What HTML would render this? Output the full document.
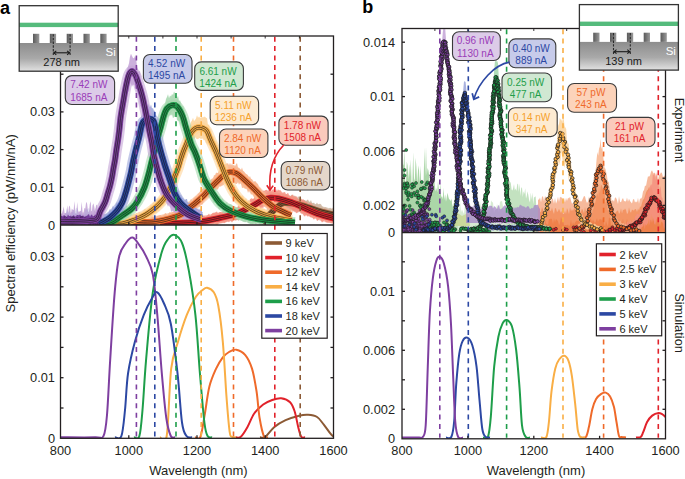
<!DOCTYPE html>
<html><head><meta charset="utf-8"><style>
html,body{margin:0;padding:0;background:#fff;width:685px;height:479px;overflow:hidden;}
body{position:relative;font-family:"Liberation Sans", sans-serif;}
</style></head><body>
<svg width="685" height="479" viewBox="0 0 685 479" style="position:absolute;left:0;top:0">
<rect width="685" height="479" fill="#fff"/>
<defs>
<clipPath id="cat"><rect x="60.5" y="36.0" width="273.0" height="189.0"/></clipPath>
<clipPath id="cab"><rect x="60.5" y="225.0" width="273.0" height="213.3"/></clipPath>
<clipPath id="cbt"><rect x="402.0" y="28.5" width="263.5" height="204.1"/></clipPath>
<clipPath id="cbb"><rect x="402.0" y="232.6" width="263.5" height="206.20000000000002"/></clipPath>
<linearGradient id="si" x1="0" y1="0" x2="0" y2="1"><stop offset="0" stop-color="#8d8d8d"/><stop offset="0.55" stop-color="#a9a9a9"/><stop offset="1" stop-color="#e2e2e2"/></linearGradient>
<linearGradient id="pil" x1="0" y1="0" x2="1" y2="0"><stop offset="0" stop-color="#5a5a5a"/><stop offset="0.5" stop-color="#7a7a7a"/><stop offset="1" stop-color="#9a9a9a"/></linearGradient>
</defs>
<g clip-path="url(#cat)" stroke-linecap="butt" stroke-linejoin="round">
<path d="M262,217.2 L263,215.2 L264,214.4 L265,214.6 L266,213.6 L267,212.4 L268,210.3 L269,210.1 L270,207.5 L271,206.6 L272,204.3 L273,203.5 L274,204.8 L275,203.2 L276,202.6 L277,200.1 L278,199.5 L279,200.2 L280,197.1 L281,197.6 L282,196.5 L283,194.9 L284,196.7 L285,195.6 L286,194.8 L287,193.9 L288,196 L289,197 L290,197.5 L291,195 L292,194.7 L293,195.5 L294,196.1 L295,195.4 L296,196.9 L297,198.6 L298,196.8 L299,196.4 L300,198.2 L301,199.8 L302,199.6 L303,200.3 L304,200.4 L305,199.9 L306,201.3 L307,200 L308,199.4 L309,201.6 L310,201.7 L311,200.1 L312,203 L313,203.2 L314,202.5 L315,204.8 L316,204 L317,202.5 L318,204.3 L319,204.1 L320,203.8 L321,204.2 L322,206 L323,207.2 L324,207.6 L325,207.4 L326,207.2 L327,208.5 L328,208.5 L329,209 L330,207.4 L331,208.8 L332,208.7 L333,207.4 L334,208.8 L335,210.2 L335,219.8 L334,220.7 L333,222.1 L332,219.2 L331,219.7 L330,218.9 L329,220.9 L328,219.2 L327,218.3 L326,217.8 L325,217.9 L324,217.4 L323,218.9 L322,217.9 L321,219 L320,218.6 L319,216.1 L318,217.6 L317,217.5 L316,216.8 L315,216 L314,215.1 L313,215.5 L312,214.4 L311,213.8 L310,215.9 L309,214.1 L308,215.3 L307,215.1 L306,213.3 L305,214.5 L304,212.1 L303,213.6 L302,211.1 L301,212 L300,212.5 L299,210.9 L298,213.1 L297,211.9 L296,211.6 L295,212.4 L294,210.5 L293,210.9 L292,209.8 L291,210.6 L290,210.8 L289,210.1 L288,211 L287,208.7 L286,209.3 L285,211.4 L284,210.4 L283,211.1 L282,209.9 L281,211.4 L280,211.5 L279,211.6 L278,211.9 L277,213.7 L276,215.2 L275,216.8 L274,215.4 L273,216.8 L272,216.9 L271,218.9 L270,221.5 L269,220.1 L268,222.8 L267,221.6 L266,223.5 L265,224.6 L264,225 L263,225 L262,225Z" fill="#cdb49e" opacity="0.85"/>
<path d="M262,222C263.3,220.7 267.3,216.6 270,214C272.7,211.4 275.7,208.3 278,206.5C280.3,204.7 280.9,203.4 283.8,203C286.7,202.6 291.3,203 295.5,203.8C299.7,204.6 304.8,206.3 309,207.6C313.2,208.9 316.4,210.4 320.7,211.6C325,212.8 332.6,214.4 335,215" fill="none" stroke="#cdb49e" stroke-width="11" opacity="0.6"/>
<path d="M160,219.6 L161,219.8 L162,219.9 L163,217.5 L164,218.3 L165,218.8 L166,219.4 L167,219.6 L168,219.7 L169,218.7 L170,218.7 L171,219 L172,219.4 L173,218.6 L174,218.6 L175,218.2 L176,217.1 L177,219 L178,216.9 L179,218.8 L180,217.7 L181,216.9 L182,218.2 L183,218.7 L184,218.7 L185,217.1 L186,216.7 L187,218.3 L188,217.4 L189,218.5 L190,217.3 L191,218 L192,218.4 L193,217.7 L194,217.3 L195,215.9 L196,217.1 L197,216.3 L198,217.4 L199,217 L200,215.7 L201,217.1 L202,216.8 L203,216.1 L204,215.6 L205,216.7 L206,216.5 L207,215.7 L208,215.1 L209,213.6 L210,216 L211,214.7 L212,213.5 L213,212.7 L214,212.8 L215,212.4 L216,211.9 L217,211.5 L218,213.6 L219,212.6 L220,211.9 L221,212 L222,212.8 L223,211.6 L224,211.5 L225,210.4 L226,211.1 L227,211.4 L228,210.5 L229,209.4 L230,209.5 L231,210 L232,210.5 L233,208.2 L234,208 L235,209.1 L236,207.1 L237,209 L238,205.8 L239,205.3 L240,207 L241,205.4 L242,205.5 L243,203.4 L244,203.6 L245,202.5 L246,201.7 L247,202.7 L248,200.5 L249,201.8 L250,199.3 L251,198.4 L252,198.2 L253,199.2 L254,198.1 L255,196.3 L256,198.4 L257,197 L258,196.8 L259,195.5 L260,192.9 L261,194.2 L262,193.2 L263,190.6 L264,191 L265,190.3 L266,189.9 L267,189.7 L268,191 L269,189.2 L270,188.5 L271,191.4 L272,189.3 L273,190.1 L274,188.5 L275,191.8 L276,189 L277,191.3 L278,189.2 L279,190.4 L280,190 L281,190.7 L282,192.5 L283,192.6 L284,192.3 L285,191.9 L286,194.3 L287,193.8 L288,192.7 L289,195.1 L290,195.7 L291,196.3 L292,195.1 L293,194.6 L294,196.9 L295,195.9 L296,197 L297,195.9 L298,199.5 L299,199 L300,198.3 L301,198.3 L302,199.8 L303,199.2 L304,199.8 L305,201 L306,202.2 L307,201.5 L308,203.8 L309,203.7 L310,203.1 L311,203.2 L312,203.8 L313,206.6 L314,205.3 L315,206.1 L316,207.3 L317,207.8 L318,208.3 L319,207.8 L320,207.9 L321,209.8 L322,210.3 L323,209.7 L324,208.5 L325,208.7 L326,210.2 L327,209.3 L328,209.8 L329,211.4 L330,212.4 L331,212.4 L332,211.4 L333,212.2 L334,213.9 L335,212.1 L335,223.9 L334,224.8 L333,222.6 L332,223.3 L331,223.1 L330,222.8 L329,222 L328,223.1 L327,222 L326,222.7 L325,220.6 L324,220.5 L323,221.8 L322,222.5 L321,221.1 L320,219.3 L319,219.2 L318,220.6 L317,221.1 L316,217.9 L315,217.8 L314,219.7 L313,218.4 L312,217.2 L311,217.6 L310,217.1 L309,215.4 L308,216.8 L307,215.9 L306,214.9 L305,216.6 L304,216 L303,214.4 L302,213.5 L301,213.7 L300,211.4 L299,211.4 L298,211.5 L297,213.3 L296,212.9 L295,210.9 L294,211.9 L293,210.4 L292,210.7 L291,207.8 L290,210.1 L289,208.1 L288,207 L287,208 L286,207 L285,207.1 L284,206 L283,206.5 L282,206.1 L281,207.1 L280,207.7 L279,205.8 L278,207.5 L277,204.1 L276,206.3 L275,206 L274,207.2 L273,206.9 L272,203.8 L271,205.9 L270,206.7 L269,207.6 L268,206.5 L267,207.2 L266,205.9 L265,207 L264,206.1 L263,208.5 L262,207.3 L261,209.6 L260,208.7 L259,208.5 L258,211.1 L257,210.2 L256,211.9 L255,210.8 L254,212.2 L253,212.3 L252,213.4 L251,214.3 L250,214.7 L249,214.9 L248,214.4 L247,217 L246,215 L245,215.8 L244,218.4 L243,217.4 L242,219.2 L241,219.7 L240,218 L239,220.5 L238,220.2 L237,220.1 L236,220.5 L235,220.5 L234,219.8 L233,221 L232,222.6 L231,221.3 L230,220.3 L229,222.5 L228,221 L227,221.4 L226,222.1 L225,222.6 L224,223.5 L223,222 L222,223.5 L221,222.4 L220,223.6 L219,222.6 L218,225 L217,224.4 L216,225 L215,223.3 L214,224 L213,223.7 L212,224.8 L211,225 L210,224.6 L209,224.6 L208,225 L207,225 L206,225 L205,225 L204,225 L203,225 L202,225 L201,225 L200,225 L199,225 L198,225 L197,225 L196,225 L195,225 L194,225 L193,225 L192,225 L191,225 L190,225 L189,225 L188,225 L187,225 L186,225 L185,225 L184,225 L183,225 L182,225 L181,225 L180,225 L179,225 L178,225 L177,225 L176,225 L175,225 L174,225 L173,225 L172,225 L171,225 L170,225 L169,225 L168,225 L167,225 L166,225 L165,225 L164,225 L163,225 L162,225 L161,225 L160,225Z" fill="#f4907f" opacity="0.85"/>
<path d="M160,224C166.4,223.7 188.4,222.9 198.4,221.9C208.4,220.9 213.6,219.3 220,217.9C226.4,216.5 231.2,215.8 236.8,213.7C242.4,211.6 249.4,207.5 253.6,205.3C257.8,203.1 259.2,201.6 262,200.3C264.8,199.1 267.6,198.1 270.4,197.8C273.2,197.5 275.4,197.9 278.8,198.6C282.2,199.3 286.3,200.5 290.5,202C294.7,203.5 299.4,205.9 303.9,207.8C308.4,209.8 312.2,211.9 317.4,213.7C322.6,215.5 332.1,218 335,218.8" fill="none" stroke="#f4907f" stroke-width="11" opacity="0.6"/>
<path d="M130,218 L131,218.7 L132,219 L133,216.6 L134,217.4 L135,218.6 L136,216.9 L137,216.7 L138,217.9 L139,217.2 L140,216.9 L141,217.4 L142,218 L143,216.5 L144,217.2 L145,217.5 L146,217.5 L147,217.6 L148,215.8 L149,217.1 L150,218 L151,215.6 L152,216.4 L153,216.4 L154,217.2 L155,217.4 L156,217.5 L157,216.1 L158,216.1 L159,215.4 L160,215.3 L161,215 L162,216.3 L163,214.6 L164,215.2 L165,213 L166,213.5 L167,214.5 L168,214.8 L169,212.8 L170,212.2 L171,213.1 L172,212.1 L173,212.3 L174,211.5 L175,210.5 L176,211.2 L177,210.8 L178,211.4 L179,210.9 L180,210.7 L181,207.9 L182,207.5 L183,206.7 L184,207.3 L185,205.9 L186,203.5 L187,203.1 L188,201.6 L189,203.2 L190,202 L191,198.7 L192,201 L193,199.5 L194,197.4 L195,197.4 L196,195.8 L197,196.5 L198,193.5 L199,193.4 L200,191.4 L201,190 L202,189.6 L203,188 L204,189.6 L205,187 L206,185.4 L207,183.6 L208,185.2 L209,182.4 L210,181.4 L211,179.9 L212,178.5 L213,179.4 L214,175 L215,175.3 L216,172.7 L217,172.8 L218,173.1 L219,170.4 L220,169.4 L221,169.2 L222,170 L223,167.7 L224,167.3 L225,164.4 L226,163.2 L227,163.8 L228,163 L229,165.3 L230,162.8 L231,165.2 L232,163.5 L233,165.6 L234,164.5 L235,166.3 L236,164.2 L237,163 L238,167.5 L239,167.8 L240,168.8 L241,170.1 L242,167.5 L243,170.8 L244,171.4 L245,172.8 L246,174.3 L247,174.2 L248,175.5 L249,178.1 L250,176.1 L251,179.2 L252,178.9 L253,182 L254,182.1 L255,180.7 L256,182 L257,183.2 L258,184 L259,187.5 L260,187.6 L261,189.6 L262,190.5 L263,191.9 L264,191.8 L265,193.3 L266,194.4 L267,196.1 L268,197 L269,196.4 L270,197.4 L271,198.8 L272,198.6 L273,199.5 L274,200.8 L275,203.1 L276,202.3 L277,203.3 L278,203.2 L279,203.1 L280,204.2 L281,206.2 L282,206.6 L283,206.7 L284,205.2 L285,206.3 L286,206.1 L287,208.8 L288,208.6 L289,209.2 L290,210.1 L291,208.7 L291,221.3 L290,221 L289,219.9 L288,219.1 L287,219.9 L286,218.9 L285,218.1 L284,219.5 L283,216.4 L282,216.1 L281,218 L280,215 L279,215.3 L278,214.2 L277,216 L276,215.7 L275,214.2 L274,212.9 L273,211.9 L272,213.4 L271,211.8 L270,210.2 L269,208.8 L268,209.8 L267,208.5 L266,206.9 L265,205.6 L264,206 L263,204.8 L262,203 L261,204.3 L260,202.1 L259,200.3 L258,198.7 L257,200.8 L256,199.9 L255,198.4 L254,197.5 L253,194.7 L252,193.6 L251,195.1 L250,191.1 L249,190.4 L248,192.9 L247,189 L246,188.4 L245,189 L244,187.7 L243,187.8 L242,188 L241,183.6 L240,183.2 L239,184.8 L238,182.2 L237,183.7 L236,183.9 L235,183.4 L234,182.4 L233,182.1 L232,180.9 L231,180.1 L230,179.3 L229,179.5 L228,180.7 L227,182 L226,180 L225,183.1 L224,184.6 L223,185.6 L222,185.4 L221,186.4 L220,186.6 L219,186 L218,189.4 L217,189.6 L216,188.6 L215,191.4 L214,192.4 L213,195 L212,195.8 L211,196.8 L210,194.9 L209,197.4 L208,197 L207,198.3 L206,198.8 L205,200.2 L204,200.8 L203,203.3 L202,205.1 L201,203.9 L200,205.5 L199,207.4 L198,206.1 L197,208.5 L196,207.9 L195,208.7 L194,212.2 L193,211.1 L192,210.7 L191,213.1 L190,214.9 L189,215.7 L188,214.2 L187,214.7 L186,216.2 L185,217.1 L184,219.7 L183,218.8 L182,219 L181,220.2 L180,221.5 L179,221.9 L178,221.9 L177,221.4 L176,221.4 L175,222 L174,221.4 L173,224.4 L172,223.2 L171,224.6 L170,222.7 L169,224.4 L168,224 L167,224.9 L166,225 L165,224.1 L164,225 L163,224.6 L162,225 L161,225 L160,225 L159,225 L158,225 L157,225 L156,225 L155,225 L154,225 L153,225 L152,225 L151,225 L150,225 L149,225 L148,225 L147,225 L146,225 L145,225 L144,225 L143,225 L142,225 L141,225 L140,225 L139,225 L138,225 L137,225 L136,225 L135,225 L134,225 L133,225 L132,225 L131,225 L130,225Z" fill="#f8b48c" opacity="0.85"/>
<path d="M130,223C131.7,222.9 135.7,222.6 140,222.3C144.3,222.1 150.8,222.2 155.8,221.5C160.8,220.8 165.8,219.6 170,218.4C174.2,217.2 178,216.1 181,214.5C184,212.9 185.7,210.7 188,208.8C190.3,207 192.4,205.6 195,203.4C197.6,201.2 200.6,198.7 203.4,195.9C206.2,193.1 208.9,189.6 211.7,186.7C214.5,183.8 217.9,180.5 220.1,178.4C222.3,176.3 223.3,175.1 225,174C226.7,172.9 228.2,172.1 230,172C231.8,171.9 234,172.3 236,173.2C238,174.1 238.9,174.9 241.8,177.5C244.7,180.1 250,185 253.6,188.5C257.2,192 260.2,195.5 263.6,198.6C267,201.7 270.3,204.8 273.7,207C277.1,209.2 280.9,210.6 283.8,212C286.7,213.4 289.8,214.8 291,215.4" fill="none" stroke="#f8b48c" stroke-width="11" opacity="0.6"/>
<path d="M110,218.8 L111,218.7 L112,218.1 L113,218.5 L114,218.9 L115,219.5 L116,217.6 L117,218 L118,219.1 L119,218.4 L120,218.3 L121,219.6 L122,217.4 L123,218.2 L124,219.5 L125,216.9 L126,218.1 L127,217.9 L128,217.2 L129,216.4 L130,217.1 L131,216.1 L132,215.5 L133,214.7 L134,213.8 L135,214.1 L136,213.6 L137,212.7 L138,214 L139,211.4 L140,212.4 L141,212.3 L142,212.1 L143,210.8 L144,209.7 L145,208.8 L146,209.4 L147,209.7 L148,208.1 L149,208.1 L150,205.9 L151,204.3 L152,205.3 L153,202.5 L154,202.5 L155,201.9 L156,201.3 L157,199.7 L158,199 L159,198.1 L160,197.2 L161,197.4 L162,196 L163,194.6 L164,190.3 L165,190.5 L166,188.7 L167,186.1 L168,184.3 L169,182.6 L170,182.5 L171,178.8 L172,176.3 L173,172.6 L174,169.4 L175,168 L176,164.3 L177,164.6 L178,158.9 L179,154.6 L180,152.1 L181,149 L182,147.6 L183,145 L184,141.6 L185,135.3 L186,135.5 L187,131.7 L188,130.1 L189,126.6 L190,125.3 L191,121.9 L192,120.4 L193,117.7 L194,121 L195,120.1 L196,118.5 L197,115.3 L198,117.7 L199,116.4 L200,117.8 L201,117.5 L202,117 L203,117.5 L204,116.8 L205,116.8 L206,117.8 L207,118.2 L208,125.2 L209,123.9 L210,129.3 L211,129.6 L212,134.2 L213,137 L214,136.3 L215,141.4 L216,140.3 L217,144.6 L218,145.4 L219,152.4 L220,151.5 L221,155.6 L222,157.3 L223,161.9 L224,163.1 L225,166.3 L226,169.4 L227,172.7 L228,173.3 L229,174 L230,176.5 L231,180.6 L232,181.7 L233,185.1 L234,184.8 L235,186.4 L236,189.7 L237,188.9 L238,191.1 L239,193.5 L240,194.7 L241,195.7 L242,195.5 L243,195.7 L244,197.9 L245,199.8 L246,197.8 L247,200.9 L248,201.1 L249,200 L250,201.7 L251,203.1 L252,204.2 L253,203 L254,203.5 L255,205.9 L256,205.2 L257,205.9 L258,206.8 L259,205.6 L260,208.5 L261,208.4 L262,207.8 L263,209 L264,208.6 L265,209.2 L266,210.6 L267,209.4 L268,209.9 L269,210.4 L270,211.7 L271,209.9 L272,210.4 L273,212.8 L274,213.2 L275,212.6 L276,211.7 L277,212.2 L278,213.6 L279,213.5 L280,213.8 L281,213 L282,213.7 L283,215 L284,215.2 L285,213.4 L286,215.3 L287,215.7 L288,214.2 L289,213.7 L290,216.1 L291,215.2 L292,216.5 L292,225 L291,225 L290,225 L289,225 L288,225 L287,224.9 L286,224.6 L285,225 L284,223.4 L283,223.1 L282,224.4 L281,224.3 L280,223.2 L279,224.6 L278,222.8 L277,224.7 L276,222.8 L275,224.1 L274,223.7 L273,223.5 L272,222.5 L271,221.3 L270,221.5 L269,221.4 L268,221.3 L267,220 L266,221.3 L265,219.2 L264,220.5 L263,221.1 L262,220.7 L261,218.6 L260,219.5 L259,217.3 L258,216.8 L257,218.7 L256,216.9 L255,217.7 L254,217.2 L253,215.5 L252,214.8 L251,213.7 L250,213.8 L249,212 L248,211.9 L247,212.6 L246,210.1 L245,210.2 L244,208.7 L243,208.9 L242,210 L241,208 L240,208 L239,205.3 L238,204.4 L237,202.8 L236,203.3 L235,202.5 L234,199.8 L233,199.2 L232,195.8 L231,194.2 L230,192.8 L229,189.1 L228,190.3 L227,185.6 L226,185.2 L225,184 L224,178.4 L223,175.9 L222,177.3 L221,174.3 L220,170.9 L219,166.8 L218,167.4 L217,163.1 L216,159.7 L215,160.2 L214,159.1 L213,153 L212,151.4 L211,151.5 L210,147.9 L209,143.9 L208,145.8 L207,143.2 L206,143.2 L205,139.4 L204,140.6 L203,138.9 L202,138.3 L201,139.6 L200,137.9 L199,138.2 L198,139.3 L197,139.1 L196,138.6 L195,137 L194,139.7 L193,141.8 L192,144.1 L191,142.1 L190,146 L189,146.2 L188,150.8 L187,152.7 L186,156.1 L185,158.9 L184,157.3 L183,160.3 L182,163.8 L181,169.3 L180,168.9 L179,172.9 L178,178.7 L177,180.9 L176,183 L175,185.1 L174,188 L173,189 L172,192 L171,194.5 L170,194.7 L169,198.8 L168,198.7 L167,202 L166,202 L165,203.5 L164,205.1 L163,206.2 L162,206.2 L161,208.6 L160,208 L159,211.9 L158,210.3 L157,212.4 L156,212.9 L155,213.8 L154,213.4 L153,215.6 L152,216.3 L151,217.5 L150,217.4 L149,218.2 L148,218.5 L147,220.2 L146,220 L145,220.7 L144,222.2 L143,220.8 L142,221.2 L141,222.9 L140,222.4 L139,223.3 L138,224.7 L137,223.1 L136,223.6 L135,224.6 L134,224.4 L133,225 L132,225 L131,225 L130,225 L129,225 L128,225 L127,225 L126,225 L125,225 L124,225 L123,225 L122,225 L121,225 L120,225 L119,225 L118,225 L117,225 L116,225 L115,225 L114,225 L113,225 L112,225 L111,225 L110,225Z" fill="#fdd49a" opacity="0.85"/>
<path d="M110,224C112.1,223.9 119.1,224.1 122.6,223.6C126.1,223.1 128.1,222.1 131,221.1C133.9,220.1 137.4,218.7 140,217.6C142.6,216.5 144.2,215.7 146.3,214.4C148.4,213.1 150.4,211.7 152.5,210C154.6,208.3 156.9,206.3 158.8,204.4C160.7,202.5 162.3,200.9 163.8,198.8C165.3,196.7 166.7,194.3 168,192C169.3,189.7 170.6,187.6 171.7,185C172.8,182.4 173.5,179.5 174.6,176.7C175.7,173.9 177,171.2 178,168.4C179,165.6 179.6,162.9 180.5,160C181.4,157.1 182.5,153.8 183.5,151C184.5,148.2 185.7,145.9 186.7,143.4C187.7,140.9 188.5,138.1 189.5,136C190.5,133.9 191.4,132.2 192.5,130.9C193.6,129.6 194.9,128.6 196,128C197.1,127.4 197.9,127.3 199,127.3C200.1,127.3 201.2,127.4 202.5,128C203.8,128.6 205.3,128.9 206.7,130.9C208,132.9 209,136.4 210.6,140C212.2,143.6 214.5,148.3 216.3,152.5C218.1,156.7 219.6,160.9 221.3,165.1C223,169.3 224.4,173.4 226.3,177.6C228.2,181.8 230.5,186.6 232.6,190.2C234.7,193.8 236.5,196.3 238.9,198.9C241.3,201.5 243.6,203.7 246.9,206C250.2,208.3 254.7,210.8 258.6,212.5C262.5,214.2 266.2,215.4 270.4,216.5C274.6,217.6 280.2,218.5 283.8,219.2C287.4,219.9 290.6,220.3 292,220.5" fill="none" stroke="#fdd49a" stroke-width="11" opacity="0.6"/>
<path d="M100,219.1 L101,217.9 L102,218.9 L103,219.7 L104,218.6 L105,219.9 L106,219.8 L107,218.1 L108,217.2 L109,217.8 L110,218.7 L111,217.4 L112,217.9 L113,217.8 L114,216.2 L115,215.4 L116,214.7 L117,214.1 L118,211.9 L119,211.6 L120,212.2 L121,211.5 L122,209.4 L123,208.5 L124,207.5 L125,209.5 L126,206.3 L127,205.4 L128,207.3 L129,204.5 L130,205.7 L131,202.3 L132,203.7 L133,202.7 L134,199.4 L135,198.8 L136,198.5 L137,197.1 L138,195.4 L139,193.3 L140,189 L141,189.1 L142,187.3 L143,182.9 L144,183 L145,180 L146,175 L147,173.1 L148,170.1 L149,165.7 L150,160.9 L151,154.1 L152,151.4 L153,149.5 L154,143.2 L155,142.3 L156,135.7 L157,133.2 L158,125.5 L159,123.8 L160,122.2 L161,117.7 L162,113.4 L163,107.4 L164,106.2 L165,103.9 L166,99 L167,97.1 L168,94.3 L169,98.3 L170,95.4 L171,96.4 L172,93.9 L173,94.9 L174,91.4 L175,93.2 L176,96.7 L177,98.2 L178,95.7 L179,101 L180,100.2 L181,103.1 L182,106.5 L183,105.5 L184,108.9 L185,112.6 L186,118.5 L187,119.3 L188,125.1 L189,126.4 L190,130.9 L191,134.2 L192,139.1 L193,137.1 L194,140.3 L195,142.7 L196,146.6 L197,150.9 L198,154 L199,155.3 L200,157.7 L201,161.6 L202,166.4 L203,169.8 L204,172.8 L205,172.3 L206,175.8 L207,177.9 L208,180.1 L209,179.6 L210,181 L211,183.6 L212,186.7 L213,186 L214,188.1 L215,191.1 L216,192.1 L217,194.3 L218,194.4 L219,196.6 L220,195.7 L221,199.5 L222,198.1 L223,199.5 L224,201.4 L225,203 L226,202.4 L227,202 L228,204.5 L229,203.7 L230,204.2 L231,204.3 L232,205.1 L233,206.2 L234,208 L235,206.4 L236,208.1 L237,207.3 L238,207.9 L239,208.9 L240,207.9 L241,208.2 L242,210.7 L243,209.7 L244,210.7 L245,209.7 L246,209.8 L247,210.9 L248,211 L249,211.4 L250,212.9 L251,211 L252,212.5 L253,213.2 L254,212 L255,214.3 L256,213.2 L257,213.6 L258,212.9 L259,213.1 L260,214.5 L261,215.1 L262,214.3 L263,213.6 L264,213.4 L265,213.6 L266,215.6 L267,215.5 L268,214.7 L269,214.3 L270,215.8 L271,214.5 L272,216.3 L273,214.4 L274,215.5 L275,215.7 L276,215.7 L277,214.8 L278,216.4 L279,216 L280,215.8 L281,216.3 L282,215.3 L283,217.2 L284,217.6 L285,215.9 L286,216.9 L287,217.7 L288,215.9 L289,216.4 L290,218 L291,216.8 L292,217.7 L293,218.4 L294,218.3 L295,218 L295,225 L294,225 L293,225 L292,225 L291,225 L290,225 L289,225 L288,225 L287,225 L286,225 L285,225 L284,225 L283,225 L282,225 L281,225 L280,225 L279,225 L278,225 L277,225 L276,225 L275,225 L274,225 L273,225 L272,225 L271,225 L270,225 L269,225 L268,225 L267,225 L266,225 L265,224.2 L264,225 L263,225 L262,225 L261,223.8 L260,225 L259,223.6 L258,223.1 L257,222.9 L256,224.7 L255,223.7 L254,223.2 L253,224.6 L252,224 L251,224.3 L250,223.9 L249,223.2 L248,223.2 L247,221.3 L246,221.8 L245,222.4 L244,221.5 L243,222.1 L242,220.6 L241,221 L240,218.9 L239,220.5 L238,220.1 L237,219.1 L236,218.2 L235,217.4 L234,217.8 L233,216.5 L232,216.2 L231,217.9 L230,216.5 L229,215.4 L228,213.8 L227,213.8 L226,212.6 L225,212.3 L224,213.6 L223,212.2 L222,209.8 L221,208.9 L220,209.2 L219,209.4 L218,207.2 L217,205.7 L216,203.9 L215,202.1 L214,203.2 L213,201.4 L212,198.8 L211,196.7 L210,195.5 L209,195.9 L208,192.7 L207,192 L206,191.2 L205,188.7 L204,185.1 L203,184.6 L202,178.8 L201,179.2 L200,174.3 L199,170.3 L198,169 L197,166.9 L196,164.8 L195,161.3 L194,158.3 L193,158.6 L192,155.7 L191,153.2 L190,149.4 L189,147.2 L188,145.2 L187,142.5 L186,138.4 L185,136.3 L184,131.6 L183,129.6 L182,125.5 L181,126 L180,122.8 L179,120.7 L178,121.1 L177,119.7 L176,114.1 L175,116.7 L174,116.9 L173,118.3 L172,114.3 L171,115.8 L170,114.6 L169,116.3 L168,116.7 L167,118.1 L166,122.7 L165,121.4 L164,126.7 L163,127.5 L162,134.1 L161,137.3 L160,141.8 L159,140.8 L158,146.6 L157,152.3 L156,156.6 L155,157.4 L154,163.4 L153,163.6 L152,169.8 L151,172 L150,175.9 L149,180.3 L148,183.8 L147,185.4 L146,189.5 L145,192.1 L144,197 L143,197.9 L142,199.2 L141,202.7 L140,204.3 L139,204.3 L138,206.4 L137,208.7 L136,210.4 L135,210.9 L134,211.2 L133,212 L132,213.5 L131,215.9 L130,215.5 L129,216.1 L128,217.8 L127,217.7 L126,218.5 L125,218.4 L124,220.8 L123,220.1 L122,220.8 L121,220.6 L120,221.8 L119,223.7 L118,225 L117,224 L116,225 L115,225 L114,225 L113,225 L112,225 L111,225 L110,225 L109,225 L108,225 L107,225 L106,225 L105,225 L104,225 L103,225 L102,225 L101,225 L100,225Z" fill="#a3d6ab" opacity="0.85"/>
<path d="M100,224C101.2,223.9 105.1,224.1 107.5,223.6C109.9,223.1 111.7,222.5 114.2,221.1C116.7,219.7 119.8,217.1 122.6,215.2C125.4,213.2 128.5,211.7 131,209.4C133.5,207.1 135.3,205 137.5,201.3C139.7,197.7 142.6,192.1 144.4,187.5C146.2,182.9 147.3,178.4 148.6,173.8C149.9,169.2 150.9,164 152,160C153.1,156 154,153.9 155,150C156,146.1 157,140.6 158,136.7C159,132.8 160.1,129.8 161,126.3C161.9,122.8 162.7,118.9 163.7,115.9C164.7,112.9 165.6,110.3 167,108.5C168.4,106.7 170.3,105.6 172,105.3C173.7,105 175.2,104.7 177,106.5C178.8,108.3 181.1,112.6 182.5,115.9C183.9,119.2 184.5,122.7 185.6,126.3C186.7,129.9 188,134.4 189,137.5C190,140.6 190.6,142.8 191.5,145C192.4,147.2 193.3,148.6 194.2,150.5C195.1,152.4 195.8,154.3 196.7,156.7C197.6,159.1 198.7,162.3 199.6,165.1C200.5,167.9 201.3,170.9 202.1,173.4C202.9,175.9 202.9,176.9 204.5,180C206.1,183.1 209.1,187.8 211.7,191.7C214.3,195.6 217,200.3 220.1,203.4C223.2,206.5 225.9,208.3 230.1,210.4C234.3,212.5 239.9,214.7 245.2,216.2C250.5,217.7 255,218.6 262,219.6C269,220.6 281.6,221.6 287.1,222.1C292.6,222.6 293.7,222.4 295,222.5" fill="none" stroke="#a3d6ab" stroke-width="11" opacity="0.6"/>
<path d="M99,216.5 L100,215.4 L101,217.3 L102,215.8 L103,213.8 L104,213.7 L105,214.6 L106,214 L107,213.8 L108,213.1 L109,211.4 L110,208.7 L111,210.8 L112,208.2 L113,205.5 L114,207.8 L115,206.7 L116,203.7 L117,202.2 L118,202.9 L119,200.5 L120,198.2 L121,197.3 L122,194.1 L123,190.8 L124,190.5 L125,185.7 L126,184.8 L127,180 L128,174.1 L129,173.7 L130,167.7 L131,164.1 L132,157.9 L133,153.8 L134,148.6 L135,144.9 L136,139.1 L137,136.5 L138,131.8 L139,126.3 L140,121.5 L141,118.2 L142,113.1 L143,108.5 L144,111.7 L145,106.3 L146,108.8 L147,109.5 L148,103.3 L149,106.1 L150,107.3 L151,104.4 L152,108.6 L153,107.9 L154,110.9 L155,110.5 L156,119.4 L157,126.1 L158,129.2 L159,132.4 L160,138.8 L161,140.6 L162,147.5 L163,149.5 L164,152.8 L165,155.5 L166,156.9 L167,160.8 L168,164.7 L169,166.7 L170,171.7 L171,173 L172,179.5 L173,178.8 L174,181.7 L175,185.5 L176,188.2 L177,190.2 L178,189.4 L179,192.6 L180,195.6 L181,194.5 L182,197.4 L183,198.1 L184,199.7 L185,199.9 L186,198.9 L187,199.1 L188,203.4 L189,202.6 L190,202.5 L191,204.9 L192,202.9 L193,205.8 L194,207.1 L195,207.8 L196,207.4 L197,209.3 L198,208.3 L199,210.3 L200,208.6 L201,211.2 L202,209.2 L202,224.5 L201,225 L200,225 L199,224 L198,224.9 L197,222.9 L196,223.1 L195,223.4 L194,220.9 L193,219.7 L192,218 L191,218.5 L190,217.9 L189,216.6 L188,217.1 L187,215.9 L186,216.3 L185,215.7 L184,212.5 L183,214.1 L182,212.1 L181,211 L180,210.5 L179,209.6 L178,208.6 L177,205.5 L176,202.9 L175,204 L174,202.5 L173,199.5 L172,196.2 L171,192.6 L170,188.9 L169,187.2 L168,186 L167,181 L166,180.9 L165,176.4 L164,175.2 L163,168.3 L162,168.5 L161,163.9 L160,157.9 L159,154 L158,152.9 L157,150.2 L156,143.9 L155,134.8 L154,136.5 L153,133 L152,131.7 L151,132 L150,132.7 L149,127.9 L148,134 L147,132 L146,128.7 L145,131.4 L144,131.7 L143,136.8 L142,134.5 L141,142.5 L140,147.2 L139,151.5 L138,151.3 L137,155.8 L136,160.5 L135,162.5 L134,168.7 L133,172.3 L132,178.5 L131,181.7 L130,186.3 L129,191.4 L128,193.5 L127,197.1 L126,199.3 L125,204.3 L124,206 L123,209.8 L122,213.1 L121,211 L120,214.3 L119,215.5 L118,218.4 L117,216.6 L116,218.2 L115,219.8 L114,221.2 L113,224 L112,221.7 L111,225 L110,223 L109,225 L108,225 L107,225 L106,225 L105,225 L104,225 L103,225 L102,225 L101,225 L100,225 L99,225Z" fill="#9aa3d8" opacity="0.85"/>
<path d="M99,223.5C99.6,223.2 100.7,222.9 102.5,221.9C104.3,220.9 107.2,219.5 109.6,217.7C112,215.9 114.6,213.5 116.7,211C118.8,208.5 120.8,205.5 122.2,202.7C123.6,199.9 124.3,197.2 125.2,194.4C126.1,191.6 126.7,189.4 127.6,186C128.5,182.6 129.7,178.1 130.7,173.8C131.7,169.5 132.4,164.5 133.4,160C134.4,155.5 135.5,150.9 136.5,147C137.5,143.1 138.3,140.5 139.2,136.7C140.1,132.9 141,126.8 142.1,124C143.2,121.2 144.3,120.7 145.5,119.8C146.7,118.9 148.2,118.4 149.5,118.5C150.8,118.6 152.4,119.1 153.4,120.5C154.4,121.9 154.9,124.3 155.5,127C156.1,129.7 156.1,132.3 157.1,136.7C158.1,141.1 160.2,149.3 161.3,153.4C162.4,157.5 162.7,158.2 163.5,161C164.3,163.8 165.2,166.6 166.4,170C167.6,173.4 169.1,177.8 170.5,181.7C171.9,185.6 172.9,189.9 174.6,193.4C176.2,196.9 178.1,200 180.4,202.7C182.7,205.4 185.5,207.5 188.6,209.8C191.7,212.2 196.9,215.5 199.1,216.8C201.3,218.1 201.5,217.4 202,217.5" fill="none" stroke="#9aa3d8" stroke-width="11" opacity="0.6"/>
<path d="M61,214.9 L62,213 L63,215.2 L64,215.4 L65,212.7 L66,213.6 L67,214.7 L68,212.2 L69,216 L70,215.3 L71,212.3 L72,212.2 L73,211.6 L74,214.8 L75,213.7 L76,213.3 L77,214.2 L78,214.4 L79,212.1 L80,211.3 L81,213.2 L82,215.1 L83,213.6 L84,214.7 L85,214.4 L86,212.7 L87,214.8 L88,214.2 L89,214.3 L90,214.8 L91,210.6 L92,211.6 L93,214.7 L94,211 L95,211.6 L96,212.3 L97,209.4 L98,211.1 L99,207.6 L100,205.5 L101,201.1 L102,201.2 L103,197.5 L104,196.8 L105,194.7 L106,192.6 L107,189.3 L108,186 L109,180 L110,179.2 L111,173.1 L112,170.1 L113,163.2 L114,156.3 L115,152 L116,142.6 L117,138.2 L118,128.3 L119,120.3 L120,109.1 L121,105.5 L122,92.2 L123,91.4 L124,80.4 L125,76.4 L126,73.9 L127,69.3 L128,66.6 L129,63.2 L130,56.5 L131,53.7 L132,56 L133,57.9 L134,58.2 L135,56.1 L136,58.6 L137,65.9 L138,71.3 L139,71.8 L140,70.6 L141,81.2 L142,84.2 L143,86.8 L144,89.7 L145,99.2 L146,97.4 L147,105.8 L148,112.1 L149,118.6 L150,120.7 L151,126.6 L152,132.6 L153,138.4 L154,142.3 L155,151.6 L156,151.5 L157,158.7 L158,162.5 L159,167.7 L160,167.3 L161,170.5 L162,171.8 L163,177.9 L164,178.2 L165,183.5 L166,186.4 L167,183.2 L168,188.7 L169,189.1 L170,192.6 L171,192.3 L172,193.9 L173,191.9 L174,192.3 L175,196 L176,197.1 L177,197.7 L178,199.5 L179,201.3 L180,203 L181,203.2 L182,202 L183,201.3 L184,203.9 L185,206.1 L186,204.7 L187,203.9 L188,205 L189,205.7 L190,209.9 L191,206.2 L192,208.8 L193,210.3 L194,211.8 L195,208.6 L196,211.5 L197,209.6 L198,209 L199,213.1 L200,209.6 L201,210.3 L201,225 L200,225 L199,225 L198,225 L197,225 L196,223.8 L195,224.8 L194,225 L193,225 L192,225 L191,223 L190,223.7 L189,221.6 L188,221 L187,219.9 L186,221.2 L185,222.1 L184,221.9 L183,219.6 L182,217.9 L181,216.1 L180,218.9 L179,216.8 L178,215.5 L177,213.2 L176,215.9 L175,211.7 L174,213.3 L173,210.6 L172,211.8 L171,211.2 L170,206.5 L169,203.9 L168,206.8 L167,203.8 L166,201.4 L165,202.1 L164,199.8 L163,197 L162,195.5 L161,193.2 L160,185.9 L159,182.2 L158,179.1 L157,181.1 L156,174.8 L155,171 L154,164.3 L153,164 L152,155.9 L151,153.4 L150,149.2 L149,142.7 L148,138.4 L147,130.3 L146,123.7 L145,119.9 L144,114.2 L143,116.1 L142,111.6 L141,106 L140,106.8 L139,99 L138,93.3 L137,92.7 L136,88.8 L135,86 L134,84.6 L133,84.8 L132,86.7 L131,83.7 L130,83.2 L129,91.9 L128,91.3 L127,94.7 L126,98.7 L125,104.3 L124,109 L123,118.1 L122,124 L121,127.8 L120,134 L119,144.5 L118,155.1 L117,156.5 L116,166.2 L115,170.6 L114,176.4 L113,180 L112,189.9 L111,189.1 L110,195.1 L109,199.1 L108,202.7 L107,203.6 L106,209.4 L105,210 L104,214.2 L103,215.2 L102,217 L101,219.2 L100,222.4 L99,224 L98,225 L97,225 L96,225 L95,225 L94,225 L93,225 L92,225 L91,225 L90,225 L89,225 L88,225 L87,225 L86,225 L85,225 L84,225 L83,225 L82,225 L81,225 L80,225 L79,225 L78,225 L77,225 L76,225 L75,225 L74,225 L73,225 L72,225 L71,225 L70,225 L69,225 L68,225 L67,225 L66,225 L65,225 L64,225 L63,225 L62,225 L61,225Z" fill="#c3a3d6" opacity="0.85"/>
<path d="M61,221.5C64.2,221.4 75.2,221.4 80,221.2C84.8,221 87.2,220.9 90,220.5C92.8,220.1 95.3,220.6 97,219C98.7,217.4 99.1,213.7 100.4,211C101.7,208.3 103.7,205.5 104.9,202.7C106.1,199.9 106.7,197.2 107.5,194.4C108.3,191.6 109.2,188.9 110,186C110.8,183.1 111.4,180 112,177C112.6,174 113,170.8 113.5,168C114,165.2 114.5,163 115,160C115.5,157 115.9,153.3 116.4,150C116.9,146.7 117.5,143.3 118,140C118.5,136.7 118.9,133.3 119.3,130C119.7,126.7 120,122.6 120.3,120C120.6,117.4 120.6,117.4 121.1,114.2C121.6,111 122.6,105.2 123.4,100.7C124.2,96.2 124.9,91.3 125.8,87.1C126.7,82.9 127.6,78.2 128.6,75.5C129.6,72.8 130.8,70.9 132,71C133.2,71.1 134.6,73.5 135.8,76C137,78.5 138.2,82.5 139.3,86C140.4,89.5 141.5,93 142.5,97C143.5,101 144.4,105.8 145.3,110C146.2,114.2 146.9,118 147.7,122C148.5,126 149.3,130.7 150,134C150.7,137.3 151.1,138.8 151.7,142C152.3,145.2 152.9,150.1 153.5,153.4C154.1,156.7 154.8,159.2 155.5,162C156.2,164.8 156.7,166.7 157.6,170C158.5,173.3 159.6,177.7 161.1,181.7C162.6,185.7 164,190.1 166.4,194C168.8,197.9 172.2,201.7 175.7,205.1C179.2,208.5 183.5,212.1 187.4,214.4C191.3,216.7 196.8,218.2 199.1,219.1C201.4,219.9 201.1,219.4 201.5,219.5" fill="none" stroke="#c3a3d6" stroke-width="11" opacity="0.6"/>
<path d="M61,225 L61,214 L61.9,213.4 L62.8,210.5 L63.7,206.4 L64.6,213.2 L65.5,213.4 L66.4,212.3 L67.3,205.2 L68.2,213.1 L69.1,205.5 L70,206.7 L70.9,213.2 L71.8,208.6 L72.7,209.8 L73.6,210.2 L74.5,201.1 L75.4,213.5 L76.3,213.9 L77.2,202.1 L78.1,210.4 L79,212.6 L79.9,211.2 L80.8,210.8 L81.7,201.8 L82.6,212.5 L83.5,212.5 L84.4,207.9 L85.3,208.4 L86.2,201.8 L87.1,203.8 L88,210.9 L88.9,212.6 L89.8,203.9 L90.7,201.2 L91.6,213.9 L92.5,205.6 L93.4,203.3 L94.3,206.9 L95.2,212.5 L96.1,204.5 L97,205.6 L97.9,212.7 L98.8,207 L99.7,212.4 L100.6,213.8 L101,225 Z" fill="#c3a3d6" opacity="0.85"/>
<path d="M63,225 L63,215.8 L64.3,215.2 L65.6,214.7 L66.9,208.4 L68.2,213.1 L69.5,210.7 L70.8,215.8 L72.1,212.9 L73.4,209.2 L74.7,212.8 L76,207.8 L77.3,208.6 L78.6,214.2 L79.9,216 L81.2,210.3 L82.5,215.7 L83.8,216 L85.1,210.6 L86.4,209.2 L87.7,209.2 L89,207.7 L90.3,215.3 L91.6,215.8 L92,225 Z" fill="#9aa3d8" opacity="0.3"/>
<path d="M61,225 L61,215.7 L62,215.9 L63,216.5 L64,214.8 L65,216 L66,216.7 L67,216.7 L68,214.6 L69,216 L70,215.9 L71,215.5 L72,216.9 L73,215.6 L74,215.3 L75,216.8 L76,215.9 L77,214.9 L78,214.9 L79,215.5 L80,214.2 L81,215.8 L82,216.2 L83,215.3 L84,216.5 L85,216.8 L86,215.7 L87,216 L88,214.4 L89,214.2 L90,216.9 L91,214.9 L92,214.6 L93,216.7 L94,216.2 L95,214.4 L96,215 L97,214.7 L98,214.8 L99,212.5 L100,209.4 L101,207.3 L101.5,225 Z" fill="#6e3896" opacity="0.95"/>
<g fill="none" stroke="#2a1238" stroke-width="0.5" opacity="0.7"><circle cx="81.6" cy="221.1" r="1.1"/><circle cx="93.2" cy="223.3" r="1.1"/><circle cx="94.6" cy="219.6" r="1.1"/><circle cx="97.1" cy="220" r="1.1"/><circle cx="73.3" cy="217.7" r="1.1"/><circle cx="80.9" cy="218.1" r="1.1"/><circle cx="72.1" cy="221.3" r="1.1"/><circle cx="90.7" cy="222.3" r="1.1"/><circle cx="65.2" cy="217.4" r="1.1"/><circle cx="71.4" cy="220.9" r="1.1"/><circle cx="93" cy="222.6" r="1.1"/><circle cx="96.5" cy="221.1" r="1.1"/><circle cx="85.6" cy="219" r="1.1"/><circle cx="73.6" cy="218.4" r="1.1"/><circle cx="81.8" cy="221.3" r="1.1"/><circle cx="83.2" cy="219.7" r="1.1"/><circle cx="77.7" cy="218.7" r="1.1"/><circle cx="92.2" cy="221.1" r="1.1"/><circle cx="89.7" cy="222.7" r="1.1"/><circle cx="72.4" cy="217.8" r="1.1"/><circle cx="72.5" cy="223.4" r="1.1"/><circle cx="91.3" cy="219.8" r="1.1"/><circle cx="90.7" cy="219.4" r="1.1"/><circle cx="94" cy="217.6" r="1.1"/><circle cx="89.4" cy="223.9" r="1.1"/><circle cx="77.5" cy="220.2" r="1.1"/><circle cx="66.8" cy="218.9" r="1.1"/><circle cx="70.7" cy="219.1" r="1.1"/><circle cx="64.5" cy="219.1" r="1.1"/><circle cx="65.9" cy="220.7" r="1.1"/><circle cx="77" cy="218.6" r="1.1"/><circle cx="96.9" cy="219.2" r="1.1"/><circle cx="81.7" cy="223.3" r="1.1"/><circle cx="90.1" cy="223.8" r="1.1"/><circle cx="84.5" cy="223.1" r="1.1"/><circle cx="64.4" cy="222.1" r="1.1"/><circle cx="74.4" cy="219.2" r="1.1"/><circle cx="90.5" cy="222.2" r="1.1"/><circle cx="74.7" cy="219.5" r="1.1"/><circle cx="72.3" cy="223.5" r="1.1"/><circle cx="84.7" cy="218.8" r="1.1"/><circle cx="81.7" cy="217.4" r="1.1"/><circle cx="72" cy="220.5" r="1.1"/><circle cx="98" cy="223" r="1.1"/><circle cx="82.3" cy="222.3" r="1.1"/><circle cx="71.3" cy="221.9" r="1.1"/><circle cx="98.9" cy="218.1" r="1.1"/><circle cx="96.5" cy="223.9" r="1.1"/><circle cx="75.6" cy="222.7" r="1.1"/><circle cx="98.6" cy="218" r="1.1"/><circle cx="79.2" cy="221.2" r="1.1"/><circle cx="91.4" cy="218.9" r="1.1"/><circle cx="89.8" cy="221.9" r="1.1"/><circle cx="93.7" cy="222.1" r="1.1"/><circle cx="93.9" cy="221.2" r="1.1"/><circle cx="82.1" cy="220.2" r="1.1"/><circle cx="77.1" cy="220.2" r="1.1"/><circle cx="80.3" cy="219.7" r="1.1"/><circle cx="67.4" cy="219.8" r="1.1"/><circle cx="97" cy="219.1" r="1.1"/></g>
<path d="M262,222C263.3,220.7 267.3,216.6 270,214C272.7,211.4 275.7,208.3 278,206.5C280.3,204.7 280.9,203.4 283.8,203C286.7,202.6 291.3,203 295.5,203.8C299.7,204.6 304.8,206.3 309,207.6C313.2,208.9 316.4,210.4 320.7,211.6C325,212.8 332.6,214.4 335,215" fill="none" stroke="#8c5a35" stroke-width="6.199999999999999"/>
<path d="M262,222C263.3,220.7 267.3,216.6 270,214C272.7,211.4 275.7,208.3 278,206.5C280.3,204.7 280.9,203.4 283.8,203C286.7,202.6 291.3,203 295.5,203.8C299.7,204.6 304.8,206.3 309,207.6C313.2,208.9 316.4,210.4 320.7,211.6C325,212.8 332.6,214.4 335,215" fill="none" stroke="#161616" stroke-width="4.199999999999999" opacity="0.72"/>
<path d="M262,222C263.3,220.7 267.3,216.6 270,214C272.7,211.4 275.7,208.3 278,206.5C280.3,204.7 280.9,203.4 283.8,203C286.7,202.6 291.3,203 295.5,203.8C299.7,204.6 304.8,206.3 309,207.6C313.2,208.9 316.4,210.4 320.7,211.6C325,212.8 332.6,214.4 335,215" fill="none" stroke="#8c5a35" stroke-width="2.8999999999999995" opacity="0.9"/>
<path d="M262,222C263.3,220.7 267.3,216.6 270,214C272.7,211.4 275.7,208.3 278,206.5C280.3,204.7 280.9,203.4 283.8,203C286.7,202.6 291.3,203 295.5,203.8C299.7,204.6 304.8,206.3 309,207.6C313.2,208.9 316.4,210.4 320.7,211.6C325,212.8 332.6,214.4 335,215" fill="none" stroke="#161616" stroke-width="0.8" opacity="0.8"/>
<path d="M160,224C166.4,223.7 188.4,222.9 198.4,221.9C208.4,220.9 213.6,219.3 220,217.9C226.4,216.5 231.2,215.8 236.8,213.7C242.4,211.6 249.4,207.5 253.6,205.3C257.8,203.1 259.2,201.6 262,200.3C264.8,199.1 267.6,198.1 270.4,197.8C273.2,197.5 275.4,197.9 278.8,198.6C282.2,199.3 286.3,200.5 290.5,202C294.7,203.5 299.4,205.9 303.9,207.8C308.4,209.8 312.2,211.9 317.4,213.7C322.6,215.5 332.1,218 335,218.8" fill="none" stroke="#e1222b" stroke-width="6.199999999999999"/>
<path d="M160,224C166.4,223.7 188.4,222.9 198.4,221.9C208.4,220.9 213.6,219.3 220,217.9C226.4,216.5 231.2,215.8 236.8,213.7C242.4,211.6 249.4,207.5 253.6,205.3C257.8,203.1 259.2,201.6 262,200.3C264.8,199.1 267.6,198.1 270.4,197.8C273.2,197.5 275.4,197.9 278.8,198.6C282.2,199.3 286.3,200.5 290.5,202C294.7,203.5 299.4,205.9 303.9,207.8C308.4,209.8 312.2,211.9 317.4,213.7C322.6,215.5 332.1,218 335,218.8" fill="none" stroke="#161616" stroke-width="4.199999999999999" opacity="0.72"/>
<path d="M160,224C166.4,223.7 188.4,222.9 198.4,221.9C208.4,220.9 213.6,219.3 220,217.9C226.4,216.5 231.2,215.8 236.8,213.7C242.4,211.6 249.4,207.5 253.6,205.3C257.8,203.1 259.2,201.6 262,200.3C264.8,199.1 267.6,198.1 270.4,197.8C273.2,197.5 275.4,197.9 278.8,198.6C282.2,199.3 286.3,200.5 290.5,202C294.7,203.5 299.4,205.9 303.9,207.8C308.4,209.8 312.2,211.9 317.4,213.7C322.6,215.5 332.1,218 335,218.8" fill="none" stroke="#e1222b" stroke-width="2.8999999999999995" opacity="0.9"/>
<path d="M160,224C166.4,223.7 188.4,222.9 198.4,221.9C208.4,220.9 213.6,219.3 220,217.9C226.4,216.5 231.2,215.8 236.8,213.7C242.4,211.6 249.4,207.5 253.6,205.3C257.8,203.1 259.2,201.6 262,200.3C264.8,199.1 267.6,198.1 270.4,197.8C273.2,197.5 275.4,197.9 278.8,198.6C282.2,199.3 286.3,200.5 290.5,202C294.7,203.5 299.4,205.9 303.9,207.8C308.4,209.8 312.2,211.9 317.4,213.7C322.6,215.5 332.1,218 335,218.8" fill="none" stroke="#161616" stroke-width="0.8" opacity="0.8"/>
<path d="M130,223C131.7,222.9 135.7,222.6 140,222.3C144.3,222.1 150.8,222.2 155.8,221.5C160.8,220.8 165.8,219.6 170,218.4C174.2,217.2 178,216.1 181,214.5C184,212.9 185.7,210.7 188,208.8C190.3,207 192.4,205.6 195,203.4C197.6,201.2 200.6,198.7 203.4,195.9C206.2,193.1 208.9,189.6 211.7,186.7C214.5,183.8 217.9,180.5 220.1,178.4C222.3,176.3 223.3,175.1 225,174C226.7,172.9 228.2,172.1 230,172C231.8,171.9 234,172.3 236,173.2C238,174.1 238.9,174.9 241.8,177.5C244.7,180.1 250,185 253.6,188.5C257.2,192 260.2,195.5 263.6,198.6C267,201.7 270.3,204.8 273.7,207C277.1,209.2 280.9,210.6 283.8,212C286.7,213.4 289.8,214.8 291,215.4" fill="none" stroke="#ef6a2a" stroke-width="6.199999999999999"/>
<path d="M130,223C131.7,222.9 135.7,222.6 140,222.3C144.3,222.1 150.8,222.2 155.8,221.5C160.8,220.8 165.8,219.6 170,218.4C174.2,217.2 178,216.1 181,214.5C184,212.9 185.7,210.7 188,208.8C190.3,207 192.4,205.6 195,203.4C197.6,201.2 200.6,198.7 203.4,195.9C206.2,193.1 208.9,189.6 211.7,186.7C214.5,183.8 217.9,180.5 220.1,178.4C222.3,176.3 223.3,175.1 225,174C226.7,172.9 228.2,172.1 230,172C231.8,171.9 234,172.3 236,173.2C238,174.1 238.9,174.9 241.8,177.5C244.7,180.1 250,185 253.6,188.5C257.2,192 260.2,195.5 263.6,198.6C267,201.7 270.3,204.8 273.7,207C277.1,209.2 280.9,210.6 283.8,212C286.7,213.4 289.8,214.8 291,215.4" fill="none" stroke="#161616" stroke-width="4.199999999999999" opacity="0.72"/>
<path d="M130,223C131.7,222.9 135.7,222.6 140,222.3C144.3,222.1 150.8,222.2 155.8,221.5C160.8,220.8 165.8,219.6 170,218.4C174.2,217.2 178,216.1 181,214.5C184,212.9 185.7,210.7 188,208.8C190.3,207 192.4,205.6 195,203.4C197.6,201.2 200.6,198.7 203.4,195.9C206.2,193.1 208.9,189.6 211.7,186.7C214.5,183.8 217.9,180.5 220.1,178.4C222.3,176.3 223.3,175.1 225,174C226.7,172.9 228.2,172.1 230,172C231.8,171.9 234,172.3 236,173.2C238,174.1 238.9,174.9 241.8,177.5C244.7,180.1 250,185 253.6,188.5C257.2,192 260.2,195.5 263.6,198.6C267,201.7 270.3,204.8 273.7,207C277.1,209.2 280.9,210.6 283.8,212C286.7,213.4 289.8,214.8 291,215.4" fill="none" stroke="#ef6a2a" stroke-width="2.8999999999999995" opacity="0.9"/>
<path d="M130,223C131.7,222.9 135.7,222.6 140,222.3C144.3,222.1 150.8,222.2 155.8,221.5C160.8,220.8 165.8,219.6 170,218.4C174.2,217.2 178,216.1 181,214.5C184,212.9 185.7,210.7 188,208.8C190.3,207 192.4,205.6 195,203.4C197.6,201.2 200.6,198.7 203.4,195.9C206.2,193.1 208.9,189.6 211.7,186.7C214.5,183.8 217.9,180.5 220.1,178.4C222.3,176.3 223.3,175.1 225,174C226.7,172.9 228.2,172.1 230,172C231.8,171.9 234,172.3 236,173.2C238,174.1 238.9,174.9 241.8,177.5C244.7,180.1 250,185 253.6,188.5C257.2,192 260.2,195.5 263.6,198.6C267,201.7 270.3,204.8 273.7,207C277.1,209.2 280.9,210.6 283.8,212C286.7,213.4 289.8,214.8 291,215.4" fill="none" stroke="#161616" stroke-width="0.8" opacity="0.8"/>
<path d="M110,224C112.1,223.9 119.1,224.1 122.6,223.6C126.1,223.1 128.1,222.1 131,221.1C133.9,220.1 137.4,218.7 140,217.6C142.6,216.5 144.2,215.7 146.3,214.4C148.4,213.1 150.4,211.7 152.5,210C154.6,208.3 156.9,206.3 158.8,204.4C160.7,202.5 162.3,200.9 163.8,198.8C165.3,196.7 166.7,194.3 168,192C169.3,189.7 170.6,187.6 171.7,185C172.8,182.4 173.5,179.5 174.6,176.7C175.7,173.9 177,171.2 178,168.4C179,165.6 179.6,162.9 180.5,160C181.4,157.1 182.5,153.8 183.5,151C184.5,148.2 185.7,145.9 186.7,143.4C187.7,140.9 188.5,138.1 189.5,136C190.5,133.9 191.4,132.2 192.5,130.9C193.6,129.6 194.9,128.6 196,128C197.1,127.4 197.9,127.3 199,127.3C200.1,127.3 201.2,127.4 202.5,128C203.8,128.6 205.3,128.9 206.7,130.9C208,132.9 209,136.4 210.6,140C212.2,143.6 214.5,148.3 216.3,152.5C218.1,156.7 219.6,160.9 221.3,165.1C223,169.3 224.4,173.4 226.3,177.6C228.2,181.8 230.5,186.6 232.6,190.2C234.7,193.8 236.5,196.3 238.9,198.9C241.3,201.5 243.6,203.7 246.9,206C250.2,208.3 254.7,210.8 258.6,212.5C262.5,214.2 266.2,215.4 270.4,216.5C274.6,217.6 280.2,218.5 283.8,219.2C287.4,219.9 290.6,220.3 292,220.5" fill="none" stroke="#f9ae45" stroke-width="6.199999999999999"/>
<path d="M110,224C112.1,223.9 119.1,224.1 122.6,223.6C126.1,223.1 128.1,222.1 131,221.1C133.9,220.1 137.4,218.7 140,217.6C142.6,216.5 144.2,215.7 146.3,214.4C148.4,213.1 150.4,211.7 152.5,210C154.6,208.3 156.9,206.3 158.8,204.4C160.7,202.5 162.3,200.9 163.8,198.8C165.3,196.7 166.7,194.3 168,192C169.3,189.7 170.6,187.6 171.7,185C172.8,182.4 173.5,179.5 174.6,176.7C175.7,173.9 177,171.2 178,168.4C179,165.6 179.6,162.9 180.5,160C181.4,157.1 182.5,153.8 183.5,151C184.5,148.2 185.7,145.9 186.7,143.4C187.7,140.9 188.5,138.1 189.5,136C190.5,133.9 191.4,132.2 192.5,130.9C193.6,129.6 194.9,128.6 196,128C197.1,127.4 197.9,127.3 199,127.3C200.1,127.3 201.2,127.4 202.5,128C203.8,128.6 205.3,128.9 206.7,130.9C208,132.9 209,136.4 210.6,140C212.2,143.6 214.5,148.3 216.3,152.5C218.1,156.7 219.6,160.9 221.3,165.1C223,169.3 224.4,173.4 226.3,177.6C228.2,181.8 230.5,186.6 232.6,190.2C234.7,193.8 236.5,196.3 238.9,198.9C241.3,201.5 243.6,203.7 246.9,206C250.2,208.3 254.7,210.8 258.6,212.5C262.5,214.2 266.2,215.4 270.4,216.5C274.6,217.6 280.2,218.5 283.8,219.2C287.4,219.9 290.6,220.3 292,220.5" fill="none" stroke="#161616" stroke-width="4.199999999999999" opacity="0.72"/>
<path d="M110,224C112.1,223.9 119.1,224.1 122.6,223.6C126.1,223.1 128.1,222.1 131,221.1C133.9,220.1 137.4,218.7 140,217.6C142.6,216.5 144.2,215.7 146.3,214.4C148.4,213.1 150.4,211.7 152.5,210C154.6,208.3 156.9,206.3 158.8,204.4C160.7,202.5 162.3,200.9 163.8,198.8C165.3,196.7 166.7,194.3 168,192C169.3,189.7 170.6,187.6 171.7,185C172.8,182.4 173.5,179.5 174.6,176.7C175.7,173.9 177,171.2 178,168.4C179,165.6 179.6,162.9 180.5,160C181.4,157.1 182.5,153.8 183.5,151C184.5,148.2 185.7,145.9 186.7,143.4C187.7,140.9 188.5,138.1 189.5,136C190.5,133.9 191.4,132.2 192.5,130.9C193.6,129.6 194.9,128.6 196,128C197.1,127.4 197.9,127.3 199,127.3C200.1,127.3 201.2,127.4 202.5,128C203.8,128.6 205.3,128.9 206.7,130.9C208,132.9 209,136.4 210.6,140C212.2,143.6 214.5,148.3 216.3,152.5C218.1,156.7 219.6,160.9 221.3,165.1C223,169.3 224.4,173.4 226.3,177.6C228.2,181.8 230.5,186.6 232.6,190.2C234.7,193.8 236.5,196.3 238.9,198.9C241.3,201.5 243.6,203.7 246.9,206C250.2,208.3 254.7,210.8 258.6,212.5C262.5,214.2 266.2,215.4 270.4,216.5C274.6,217.6 280.2,218.5 283.8,219.2C287.4,219.9 290.6,220.3 292,220.5" fill="none" stroke="#f9ae45" stroke-width="2.8999999999999995" opacity="0.9"/>
<path d="M110,224C112.1,223.9 119.1,224.1 122.6,223.6C126.1,223.1 128.1,222.1 131,221.1C133.9,220.1 137.4,218.7 140,217.6C142.6,216.5 144.2,215.7 146.3,214.4C148.4,213.1 150.4,211.7 152.5,210C154.6,208.3 156.9,206.3 158.8,204.4C160.7,202.5 162.3,200.9 163.8,198.8C165.3,196.7 166.7,194.3 168,192C169.3,189.7 170.6,187.6 171.7,185C172.8,182.4 173.5,179.5 174.6,176.7C175.7,173.9 177,171.2 178,168.4C179,165.6 179.6,162.9 180.5,160C181.4,157.1 182.5,153.8 183.5,151C184.5,148.2 185.7,145.9 186.7,143.4C187.7,140.9 188.5,138.1 189.5,136C190.5,133.9 191.4,132.2 192.5,130.9C193.6,129.6 194.9,128.6 196,128C197.1,127.4 197.9,127.3 199,127.3C200.1,127.3 201.2,127.4 202.5,128C203.8,128.6 205.3,128.9 206.7,130.9C208,132.9 209,136.4 210.6,140C212.2,143.6 214.5,148.3 216.3,152.5C218.1,156.7 219.6,160.9 221.3,165.1C223,169.3 224.4,173.4 226.3,177.6C228.2,181.8 230.5,186.6 232.6,190.2C234.7,193.8 236.5,196.3 238.9,198.9C241.3,201.5 243.6,203.7 246.9,206C250.2,208.3 254.7,210.8 258.6,212.5C262.5,214.2 266.2,215.4 270.4,216.5C274.6,217.6 280.2,218.5 283.8,219.2C287.4,219.9 290.6,220.3 292,220.5" fill="none" stroke="#161616" stroke-width="0.8" opacity="0.8"/>
<path d="M100,224C101.2,223.9 105.1,224.1 107.5,223.6C109.9,223.1 111.7,222.5 114.2,221.1C116.7,219.7 119.8,217.1 122.6,215.2C125.4,213.2 128.5,211.7 131,209.4C133.5,207.1 135.3,205 137.5,201.3C139.7,197.7 142.6,192.1 144.4,187.5C146.2,182.9 147.3,178.4 148.6,173.8C149.9,169.2 150.9,164 152,160C153.1,156 154,153.9 155,150C156,146.1 157,140.6 158,136.7C159,132.8 160.1,129.8 161,126.3C161.9,122.8 162.7,118.9 163.7,115.9C164.7,112.9 165.6,110.3 167,108.5C168.4,106.7 170.3,105.6 172,105.3C173.7,105 175.2,104.7 177,106.5C178.8,108.3 181.1,112.6 182.5,115.9C183.9,119.2 184.5,122.7 185.6,126.3C186.7,129.9 188,134.4 189,137.5C190,140.6 190.6,142.8 191.5,145C192.4,147.2 193.3,148.6 194.2,150.5C195.1,152.4 195.8,154.3 196.7,156.7C197.6,159.1 198.7,162.3 199.6,165.1C200.5,167.9 201.3,170.9 202.1,173.4C202.9,175.9 202.9,176.9 204.5,180C206.1,183.1 209.1,187.8 211.7,191.7C214.3,195.6 217,200.3 220.1,203.4C223.2,206.5 225.9,208.3 230.1,210.4C234.3,212.5 239.9,214.7 245.2,216.2C250.5,217.7 255,218.6 262,219.6C269,220.6 281.6,221.6 287.1,222.1C292.6,222.6 293.7,222.4 295,222.5" fill="none" stroke="#1e9e4a" stroke-width="6.199999999999999"/>
<path d="M100,224C101.2,223.9 105.1,224.1 107.5,223.6C109.9,223.1 111.7,222.5 114.2,221.1C116.7,219.7 119.8,217.1 122.6,215.2C125.4,213.2 128.5,211.7 131,209.4C133.5,207.1 135.3,205 137.5,201.3C139.7,197.7 142.6,192.1 144.4,187.5C146.2,182.9 147.3,178.4 148.6,173.8C149.9,169.2 150.9,164 152,160C153.1,156 154,153.9 155,150C156,146.1 157,140.6 158,136.7C159,132.8 160.1,129.8 161,126.3C161.9,122.8 162.7,118.9 163.7,115.9C164.7,112.9 165.6,110.3 167,108.5C168.4,106.7 170.3,105.6 172,105.3C173.7,105 175.2,104.7 177,106.5C178.8,108.3 181.1,112.6 182.5,115.9C183.9,119.2 184.5,122.7 185.6,126.3C186.7,129.9 188,134.4 189,137.5C190,140.6 190.6,142.8 191.5,145C192.4,147.2 193.3,148.6 194.2,150.5C195.1,152.4 195.8,154.3 196.7,156.7C197.6,159.1 198.7,162.3 199.6,165.1C200.5,167.9 201.3,170.9 202.1,173.4C202.9,175.9 202.9,176.9 204.5,180C206.1,183.1 209.1,187.8 211.7,191.7C214.3,195.6 217,200.3 220.1,203.4C223.2,206.5 225.9,208.3 230.1,210.4C234.3,212.5 239.9,214.7 245.2,216.2C250.5,217.7 255,218.6 262,219.6C269,220.6 281.6,221.6 287.1,222.1C292.6,222.6 293.7,222.4 295,222.5" fill="none" stroke="#161616" stroke-width="4.199999999999999" opacity="0.72"/>
<path d="M100,224C101.2,223.9 105.1,224.1 107.5,223.6C109.9,223.1 111.7,222.5 114.2,221.1C116.7,219.7 119.8,217.1 122.6,215.2C125.4,213.2 128.5,211.7 131,209.4C133.5,207.1 135.3,205 137.5,201.3C139.7,197.7 142.6,192.1 144.4,187.5C146.2,182.9 147.3,178.4 148.6,173.8C149.9,169.2 150.9,164 152,160C153.1,156 154,153.9 155,150C156,146.1 157,140.6 158,136.7C159,132.8 160.1,129.8 161,126.3C161.9,122.8 162.7,118.9 163.7,115.9C164.7,112.9 165.6,110.3 167,108.5C168.4,106.7 170.3,105.6 172,105.3C173.7,105 175.2,104.7 177,106.5C178.8,108.3 181.1,112.6 182.5,115.9C183.9,119.2 184.5,122.7 185.6,126.3C186.7,129.9 188,134.4 189,137.5C190,140.6 190.6,142.8 191.5,145C192.4,147.2 193.3,148.6 194.2,150.5C195.1,152.4 195.8,154.3 196.7,156.7C197.6,159.1 198.7,162.3 199.6,165.1C200.5,167.9 201.3,170.9 202.1,173.4C202.9,175.9 202.9,176.9 204.5,180C206.1,183.1 209.1,187.8 211.7,191.7C214.3,195.6 217,200.3 220.1,203.4C223.2,206.5 225.9,208.3 230.1,210.4C234.3,212.5 239.9,214.7 245.2,216.2C250.5,217.7 255,218.6 262,219.6C269,220.6 281.6,221.6 287.1,222.1C292.6,222.6 293.7,222.4 295,222.5" fill="none" stroke="#1e9e4a" stroke-width="2.8999999999999995" opacity="0.9"/>
<path d="M100,224C101.2,223.9 105.1,224.1 107.5,223.6C109.9,223.1 111.7,222.5 114.2,221.1C116.7,219.7 119.8,217.1 122.6,215.2C125.4,213.2 128.5,211.7 131,209.4C133.5,207.1 135.3,205 137.5,201.3C139.7,197.7 142.6,192.1 144.4,187.5C146.2,182.9 147.3,178.4 148.6,173.8C149.9,169.2 150.9,164 152,160C153.1,156 154,153.9 155,150C156,146.1 157,140.6 158,136.7C159,132.8 160.1,129.8 161,126.3C161.9,122.8 162.7,118.9 163.7,115.9C164.7,112.9 165.6,110.3 167,108.5C168.4,106.7 170.3,105.6 172,105.3C173.7,105 175.2,104.7 177,106.5C178.8,108.3 181.1,112.6 182.5,115.9C183.9,119.2 184.5,122.7 185.6,126.3C186.7,129.9 188,134.4 189,137.5C190,140.6 190.6,142.8 191.5,145C192.4,147.2 193.3,148.6 194.2,150.5C195.1,152.4 195.8,154.3 196.7,156.7C197.6,159.1 198.7,162.3 199.6,165.1C200.5,167.9 201.3,170.9 202.1,173.4C202.9,175.9 202.9,176.9 204.5,180C206.1,183.1 209.1,187.8 211.7,191.7C214.3,195.6 217,200.3 220.1,203.4C223.2,206.5 225.9,208.3 230.1,210.4C234.3,212.5 239.9,214.7 245.2,216.2C250.5,217.7 255,218.6 262,219.6C269,220.6 281.6,221.6 287.1,222.1C292.6,222.6 293.7,222.4 295,222.5" fill="none" stroke="#161616" stroke-width="0.8" opacity="0.8"/>
<path d="M99,223.5C99.6,223.2 100.7,222.9 102.5,221.9C104.3,220.9 107.2,219.5 109.6,217.7C112,215.9 114.6,213.5 116.7,211C118.8,208.5 120.8,205.5 122.2,202.7C123.6,199.9 124.3,197.2 125.2,194.4C126.1,191.6 126.7,189.4 127.6,186C128.5,182.6 129.7,178.1 130.7,173.8C131.7,169.5 132.4,164.5 133.4,160C134.4,155.5 135.5,150.9 136.5,147C137.5,143.1 138.3,140.5 139.2,136.7C140.1,132.9 141,126.8 142.1,124C143.2,121.2 144.3,120.7 145.5,119.8C146.7,118.9 148.2,118.4 149.5,118.5C150.8,118.6 152.4,119.1 153.4,120.5C154.4,121.9 154.9,124.3 155.5,127C156.1,129.7 156.1,132.3 157.1,136.7C158.1,141.1 160.2,149.3 161.3,153.4C162.4,157.5 162.7,158.2 163.5,161C164.3,163.8 165.2,166.6 166.4,170C167.6,173.4 169.1,177.8 170.5,181.7C171.9,185.6 172.9,189.9 174.6,193.4C176.2,196.9 178.1,200 180.4,202.7C182.7,205.4 185.5,207.5 188.6,209.8C191.7,212.2 196.9,215.5 199.1,216.8C201.3,218.1 201.5,217.4 202,217.5" fill="none" stroke="#2c48a3" stroke-width="6.199999999999999"/>
<path d="M99,223.5C99.6,223.2 100.7,222.9 102.5,221.9C104.3,220.9 107.2,219.5 109.6,217.7C112,215.9 114.6,213.5 116.7,211C118.8,208.5 120.8,205.5 122.2,202.7C123.6,199.9 124.3,197.2 125.2,194.4C126.1,191.6 126.7,189.4 127.6,186C128.5,182.6 129.7,178.1 130.7,173.8C131.7,169.5 132.4,164.5 133.4,160C134.4,155.5 135.5,150.9 136.5,147C137.5,143.1 138.3,140.5 139.2,136.7C140.1,132.9 141,126.8 142.1,124C143.2,121.2 144.3,120.7 145.5,119.8C146.7,118.9 148.2,118.4 149.5,118.5C150.8,118.6 152.4,119.1 153.4,120.5C154.4,121.9 154.9,124.3 155.5,127C156.1,129.7 156.1,132.3 157.1,136.7C158.1,141.1 160.2,149.3 161.3,153.4C162.4,157.5 162.7,158.2 163.5,161C164.3,163.8 165.2,166.6 166.4,170C167.6,173.4 169.1,177.8 170.5,181.7C171.9,185.6 172.9,189.9 174.6,193.4C176.2,196.9 178.1,200 180.4,202.7C182.7,205.4 185.5,207.5 188.6,209.8C191.7,212.2 196.9,215.5 199.1,216.8C201.3,218.1 201.5,217.4 202,217.5" fill="none" stroke="#161616" stroke-width="4.199999999999999" opacity="0.72"/>
<path d="M99,223.5C99.6,223.2 100.7,222.9 102.5,221.9C104.3,220.9 107.2,219.5 109.6,217.7C112,215.9 114.6,213.5 116.7,211C118.8,208.5 120.8,205.5 122.2,202.7C123.6,199.9 124.3,197.2 125.2,194.4C126.1,191.6 126.7,189.4 127.6,186C128.5,182.6 129.7,178.1 130.7,173.8C131.7,169.5 132.4,164.5 133.4,160C134.4,155.5 135.5,150.9 136.5,147C137.5,143.1 138.3,140.5 139.2,136.7C140.1,132.9 141,126.8 142.1,124C143.2,121.2 144.3,120.7 145.5,119.8C146.7,118.9 148.2,118.4 149.5,118.5C150.8,118.6 152.4,119.1 153.4,120.5C154.4,121.9 154.9,124.3 155.5,127C156.1,129.7 156.1,132.3 157.1,136.7C158.1,141.1 160.2,149.3 161.3,153.4C162.4,157.5 162.7,158.2 163.5,161C164.3,163.8 165.2,166.6 166.4,170C167.6,173.4 169.1,177.8 170.5,181.7C171.9,185.6 172.9,189.9 174.6,193.4C176.2,196.9 178.1,200 180.4,202.7C182.7,205.4 185.5,207.5 188.6,209.8C191.7,212.2 196.9,215.5 199.1,216.8C201.3,218.1 201.5,217.4 202,217.5" fill="none" stroke="#2c48a3" stroke-width="2.8999999999999995" opacity="0.9"/>
<path d="M99,223.5C99.6,223.2 100.7,222.9 102.5,221.9C104.3,220.9 107.2,219.5 109.6,217.7C112,215.9 114.6,213.5 116.7,211C118.8,208.5 120.8,205.5 122.2,202.7C123.6,199.9 124.3,197.2 125.2,194.4C126.1,191.6 126.7,189.4 127.6,186C128.5,182.6 129.7,178.1 130.7,173.8C131.7,169.5 132.4,164.5 133.4,160C134.4,155.5 135.5,150.9 136.5,147C137.5,143.1 138.3,140.5 139.2,136.7C140.1,132.9 141,126.8 142.1,124C143.2,121.2 144.3,120.7 145.5,119.8C146.7,118.9 148.2,118.4 149.5,118.5C150.8,118.6 152.4,119.1 153.4,120.5C154.4,121.9 154.9,124.3 155.5,127C156.1,129.7 156.1,132.3 157.1,136.7C158.1,141.1 160.2,149.3 161.3,153.4C162.4,157.5 162.7,158.2 163.5,161C164.3,163.8 165.2,166.6 166.4,170C167.6,173.4 169.1,177.8 170.5,181.7C171.9,185.6 172.9,189.9 174.6,193.4C176.2,196.9 178.1,200 180.4,202.7C182.7,205.4 185.5,207.5 188.6,209.8C191.7,212.2 196.9,215.5 199.1,216.8C201.3,218.1 201.5,217.4 202,217.5" fill="none" stroke="#161616" stroke-width="0.8" opacity="0.8"/>
<path d="M61,221.5C64.2,221.4 75.2,221.4 80,221.2C84.8,221 87.2,220.9 90,220.5C92.8,220.1 95.3,220.6 97,219C98.7,217.4 99.1,213.7 100.4,211C101.7,208.3 103.7,205.5 104.9,202.7C106.1,199.9 106.7,197.2 107.5,194.4C108.3,191.6 109.2,188.9 110,186C110.8,183.1 111.4,180 112,177C112.6,174 113,170.8 113.5,168C114,165.2 114.5,163 115,160C115.5,157 115.9,153.3 116.4,150C116.9,146.7 117.5,143.3 118,140C118.5,136.7 118.9,133.3 119.3,130C119.7,126.7 120,122.6 120.3,120C120.6,117.4 120.6,117.4 121.1,114.2C121.6,111 122.6,105.2 123.4,100.7C124.2,96.2 124.9,91.3 125.8,87.1C126.7,82.9 127.6,78.2 128.6,75.5C129.6,72.8 130.8,70.9 132,71C133.2,71.1 134.6,73.5 135.8,76C137,78.5 138.2,82.5 139.3,86C140.4,89.5 141.5,93 142.5,97C143.5,101 144.4,105.8 145.3,110C146.2,114.2 146.9,118 147.7,122C148.5,126 149.3,130.7 150,134C150.7,137.3 151.1,138.8 151.7,142C152.3,145.2 152.9,150.1 153.5,153.4C154.1,156.7 154.8,159.2 155.5,162C156.2,164.8 156.7,166.7 157.6,170C158.5,173.3 159.6,177.7 161.1,181.7C162.6,185.7 164,190.1 166.4,194C168.8,197.9 172.2,201.7 175.7,205.1C179.2,208.5 183.5,212.1 187.4,214.4C191.3,216.7 196.8,218.2 199.1,219.1C201.4,219.9 201.1,219.4 201.5,219.5" fill="none" stroke="#7e3fa0" stroke-width="6.199999999999999"/>
<path d="M61,221.5C64.2,221.4 75.2,221.4 80,221.2C84.8,221 87.2,220.9 90,220.5C92.8,220.1 95.3,220.6 97,219C98.7,217.4 99.1,213.7 100.4,211C101.7,208.3 103.7,205.5 104.9,202.7C106.1,199.9 106.7,197.2 107.5,194.4C108.3,191.6 109.2,188.9 110,186C110.8,183.1 111.4,180 112,177C112.6,174 113,170.8 113.5,168C114,165.2 114.5,163 115,160C115.5,157 115.9,153.3 116.4,150C116.9,146.7 117.5,143.3 118,140C118.5,136.7 118.9,133.3 119.3,130C119.7,126.7 120,122.6 120.3,120C120.6,117.4 120.6,117.4 121.1,114.2C121.6,111 122.6,105.2 123.4,100.7C124.2,96.2 124.9,91.3 125.8,87.1C126.7,82.9 127.6,78.2 128.6,75.5C129.6,72.8 130.8,70.9 132,71C133.2,71.1 134.6,73.5 135.8,76C137,78.5 138.2,82.5 139.3,86C140.4,89.5 141.5,93 142.5,97C143.5,101 144.4,105.8 145.3,110C146.2,114.2 146.9,118 147.7,122C148.5,126 149.3,130.7 150,134C150.7,137.3 151.1,138.8 151.7,142C152.3,145.2 152.9,150.1 153.5,153.4C154.1,156.7 154.8,159.2 155.5,162C156.2,164.8 156.7,166.7 157.6,170C158.5,173.3 159.6,177.7 161.1,181.7C162.6,185.7 164,190.1 166.4,194C168.8,197.9 172.2,201.7 175.7,205.1C179.2,208.5 183.5,212.1 187.4,214.4C191.3,216.7 196.8,218.2 199.1,219.1C201.4,219.9 201.1,219.4 201.5,219.5" fill="none" stroke="#161616" stroke-width="4.199999999999999" opacity="0.72"/>
<path d="M61,221.5C64.2,221.4 75.2,221.4 80,221.2C84.8,221 87.2,220.9 90,220.5C92.8,220.1 95.3,220.6 97,219C98.7,217.4 99.1,213.7 100.4,211C101.7,208.3 103.7,205.5 104.9,202.7C106.1,199.9 106.7,197.2 107.5,194.4C108.3,191.6 109.2,188.9 110,186C110.8,183.1 111.4,180 112,177C112.6,174 113,170.8 113.5,168C114,165.2 114.5,163 115,160C115.5,157 115.9,153.3 116.4,150C116.9,146.7 117.5,143.3 118,140C118.5,136.7 118.9,133.3 119.3,130C119.7,126.7 120,122.6 120.3,120C120.6,117.4 120.6,117.4 121.1,114.2C121.6,111 122.6,105.2 123.4,100.7C124.2,96.2 124.9,91.3 125.8,87.1C126.7,82.9 127.6,78.2 128.6,75.5C129.6,72.8 130.8,70.9 132,71C133.2,71.1 134.6,73.5 135.8,76C137,78.5 138.2,82.5 139.3,86C140.4,89.5 141.5,93 142.5,97C143.5,101 144.4,105.8 145.3,110C146.2,114.2 146.9,118 147.7,122C148.5,126 149.3,130.7 150,134C150.7,137.3 151.1,138.8 151.7,142C152.3,145.2 152.9,150.1 153.5,153.4C154.1,156.7 154.8,159.2 155.5,162C156.2,164.8 156.7,166.7 157.6,170C158.5,173.3 159.6,177.7 161.1,181.7C162.6,185.7 164,190.1 166.4,194C168.8,197.9 172.2,201.7 175.7,205.1C179.2,208.5 183.5,212.1 187.4,214.4C191.3,216.7 196.8,218.2 199.1,219.1C201.4,219.9 201.1,219.4 201.5,219.5" fill="none" stroke="#7e3fa0" stroke-width="2.8999999999999995" opacity="0.9"/>
<path d="M61,221.5C64.2,221.4 75.2,221.4 80,221.2C84.8,221 87.2,220.9 90,220.5C92.8,220.1 95.3,220.6 97,219C98.7,217.4 99.1,213.7 100.4,211C101.7,208.3 103.7,205.5 104.9,202.7C106.1,199.9 106.7,197.2 107.5,194.4C108.3,191.6 109.2,188.9 110,186C110.8,183.1 111.4,180 112,177C112.6,174 113,170.8 113.5,168C114,165.2 114.5,163 115,160C115.5,157 115.9,153.3 116.4,150C116.9,146.7 117.5,143.3 118,140C118.5,136.7 118.9,133.3 119.3,130C119.7,126.7 120,122.6 120.3,120C120.6,117.4 120.6,117.4 121.1,114.2C121.6,111 122.6,105.2 123.4,100.7C124.2,96.2 124.9,91.3 125.8,87.1C126.7,82.9 127.6,78.2 128.6,75.5C129.6,72.8 130.8,70.9 132,71C133.2,71.1 134.6,73.5 135.8,76C137,78.5 138.2,82.5 139.3,86C140.4,89.5 141.5,93 142.5,97C143.5,101 144.4,105.8 145.3,110C146.2,114.2 146.9,118 147.7,122C148.5,126 149.3,130.7 150,134C150.7,137.3 151.1,138.8 151.7,142C152.3,145.2 152.9,150.1 153.5,153.4C154.1,156.7 154.8,159.2 155.5,162C156.2,164.8 156.7,166.7 157.6,170C158.5,173.3 159.6,177.7 161.1,181.7C162.6,185.7 164,190.1 166.4,194C168.8,197.9 172.2,201.7 175.7,205.1C179.2,208.5 183.5,212.1 187.4,214.4C191.3,216.7 196.8,218.2 199.1,219.1C201.4,219.9 201.1,219.4 201.5,219.5" fill="none" stroke="#161616" stroke-width="0.8" opacity="0.8"/>
</g>
<g clip-path="url(#cbt)">
<path d="M538,232.6 L538,199.6 L539,199.7 L540,197.5 L541,202.3 L542,196.7 L543,196.3 L544,201.2 L545,196.1 L546,197.5 L547,199.7 L548,200.2 L549,201.3 L550,204 L551,201.7 L552,198.3 L553,199.2 L554,203.7 L555,197.7 L556,203.8 L557,201 L558,196.7 L559,202.1 L560,196.8 L561,197.4 L562,197.5 L563,201.1 L564,197.7 L565,202.4 L566,197.7 L567,201.1 L568,197.7 L569,198.6 L570,196.7 L571,200.8 L572,203.7 L573,202.9 L574,203.3 L575,197.5 L576,197.6 L577,200.8 L578,196.3 L579,201.6 L580,200.8 L581,201.8 L582,200.5 L583,198.2 L584,196.1 L585,196.5 L586,200.6 L587,203.1 L588,201.5 L589,196.3 L590,201.6 L591,201.1 L592,198.6 L593,200.4 L594,196.1 L595,187.7 L596,184 L597,177.3 L598,168.4 L599,162.2 L600,164.6 L601,163.7 L602,166.7 L603,166.3 L604,173.5 L605,182.5 L606,185.7 L607,193.1 L608,201.2 L609,203.1 L610,197.6 L611,203.3 L612,200.7 L613,200 L614,201.7 L615,197.4 L616,197.7 L617,200 L618,203.9 L619,196.3 L620,201.7 L621,202.3 L622,199.6 L623,197.9 L624,201 L625,201.2 L626,201.5 L627,197.4 L628,201.7 L629,198.8 L630,200.9 L631,202.3 L632,203.5 L633,199.6 L634,199 L635,202.4 L636,201.2 L637,202.5 L638,197.7 L639,203.8 L640,198.6 L641,198.8 L642,197.2 L643,191.6 L644,189.9 L645,185.4 L646,186.1 L647,180.8 L648,176.2 L649,176.8 L650,175.6 L651,171.7 L652,170.2 L653,172.5 L654,173.8 L655,172.6 L656,177.3 L657,171.7 L658,180.2 L659,175.3 L660,174.2 L661,172.3 L662,173.3 L663,177.2 L664,176.1 L665,175.4 L666,172.6 L666,232.6 Z" fill="#f7b596" opacity="0.95"/>
<path d="M540,232.6 L540,211.7 L541,211.9 L542,207.1 L543,209.7 L544,213.9 L545,212.6 L546,208.5 L547,208.6 L548,207.6 L549,207.7 L550,210.4 L551,211.1 L552,207.6 L553,211.5 L554,214 L555,208.1 L556,208.4 L557,212 L558,211.3 L559,208.7 L560,211 L561,213 L562,210.8 L563,214 L564,214 L565,210.6 L566,213.9 L567,208.1 L568,210.6 L569,214 L570,207.3 L571,211.3 L572,209.2 L573,210.9 L574,208 L575,208.8 L576,207.4 L577,210.4 L578,207.5 L579,209.1 L580,211.8 L581,211.8 L582,208.7 L583,210.6 L584,213.5 L585,207.1 L586,212.6 L587,209.4 L588,207.4 L589,209.5 L590,207.7 L591,205.5 L592,203 L593,200 L594,196.9 L595,193.7 L596,190.6 L597,187.9 L598,185.8 L599,184.5 L600,184 L601,184.5 L602,185.8 L603,187.9 L604,190.6 L605,193.7 L606,196.9 L607,200 L608,203 L609,205.5 L610,207.7 L611,209.5 L612,210.8 L613,207.2 L614,212.6 L615,213.1 L616,212.3 L617,210.8 L618,210.5 L619,213.9 L620,212.4 L621,208.2 L622,213.4 L623,209.5 L624,210.2 L625,208.4 L626,210.1 L627,214 L628,213.1 L629,207.3 L630,211.4 L631,212.8 L632,209.4 L633,210.3 L634,210.6 L635,209 L636,209.2 L637,212 L638,208.6 L639,210.4 L640,206.5 L641,206.8 L642,202.9 L643,199.7 L644,199 L645,196 L646,192.6 L647,190.6 L648,189.4 L649,187.1 L650,189.3 L651,186.6 L652,188.9 L653,192.2 L654,195.7 L655,194.6 L656,198.8 L657,201 L658,202.1 L659,203.4 L660,206 L661,207.8 L662,207.8 L663,209.1 L664,211.9 L665,207.5 L666,214 L666,232.6 Z" fill="#f2905e" opacity="0.9"/>
<path d="M545,232.6 L545,219.6 L546,223.9 L547,223.8 L548,225.5 L549,218.9 L550,219.3 L551,218.5 L552,219.3 L553,224.3 L554,218.3 L555,222.3 L556,219.1 L557,219.9 L558,221.3 L559,225.4 L560,223.1 L561,217.1 L562,219.8 L563,218.5 L564,225.7 L565,225.1 L566,225.1 L567,225.3 L568,224.4 L569,226.5 L570,224.9 L571,219.6 L572,225.5 L573,221.9 L574,224.6 L575,222.6 L576,221.3 L577,220.6 L578,221.3 L579,220.1 L580,218.2 L581,225.2 L582,225 L583,226.9 L584,223.9 L585,222.5 L586,224.5 L587,218.3 L588,223.8 L589,221.4 L590,218.8 L591,219 L592,222.2 L593,219.5 L594,221.6 L595,223.1 L596,221 L597,218.3 L598,221.9 L599,219.4 L600,219.4 L601,218.9 L602,220.7 L603,217.7 L604,223.5 L605,226.5 L606,220.9 L607,224.2 L608,226.3 L609,217.4 L610,218.4 L611,225.1 L612,225.4 L613,223.4 L614,218.6 L615,221.1 L616,225.7 L617,225.9 L618,225 L619,219 L620,225.5 L621,220.7 L622,224.2 L623,218.4 L624,226.7 L625,223 L626,224.2 L627,219.1 L628,223.2 L629,222.8 L630,222.9 L631,220.6 L632,224.3 L633,220.4 L634,220 L635,218.6 L636,223.8 L637,218.1 L638,219.3 L639,217.7 L640,223.4 L641,222.6 L642,222.4 L643,217.4 L644,221.4 L645,220.4 L646,217.9 L647,217 L648,227 L649,218.2 L650,220 L651,219.7 L652,223 L653,217.8 L654,221.7 L655,220.7 L656,225.3 L657,217.1 L658,220.3 L659,222 L660,226.7 L661,222.2 L662,221.7 L663,223.7 L664,220 L665,217.3 L666,222 L666,232.6 Z" fill="#ee7c45" opacity="0.8"/>
<path d="M402,232.6 L402,184.9 L402.8,163.3 L403.6,165.8 L404.4,149.7 L405.2,181 L406,181.5 L406.8,161.6 L407.6,165.5 L408.4,180.1 L409.2,164.2 L410,176.9 L410.8,159.3 L411.6,184.7 L412.4,182.4 L413.2,152.1 L414,178.3 L414.8,181.4 L415.6,157.8 L416.4,166.8 L417.2,184.1 L418,170.6 L418.8,165.2 L419.6,183.8 L420.4,165.8 L421.2,184.6 L422,179 L422.8,185.3 L423.6,182.8 L424.4,147.4 L425.2,176.6 L426,146.6 L426.8,175.3 L427.6,168 L428.4,170.3 L429.2,176.1 L430,187.2 L430.8,179.9 L431.6,179.6 L432.4,188.7 L433.2,190.2 L434,175.3 L434.8,185.2 L435.6,191.4 L436.4,187.9 L437.2,192.5 L438,181.1 L438.8,189.1 L439.6,195.9 L440.4,182.7 L441.2,197.5 L442,196 L442.8,199.3 L443.6,187.7 L444.4,200.1 L445.2,194.3 L446,201.8 L446.8,196.7 L447.6,192.7 L448.4,197 L449.2,199.4 L450,199.5 L450.8,201.2 L451.6,198.5 L452.4,207.5 L453.2,202.6 L454,207.4 L454.8,194.2 L455.6,192.8 L456.4,211.3 L457.2,211.4 L458,232.6 Z" fill="#a2d19e" opacity="0.9"/>
<path d="M455,232.6 L455,213.5 L456,200.2 L457,210.3 L458,202.2 L459,213.8 L460,200.2 L461,212.3 L462,209.5 L463,212 L464,214 L465,203.4 L466,204.7 L467,209.9 L468,203.9 L469,203.7 L470,203.2 L471,212 L472,212.2 L473,211.2 L474,203.1 L475,212.9 L476,207.2 L477,203.2 L478,206.4 L479,205.9 L480,201.1 L481,207.9 L482,205 L483,208 L484,213 L485,209 L486,205.7 L487,212.1 L488,213.9 L489,206.9 L490,213.2 L491,200.3 L492,202 L493,202.4 L494,213.1 L495,209.7 L496,210.1 L497,204 L498,206.9 L499,212.4 L500,201.4 L501,201.6 L502,200.7 L503,206.6 L504,211.8 L505,207.8 L506,205.6 L506,232.6 Z" fill="#c6e2c0" opacity="0.7"/>
<path d="M506,232.6 L506,181.5 L506.8,177.9 L507.6,175.8 L508.4,185.8 L509.2,180.2 L510,181.7 L510.8,182.9 L511.6,189.5 L512.4,190.4 L513.2,188.2 L514,183.9 L514.8,190.6 L515.6,188.5 L516.4,191.1 L517.2,184.5 L518,183.4 L518.8,191.9 L519.6,183.5 L520.4,195.9 L521.2,187.8 L522,187.4 L522.8,197.1 L523.6,191.2 L524.4,193.9 L525.2,188.2 L526,198.8 L526.8,195.8 L527.6,191.2 L528.4,195.6 L529.2,200.2 L530,202.5 L530.8,192.4 L531.6,200 L532.4,192.5 L533.2,204.4 L534,196.8 L534.8,197.4 L535.6,196.1 L536.4,207.3 L537.2,205.1 L538,208.3 L538,232.6 Z" fill="#b4dbb0" opacity="0.8"/>
<path d="M452,226 L456,212 L462,216 L468,213 L470,226 Z" fill="#c5d58e" opacity="0.8"/>
<path d="M466,223 L466,206.3 L467,206.9 L468,206.6 L469,206.7 L470,206.5 L471,207.8 L472,205.8 L473,207.7 L474,204.6 L475,206 L476,206.2 L477,205.2 L478,208.2 L479,206.1 L480,208.4 L481,209.3 L482,205.8 L483,209 L484,208.5 L485,207.8 L486,204.6 L487,206.8 L488,207.6 L489,206 L490,205.6 L491,206 L492,205.8 L493,208.4 L494,206.2 L495,206.6 L496,207.7 L497,209.2 L498,206 L499,204.7 L500,209.4 L501,208.7 L502,208.5 L503,207.1 L504,205.7 L505,205.3 L506,206 L507,206.8 L508,204.8 L509,208 L510,208.1 L511,204.6 L512,208.7 L513,207 L514,209.1 L515,206.9 L516,208.5 L517,206.8 L518,207.6 L519,207 L520,204.6 L521,205.2 L522,205.7 L523,206.5 L524,206.3 L525,207.2 L526,207.8 L527,206.5 L528,206.1 L529,207.1 L530,209.3 L531,208.4 L532,207.8 L533,208.6 L534,205.6 L535,205 L536,205 L537,205.1 L538,204.5 L539,207.6 L540,209.1 L540,223 Z" fill="#a484c6" opacity="0.75"/>
<path d="M620,227.8 L620.8,226.2 L621.6,226.8 L622.4,224.8 L623.2,225.2 L624,226.3 L624.8,224.1 L625.6,223 L626.4,224.4 L627.2,221.4 L628,221.3 L628.8,223.8 L629.6,221.7 L630.4,219.5 L631.2,222.1 L632,221.7 L632.8,219.8 L633.6,219.7 L634.4,219.8 L635.2,216 L636,215.7 L636.8,213.9 L637.6,214.1 L638.4,214.1 L639.2,215.7 L640,210.4 L640.8,208.4 L641.6,210.1 L642.4,208 L643.2,201.7 L644,206.7 L644.8,198.3 L645.6,197.5 L646.4,194.4 L647.2,195.6 L648,189.7 L648.8,191.7 L649.6,187.5 L650.4,185.4 L651.2,184 L652,185.6 L652.8,174.6 L653.6,175.3 L654.4,172.4 L655.2,179.9 L656,173.6 L656.8,176.3 L657.6,184.5 L658.4,179.9 L659.2,191.8 L660,186.1 L660.8,188.2 L661.6,196.9 L662.4,198 L663.2,203.9 L664,199.8 L664.8,204.1 L665.6,210.5 L665.6,231.1 L664.8,226.9 L664,230 L663.2,223.7 L662.4,221 L661.6,221.1 L660.8,217.5 L660,221.3 L659.2,224.3 L658.4,215.7 L657.6,216.1 L656.8,218.7 L656,219.6 L655.2,224.7 L654.4,224.1 L653.6,220.1 L652.8,216.2 L652,222.5 L651.2,213.7 L650.4,220.8 L649.6,225.5 L648.8,217.3 L648,223.2 L647.2,223.8 L646.4,225.8 L645.6,224.1 L644.8,229.4 L644,222.7 L643.2,226 L642.4,226.8 L641.6,227.3 L640.8,231.1 L640,227.4 L639.2,229.4 L638.4,231.2 L637.6,231.6 L636.8,232.4 L636,229.3 L635.2,229.7 L634.4,229.1 L633.6,231.3 L632.8,231.8 L632,232.6 L631.2,232.6 L630.4,231.6 L629.6,230.9 L628.8,231.8 L628,232.6 L627.2,232.6 L626.4,231.4 L625.6,232.2 L624.8,231.9 L624,232.6 L623.2,232.6 L622.4,232.6 L621.6,232.6 L620.8,232.6 L620,232.6Z" fill="#f4907f" opacity="0.85"/>
<path d="M575,226.4 L575.8,227.9 L576.6,227 L577.4,225.4 L578.2,224.2 L579,223.5 L579.8,223.8 L580.6,223 L581.4,222.3 L582.2,221.1 L583,222.1 L583.8,219.7 L584.6,218.4 L585.4,217.2 L586.2,216.6 L587,216.4 L587.8,213.4 L588.6,206.4 L589.4,206.8 L590.2,199.2 L591,198.1 L591.8,193.3 L592.6,185 L593.4,181.7 L594.2,172.6 L595,173.3 L595.8,168.5 L596.6,159.3 L597.4,152.1 L598.2,155.8 L599,148.7 L599.8,146.4 L600.6,138.8 L601.4,149.2 L602.2,145.6 L603,154.2 L603.8,161.4 L604.6,167.9 L605.4,168.8 L606.2,172.2 L607,175.8 L607.8,182.3 L608.6,181.6 L609.4,186.4 L610.2,193.4 L611,195.4 L611.8,203.1 L612.6,205.4 L613.4,207.6 L614.2,211.2 L615,216 L615.8,215.3 L616.6,218.5 L617.4,218.8 L618.2,221.1 L619,220.9 L619.8,222 L620.6,220.6 L621.4,222.9 L622.2,222.9 L623,223.7 L623.8,222.5 L624.6,225.3 L625.4,223.5 L626.2,225.5 L627,225.4 L627.8,224.9 L628.6,226.3 L629.4,226.5 L630.2,225.7 L631,225.4 L631.8,227.5 L632.6,226.3 L633.4,226.7 L634.2,226.2 L635,226.6 L635.8,226.2 L636.6,227 L637.4,227.5 L638.2,226.5 L639,227.6 L639.8,228.1 L639.8,232.6 L639,232.6 L638.2,232.4 L637.4,232.6 L636.6,232.6 L635.8,232.6 L635,232.6 L634.2,232.1 L633.4,232.1 L632.6,232.1 L631.8,232.6 L631,232.6 L630.2,232.1 L629.4,231.7 L628.6,232 L627.8,232.4 L627,232.6 L626.2,232.1 L625.4,230.7 L624.6,231.4 L623.8,232.4 L623,231.9 L622.2,230.2 L621.4,229.5 L620.6,229.4 L619.8,229.3 L619,228.4 L618.2,230.7 L617.4,227.8 L616.6,228.6 L615.8,226.4 L615,226 L614.2,226.7 L613.4,224.8 L612.6,220.8 L611.8,221.1 L611,219 L610.2,215.2 L609.4,212.1 L608.6,209.5 L607.8,210.8 L607,201.2 L606.2,200.3 L605.4,204.1 L604.6,192.6 L603.8,193.5 L603,190.7 L602.2,186.1 L601.4,183 L600.6,187.7 L599.8,193.5 L599,187.2 L598.2,197 L597.4,192.9 L596.6,194.8 L595.8,200.2 L595,203.3 L594.2,203.2 L593.4,208.9 L592.6,209.9 L591.8,215.7 L591,215.5 L590.2,216.3 L589.4,222.7 L588.6,223.8 L587.8,226.5 L587,228.7 L586.2,228.4 L585.4,229 L584.6,230.3 L583.8,230.1 L583,229.3 L582.2,230.9 L581.4,229.8 L580.6,232.6 L579.8,232.6 L579,231.6 L578.2,231.7 L577.4,232.3 L576.6,232.1 L575.8,232.6 L575,232.6Z" fill="#f8b48c" opacity="0.85"/>
<path d="M535,226.2 L535.8,225.4 L536.6,225.3 L537.4,224.7 L538.2,224.7 L539,223.8 L539.8,223.4 L540.6,220.5 L541.4,219.7 L542.2,218.4 L543,214.9 L543.8,212.6 L544.6,208.4 L545.4,206 L546.2,203.2 L547,200.4 L547.8,195.5 L548.6,191 L549.4,187.2 L550.2,186.7 L551,179 L551.8,179.7 L552.6,175 L553.4,164.4 L554.2,160.5 L555,155.9 L555.8,145.9 L556.6,145.1 L557.4,132.7 L558.2,125.7 L559,123.7 L559.8,117.7 L560.6,119.4 L561.4,119.6 L562.2,121.9 L563,116.7 L563.8,119.4 L564.6,126.2 L565.4,127.5 L566.2,129.1 L567,142.2 L567.8,143.6 L568.6,143.5 L569.4,155.4 L570.2,157.3 L571,162.3 L571.8,170.4 L572.6,171.3 L573.4,180.4 L574.2,181.7 L575,186.8 L575.8,191 L576.6,196.1 L577.4,203 L578.2,204.7 L579,208.2 L579.8,212.2 L580.6,213.4 L581.4,213.4 L582.2,214.6 L583,217.1 L583.8,219.1 L584.6,219.3 L585.4,219.4 L586.2,220.9 L587,222.1 L587.8,222.4 L588.6,222.9 L589.4,222.6 L590.2,222.3 L591,222.6 L591.8,223.3 L592.6,224.2 L593.4,225 L594.2,223.4 L595,223.9 L595.8,224.5 L596.6,225.5 L597.4,225.7 L598.2,225.9 L599,226 L599.8,226.2 L600.6,226.9 L601.4,227.5 L602.2,227.3 L603,226.9 L603.8,227 L604.6,226.9 L604.6,232.6 L603.8,232.1 L603,232 L602.2,232.6 L601.4,232 L600.6,232 L599.8,232.4 L599,232.6 L598.2,231.6 L597.4,232.6 L596.6,231.2 L595.8,230.9 L595,231.5 L594.2,231 L593.4,231.7 L592.6,231.5 L591.8,230.4 L591,230.2 L590.2,229.8 L589.4,228.6 L588.6,229.2 L587.8,229.5 L587,229.7 L586.2,229.1 L585.4,226.6 L584.6,227.3 L583.8,227 L583,226.2 L582.2,223.8 L581.4,223.2 L580.6,223 L579.8,221.8 L579,221 L578.2,218.2 L577.4,214.8 L576.6,210.1 L575.8,210 L575,204.6 L574.2,204.8 L573.4,201.8 L572.6,195.1 L571.8,190.7 L571,190 L570.2,180.6 L569.4,176.3 L568.6,181.3 L567.8,170.3 L567,165.6 L566.2,165.9 L565.4,162.6 L564.6,167.7 L563.8,164.9 L563,162.6 L562.2,157.9 L561.4,151.3 L560.6,159.8 L559.8,162 L559,165.2 L558.2,160.7 L557.4,170.6 L556.6,168.8 L555.8,177.8 L555,179.2 L554.2,183.5 L553.4,191.6 L552.6,191.8 L551.8,194.5 L551,198.3 L550.2,201.8 L549.4,203.3 L548.6,207.4 L547.8,211.6 L547,211.4 L546.2,217 L545.4,218.2 L544.6,220.5 L543.8,223.5 L543,225.3 L542.2,225.2 L541.4,228.4 L540.6,228.5 L539.8,228.4 L539,230 L538.2,230.6 L537.4,230.5 L536.6,231.7 L535.8,231.5 L535,232.6Z" fill="#fdd49a" opacity="0.85"/>
<path d="M470,226.8 L470.8,227.6 L471.6,227.4 L472.4,227.4 L473.2,227.1 L474,225.7 L474.8,226 L475.6,224.7 L476.4,225.4 L477.2,225 L478,225.9 L478.8,226.3 L479.6,224 L480.4,223.6 L481.2,220.6 L482,216.4 L482.8,214.1 L483.6,210.8 L484.4,204 L485.2,197.8 L486,190.9 L486.8,183.4 L487.6,177.5 L488.4,166.4 L489.2,151.1 L490,133.8 L490.8,122.9 L491.6,105.8 L492.4,99.7 L493.2,87.6 L494,72.8 L494.8,62.4 L495.6,60.2 L496.4,61.6 L497.2,60.9 L498,63.3 L498.8,77.3 L499.6,86.9 L500.4,98.7 L501.2,113.4 L502,116.6 L502.8,127 L503.6,139.5 L504.4,152.9 L505.2,165.4 L506,173.1 L506.8,184.5 L507.6,193.7 L508.4,197.1 L509.2,201.2 L510,205.3 L510.8,206 L511.6,208.1 L512.4,212.1 L513.2,213.6 L514,212.7 L514.8,214 L515.6,216.4 L516.4,218.5 L517.2,219.4 L518,218.9 L518.8,220.9 L519.6,219.7 L520.4,221.7 L521.2,221.5 L522,221.3 L522.8,221.9 L523.6,222.4 L524.4,222.7 L525.2,222.2 L526,222.8 L526.8,224.3 L527.6,224.5 L528.4,224.3 L529.2,224.4 L530,224.4 L530.8,223.3 L531.6,222.9 L532.4,224.4 L533.2,224.6 L534,223.9 L534.8,224.5 L535.6,223.8 L536.4,225.3 L537.2,223.8 L538,225.1 L538.8,225.1 L539.6,224.2 L540.4,225.2 L541.2,224 L542,224.1 L542.8,224.9 L543.6,224.4 L544.4,225.9 L545.2,224.5 L546,225.9 L546.8,225.8 L547.6,226.1 L548.4,225.8 L549.2,226.8 L550,225.2 L550,232.6 L549.2,231.9 L548.4,231.2 L547.6,231.5 L546.8,232.4 L546,230.6 L545.2,231.4 L544.4,232 L543.6,230.9 L542.8,231.3 L542,230.5 L541.2,231.1 L540.4,230.3 L539.6,230.2 L538.8,231.1 L538,230.1 L537.2,231.1 L536.4,229.8 L535.6,229.7 L534.8,230.9 L534,230.2 L533.2,231.2 L532.4,229.2 L531.6,229.6 L530.8,230.3 L530,229.7 L529.2,230.3 L528.4,230.9 L527.6,231 L526.8,229.2 L526,229.5 L525.2,230.4 L524.4,229.2 L523.6,229.1 L522.8,228.3 L522,228.6 L521.2,227.2 L520.4,226.9 L519.6,226.4 L518.8,227.8 L518,226.7 L517.2,226.7 L516.4,225.7 L515.6,223.1 L514.8,222.2 L514,222.1 L513.2,221.7 L512.4,219.4 L511.6,217.7 L510.8,215.8 L510,214.2 L509.2,213.8 L508.4,208.9 L507.6,205.2 L506.8,196.8 L506,192.8 L505.2,181.2 L504.4,170.1 L503.6,161 L502.8,153.4 L502,148.7 L501.2,142.7 L500.4,132.2 L499.6,117.6 L498.8,105.8 L498,102 L497.2,99.3 L496.4,92.9 L495.6,103 L494.8,102.5 L494,109.1 L493.2,120.3 L492.4,129.7 L491.6,138 L490.8,153.8 L490,158 L489.2,172.9 L488.4,180 L487.6,191.1 L486.8,200.7 L486,203.9 L485.2,212.1 L484.4,215.7 L483.6,217.2 L482.8,223 L482,226 L481.2,227.2 L480.4,229.1 L479.6,230.1 L478.8,231.9 L478,232.4 L477.2,231.3 L476.4,232.3 L475.6,230.8 L474.8,232.5 L474,232.5 L473.2,232.5 L472.4,232.6 L471.6,232.6 L470.8,232.6 L470,232.6Z" fill="#a3d6ab" opacity="0.85"/>
<path d="M424,227.5 L424.8,226.6 L425.6,226.5 L426.4,228 L427.2,227.6 L428,227.2 L428.8,227.7 L429.6,226.3 L430.4,226.3 L431.2,226.2 L432,227 L432.8,227.5 L433.6,226.4 L434.4,226.5 L435.2,227.2 L436,226.6 L436.8,226.3 L437.6,227.1 L438.4,227.2 L439.2,225.7 L440,226.4 L440.8,226.3 L441.6,226.1 L442.4,227 L443.2,226.6 L444,226.3 L444.8,225.9 L445.6,226 L446.4,225.5 L447.2,226.3 L448,225.9 L448.8,223.9 L449.6,224.8 L450.4,222.7 L451.2,223.5 L452,221.4 L452.8,220.1 L453.6,217.6 L454.4,213.7 L455.2,210.1 L456,205.6 L456.8,198.4 L457.6,189.2 L458.4,178.8 L459.2,167.2 L460,147.7 L460.8,117.6 L461.6,110.3 L462.4,98.9 L463.2,90.3 L464,81.2 L464.8,81.6 L465.6,82.1 L466.4,90.1 L467.2,98.2 L468,100.4 L468.8,108.9 L469.6,114.4 L470.4,132.1 L471.2,143.7 L472,152.5 L472.8,163.1 L473.6,174.4 L474.4,182.6 L475.2,189.9 L476,194.4 L476.8,201.4 L477.6,207.3 L478.4,209.1 L479.2,213.5 L480,216.7 L480.8,217.7 L481.6,219.2 L482.4,218.9 L483.2,220.9 L484,222.2 L484.8,222.5 L485.6,222.1 L486.4,221.7 L487.2,222.3 L488,223.4 L488.8,222.3 L489.6,224.5 L490.4,222.8 L491.2,223.2 L492,225.1 L492.8,223.7 L493.6,225.2 L494.4,225.2 L495.2,223.5 L496,225.1 L496.8,224.2 L497.6,223.7 L498.4,224.8 L499.2,225.4 L500,225 L500.8,224.6 L501.6,225.3 L502.4,225.5 L503.2,224.5 L504,225.3 L504.8,224.2 L505.6,225.4 L506.4,225 L507.2,225.8 L508,225 L508.8,225.5 L509.6,225.6 L510.4,225.9 L511.2,224.6 L512,225.3 L512.8,224.4 L513.6,225.2 L514.4,224.2 L515.2,225.2 L516,226.1 L516.8,225.1 L517.6,224.6 L518.4,224.9 L519.2,225.5 L520,225.7 L520.8,226.2 L521.6,225.3 L522.4,225.2 L523.2,224.5 L524,226.2 L524.8,226.2 L525.6,226.1 L526.4,225.2 L527.2,225.1 L528,224.6 L528.8,224.5 L529.6,225.5 L530.4,226.2 L531.2,224.5 L532,224.8 L532.8,225.8 L533.6,224.6 L534.4,225 L535.2,225.1 L536,224.6 L536.8,226.1 L537.6,225.8 L538.4,224.9 L539.2,224.9 L540,226.6 L540,230.5 L539.2,231.4 L538.4,231.1 L537.6,230.8 L536.8,232 L536,230.3 L535.2,231.2 L534.4,230.5 L533.6,230.9 L532.8,231 L532,230.7 L531.2,231.1 L530.4,231.3 L529.6,231 L528.8,231.1 L528,231.9 L527.2,231.3 L526.4,230.2 L525.6,231 L524.8,231.5 L524,230.4 L523.2,230.8 L522.4,230.5 L521.6,230.4 L520.8,231.7 L520,230.5 L519.2,231.8 L518.4,229.9 L517.6,230.2 L516.8,230.4 L516,230.1 L515.2,229.9 L514.4,230.5 L513.6,229.9 L512.8,231.5 L512,230.6 L511.2,231.2 L510.4,230.7 L509.6,230.5 L508.8,231.5 L508,229.9 L507.2,231.4 L506.4,231.6 L505.6,230.5 L504.8,229.8 L504,229.9 L503.2,231.4 L502.4,230.4 L501.6,230.4 L500.8,230.5 L500,231.3 L499.2,231.3 L498.4,230 L497.6,230.6 L496.8,229.8 L496,230 L495.2,230.1 L494.4,229.3 L493.6,231 L492.8,230.5 L492,230.4 L491.2,230.5 L490.4,228.9 L489.6,230.2 L488.8,230.1 L488,229.9 L487.2,229.6 L486.4,228.9 L485.6,227.4 L484.8,228.1 L484,226.6 L483.2,226 L482.4,226.8 L481.6,224.9 L480.8,224.2 L480,222.6 L479.2,220.4 L478.4,218.9 L477.6,213.6 L476.8,210.3 L476,204.7 L475.2,199 L474.4,194.8 L473.6,186.2 L472.8,179.3 L472,168.5 L471.2,157.9 L470.4,151.1 L469.6,135.6 L468.8,134 L468,122.6 L467.2,119.4 L466.4,111.7 L465.6,106.2 L464.8,110.8 L464,104.1 L463.2,116.9 L462.4,122.9 L461.6,129.1 L460.8,140.8 L460,160.7 L459.2,180.1 L458.4,190.2 L457.6,200.8 L456.8,208.6 L456,213.8 L455.2,218.9 L454.4,221.3 L453.6,224.2 L452.8,226 L452,228 L451.2,229 L450.4,229.3 L449.6,229.3 L448.8,231 L448,231.1 L447.2,230.3 L446.4,231.1 L445.6,231 L444.8,231.6 L444,232.3 L443.2,230.8 L442.4,232.3 L441.6,231.7 L440.8,231.7 L440,231.9 L439.2,231.3 L438.4,231.2 L437.6,232.6 L436.8,232 L436,231.2 L435.2,231.4 L434.4,231.9 L433.6,231.4 L432.8,232.6 L432,232.2 L431.2,231.7 L430.4,232.6 L429.6,232.4 L428.8,232.6 L428,232.6 L427.2,232.1 L426.4,232.6 L425.6,232.6 L424.8,232.1 L424,232.6Z" fill="#9aa3d8" opacity="0.85"/>
<path d="M402,218.4 L402.8,219.2 L403.6,219.2 L404.4,217.4 L405.2,217.2 L406,217 L406.8,215.9 L407.6,215.9 L408.4,215.3 L409.2,215.1 L410,216.6 L410.8,214.6 L411.6,215.3 L412.4,215.8 L413.2,214.8 L414,214.8 L414.8,214.7 L415.6,213 L416.4,211.9 L417.2,211.4 L418,210.9 L418.8,210.2 L419.6,210.8 L420.4,211.1 L421.2,209 L422,209.3 L422.8,207.5 L423.6,204.7 L424.4,204.6 L425.2,202.5 L426,201.2 L426.8,201.4 L427.6,198.8 L428.4,196.7 L429.2,192.8 L430,187.3 L430.8,181.7 L431.6,177.8 L432.4,171.1 L433.2,165 L434,153.9 L434.8,142.9 L435.6,132.4 L436.4,118.3 L437.2,112.8 L438,99.8 L438.8,88.7 L439.6,76.6 L440.4,65.6 L441.2,47.5 L442,42.6 L442.8,32.2 L443.6,27.1 L444.4,29.5 L445.2,28.2 L446,39.4 L446.8,42.5 L447.6,50.3 L448.4,54.4 L449.2,62.1 L450,68.5 L450.8,83.8 L451.6,95.6 L452.4,105 L453.2,112.6 L454,118.8 L454.8,134.6 L455.6,140.6 L456.4,148.5 L457.2,156.1 L458,162.8 L458.8,166.9 L459.6,175.7 L460.4,180 L461.2,183.5 L462,187.2 L462.8,189.5 L463.6,191.4 L464.4,193.4 L465.2,197 L466,199 L466.8,198.8 L467.6,201.8 L468.4,203.7 L469.2,205.5 L470,205.2 L470.8,206.2 L471.6,208.2 L472.4,207.8 L473.2,210.4 L474,209.3 L474.8,211.7 L475.6,210.3 L476.4,213.3 L477.2,211.8 L478,212.7 L478.8,213.1 L479.6,214.5 L480.4,214.2 L481.2,214.5 L482,215.4 L482.8,215.1 L483.6,215.8 L484.4,216.3 L485.2,215.2 L486,216.4 L486.8,216.7 L487.6,216.8 L488.4,215.5 L489.2,216.8 L490,216.6 L490.8,216 L491.6,216.8 L492.4,216.2 L493.2,216.8 L494,217.6 L494.8,217.3 L495.6,216.4 L496.4,217.8 L497.2,216.3 L498,216.9 L498.8,216.1 L499.6,216.9 L500.4,216.8 L501.2,216.4 L502,216.6 L502.8,216.7 L503.6,216.5 L504.4,215.7 L505.2,217.8 L506,216.5 L506.8,215.8 L507.6,215.9 L508.4,216.6 L509.2,216.2 L510,217.8 L510.8,216.2 L511.6,217.8 L512.4,217 L513.2,217.1 L514,216.5 L514.8,215.8 L515.6,217.1 L516.4,216.3 L517.2,217.9 L518,216 L518.8,217.7 L519.6,216.9 L520.4,216.5 L521.2,218.1 L522,217 L522.8,217.4 L523.6,217.4 L524.4,217 L525.2,218.2 L526,218.5 L526.8,217.5 L527.6,217.9 L528.4,217.1 L529.2,218 L530,217 L530.8,217.3 L531.6,218.4 L532.4,217.3 L533.2,217.1 L534,218.2 L534.8,218.6 L535.6,219.2 L536.4,217.2 L537.2,218 L537.2,225.4 L536.4,224 L535.6,224.2 L534.8,225.4 L534,224 L533.2,223.8 L532.4,224.3 L531.6,224.5 L530.8,225.1 L530,223.7 L529.2,223.5 L528.4,223.6 L527.6,224.7 L526.8,223 L526,223.5 L525.2,224.7 L524.4,222.9 L523.6,222.9 L522.8,222.9 L522,223.5 L521.2,223 L520.4,223.2 L519.6,224.1 L518.8,222.5 L518,223.2 L517.2,223.3 L516.4,223.7 L515.6,223.3 L514.8,223.3 L514,223.2 L513.2,222.8 L512.4,223.6 L511.6,223.9 L510.8,222.9 L510,222.8 L509.2,223.3 L508.4,224 L507.6,223.2 L506.8,222.9 L506,224 L505.2,222.7 L504.4,223.2 L503.6,222.2 L502.8,222.8 L502,224.2 L501.2,224.2 L500.4,222.7 L499.6,224.3 L498.8,223.3 L498,222.3 L497.2,222.6 L496.4,222.6 L495.6,222.4 L494.8,223.7 L494,222.2 L493.2,222.4 L492.4,222.9 L491.6,222.6 L490.8,222.9 L490,221.9 L489.2,222.1 L488.4,223.2 L487.6,222.9 L486.8,223.1 L486,222.5 L485.2,222.8 L484.4,221.4 L483.6,223.1 L482.8,221.2 L482,222.8 L481.2,220.6 L480.4,221.8 L479.6,221.2 L478.8,219.5 L478,221.1 L477.2,220.8 L476.4,217.9 L475.6,217.4 L474.8,216.6 L474,217 L473.2,216.9 L472.4,216.1 L471.6,214.2 L470.8,213.2 L470,212.5 L469.2,210.8 L468.4,212.1 L467.6,208.4 L466.8,208.5 L466,207.1 L465.2,205.7 L464.4,202.3 L463.6,201.5 L462.8,197 L462,193.7 L461.2,191.2 L460.4,189.8 L459.6,184.8 L458.8,182 L458,176.2 L457.2,170.1 L456.4,160.8 L455.6,154.3 L454.8,146.1 L454,138.8 L453.2,126.9 L452.4,120.9 L451.6,110.5 L450.8,99.9 L450,89.8 L449.2,87.5 L448.4,79.3 L447.6,75.8 L446.8,71.9 L446,59.7 L445.2,57.4 L444.4,50.9 L443.6,54.9 L442.8,61.7 L442,67.2 L441.2,72.3 L440.4,80.7 L439.6,95.7 L438.8,103.3 L438,116.7 L437.2,127 L436.4,133.9 L435.6,147.9 L434.8,159.1 L434,169.1 L433.2,175.4 L432.4,180 L431.6,187.7 L430.8,193.7 L430,198.4 L429.2,202.6 L428.4,205.6 L427.6,205.2 L426.8,207 L426,210 L425.2,212.3 L424.4,211.3 L423.6,212.4 L422.8,215.3 L422,215.2 L421.2,216.9 L420.4,216 L419.6,217.7 L418.8,218 L418,218.1 L417.2,218.4 L416.4,219.3 L415.6,220.6 L414.8,220.5 L414,219.6 L413.2,221.1 L412.4,222.4 L411.6,222.4 L410.8,223 L410,222.4 L409.2,221.9 L408.4,221.7 L407.6,223.7 L406.8,223.2 L406,224.7 L405.2,223.9 L404.4,223.2 L403.6,225.1 L402.8,225 L402,224.4Z" fill="#c3a3d6" opacity="0.85"/>
<g fill="#7e3fa0" stroke="#1e1e1e" stroke-width="0.55"><circle cx="419.4" cy="228.3" r="1.5"/><circle cx="424.3" cy="231.2" r="1.5"/><circle cx="422.7" cy="230.9" r="1.5"/><circle cx="402.8" cy="223.4" r="1.5"/><circle cx="428.4" cy="226.8" r="1.5"/><circle cx="427.2" cy="214.1" r="1.5"/><circle cx="415.1" cy="218.4" r="1.5"/><circle cx="417.2" cy="225.5" r="1.5"/><circle cx="402.4" cy="217.6" r="1.5"/><circle cx="409.8" cy="230.8" r="1.5"/><circle cx="423.4" cy="215.8" r="1.5"/><circle cx="424.3" cy="215.1" r="1.5"/><circle cx="419.3" cy="214.6" r="1.5"/><circle cx="402" cy="230.2" r="1.5"/><circle cx="407.9" cy="217.5" r="1.5"/><circle cx="429.5" cy="230.2" r="1.5"/><circle cx="410.1" cy="231.5" r="1.5"/><circle cx="417.1" cy="227.2" r="1.5"/><circle cx="407.7" cy="231.2" r="1.5"/><circle cx="421.3" cy="231.5" r="1.5"/><circle cx="427" cy="219.8" r="1.5"/><circle cx="412.1" cy="216" r="1.5"/><circle cx="406.1" cy="211.9" r="1.5"/><circle cx="410.4" cy="226" r="1.5"/><circle cx="402.1" cy="227.2" r="1.5"/><circle cx="411.5" cy="220" r="1.5"/><circle cx="424.9" cy="223.7" r="1.5"/><circle cx="410.8" cy="223.7" r="1.5"/><circle cx="421.7" cy="211.4" r="1.5"/><circle cx="429.3" cy="209.1" r="1.5"/><circle cx="423" cy="229.8" r="1.5"/><circle cx="402.5" cy="229" r="1.5"/><circle cx="412.3" cy="225.5" r="1.5"/><circle cx="402.3" cy="210.8" r="1.5"/><circle cx="407.1" cy="231.4" r="1.5"/><circle cx="407.5" cy="228.5" r="1.5"/><circle cx="428" cy="231.2" r="1.5"/><circle cx="411.6" cy="221.1" r="1.5"/><circle cx="416.7" cy="228.8" r="1.5"/><circle cx="405" cy="228.4" r="1.5"/><circle cx="424.3" cy="230" r="1.5"/><circle cx="403" cy="231.3" r="1.5"/><circle cx="404.6" cy="220.8" r="1.5"/><circle cx="419.1" cy="230.9" r="1.5"/><circle cx="411.5" cy="231" r="1.5"/><circle cx="417.3" cy="220.1" r="1.5"/><circle cx="410.9" cy="216.4" r="1.5"/><circle cx="404.2" cy="215.4" r="1.5"/><circle cx="421.3" cy="232" r="1.5"/><circle cx="406.5" cy="210.9" r="1.5"/><circle cx="429.6" cy="224.7" r="1.5"/><circle cx="413.4" cy="218.2" r="1.5"/><circle cx="418.6" cy="229.5" r="1.5"/><circle cx="414.8" cy="222.5" r="1.5"/><circle cx="403.6" cy="230.8" r="1.5"/><circle cx="402.9" cy="224" r="1.5"/><circle cx="425.5" cy="214.8" r="1.5"/><circle cx="422.5" cy="231.3" r="1.5"/><circle cx="419.7" cy="229" r="1.5"/><circle cx="405" cy="222.8" r="1.5"/><circle cx="406.2" cy="229.8" r="1.5"/><circle cx="410.3" cy="223.2" r="1.5"/><circle cx="430" cy="229.9" r="1.5"/><circle cx="429.3" cy="223.2" r="1.5"/><circle cx="415.7" cy="228.1" r="1.5"/><circle cx="415.4" cy="219.6" r="1.5"/><circle cx="413.3" cy="215.3" r="1.5"/><circle cx="412.6" cy="231.8" r="1.5"/><circle cx="428.9" cy="226.4" r="1.5"/><circle cx="416" cy="220.7" r="1.5"/><circle cx="404.5" cy="219.1" r="1.5"/><circle cx="423.9" cy="230.1" r="1.5"/><circle cx="412.1" cy="228.9" r="1.5"/><circle cx="423.7" cy="227.5" r="1.5"/><circle cx="420.6" cy="228.5" r="1.5"/><circle cx="412.2" cy="227.7" r="1.5"/><circle cx="409.9" cy="223.8" r="1.5"/><circle cx="423.6" cy="227.4" r="1.5"/><circle cx="410.2" cy="231.3" r="1.5"/><circle cx="420.2" cy="225.6" r="1.5"/><circle cx="402.3" cy="225" r="1.5"/><circle cx="409" cy="227.1" r="1.5"/><circle cx="415" cy="229.4" r="1.5"/><circle cx="420.1" cy="229.1" r="1.5"/><circle cx="411.7" cy="226.7" r="1.5"/><circle cx="422.7" cy="229.6" r="1.5"/><circle cx="411.8" cy="229.8" r="1.5"/><circle cx="426.4" cy="227.4" r="1.5"/><circle cx="429.3" cy="231.4" r="1.5"/><circle cx="416.5" cy="224.6" r="1.5"/><circle cx="406.7" cy="229.7" r="1.5"/><circle cx="428.2" cy="223.7" r="1.5"/><circle cx="421.4" cy="227.9" r="1.5"/><circle cx="422.4" cy="216.2" r="1.5"/><circle cx="423.9" cy="225.6" r="1.5"/><circle cx="420.6" cy="222.5" r="1.5"/><circle cx="419.5" cy="228.8" r="1.5"/><circle cx="419.8" cy="227.9" r="1.5"/><circle cx="402.8" cy="215.8" r="1.5"/><circle cx="414.3" cy="226.8" r="1.5"/><circle cx="408.1" cy="227.4" r="1.5"/><circle cx="419.7" cy="210.5" r="1.5"/><circle cx="415.2" cy="217.8" r="1.5"/><circle cx="403.5" cy="214.9" r="1.5"/><circle cx="410.9" cy="216.5" r="1.5"/><circle cx="407.4" cy="210.1" r="1.5"/><circle cx="415" cy="221.7" r="1.5"/><circle cx="419.1" cy="225.7" r="1.5"/><circle cx="408.7" cy="230.7" r="1.5"/><circle cx="402" cy="222.2" r="1.5"/><circle cx="409.8" cy="222.3" r="1.5"/><circle cx="405.2" cy="229.6" r="1.5"/><circle cx="412.5" cy="210.1" r="1.5"/><circle cx="419.2" cy="213.3" r="1.5"/><circle cx="417.3" cy="220.7" r="1.5"/><circle cx="418.3" cy="231.4" r="1.5"/><circle cx="424.9" cy="222.5" r="1.5"/><circle cx="424.8" cy="226.6" r="1.5"/><circle cx="412.3" cy="215.2" r="1.5"/><circle cx="418.7" cy="225.3" r="1.5"/><circle cx="428.8" cy="231.6" r="1.5"/><circle cx="419" cy="221" r="1.5"/><circle cx="427" cy="205.8" r="1.5"/><circle cx="405" cy="225.3" r="1.5"/><circle cx="419.2" cy="215.1" r="1.5"/><circle cx="419.6" cy="230.5" r="1.5"/><circle cx="412.5" cy="222.7" r="1.5"/><circle cx="408.3" cy="219.6" r="1.5"/><circle cx="429.2" cy="221.6" r="1.5"/><circle cx="428.9" cy="230.8" r="1.5"/><circle cx="418.7" cy="218.8" r="1.5"/><circle cx="429.5" cy="224" r="1.5"/><circle cx="413.6" cy="220.3" r="1.5"/><circle cx="429.6" cy="223.9" r="1.5"/><circle cx="410" cy="223.6" r="1.5"/><circle cx="405.4" cy="226.3" r="1.5"/><circle cx="414.4" cy="219.6" r="1.5"/><circle cx="423.9" cy="229.6" r="1.5"/><circle cx="402.4" cy="224.7" r="1.5"/><circle cx="409.7" cy="231.1" r="1.5"/><circle cx="423.9" cy="218.4" r="1.5"/><circle cx="409.5" cy="215.6" r="1.5"/><circle cx="429.7" cy="219.6" r="1.5"/><circle cx="419" cy="223.6" r="1.5"/><circle cx="420.1" cy="226" r="1.5"/><circle cx="422.8" cy="214.3" r="1.5"/><circle cx="423.3" cy="219.8" r="1.5"/><circle cx="416.9" cy="220.7" r="1.5"/><circle cx="410.3" cy="224.7" r="1.5"/><circle cx="415" cy="221.2" r="1.5"/><circle cx="422.9" cy="225.8" r="1.5"/><circle cx="403" cy="218.6" r="1.5"/><circle cx="414.8" cy="230.8" r="1.5"/><circle cx="426.9" cy="224.9" r="1.5"/><circle cx="402.4" cy="228.8" r="1.5"/><circle cx="414" cy="225.5" r="1.5"/><circle cx="421.8" cy="226.5" r="1.5"/><circle cx="415.5" cy="230.8" r="1.5"/><circle cx="412.8" cy="221.9" r="1.5"/><circle cx="425.9" cy="217" r="1.5"/><circle cx="410.3" cy="229.6" r="1.5"/><circle cx="403.8" cy="229.7" r="1.5"/><circle cx="421.4" cy="222.8" r="1.5"/><circle cx="410" cy="228.9" r="1.5"/><circle cx="427.5" cy="215.2" r="1.5"/><circle cx="415.4" cy="225" r="1.5"/><circle cx="415.9" cy="220.5" r="1.5"/><circle cx="406.3" cy="225.7" r="1.5"/><circle cx="424.7" cy="212.1" r="1.5"/><circle cx="408.4" cy="229.4" r="1.5"/></g>
<g fill="#2c48a3" stroke="#1e1e1e" stroke-width="0.55"><circle cx="440" cy="225.3" r="1.5"/><circle cx="403.2" cy="226.3" r="1.5"/><circle cx="449" cy="231" r="1.5"/><circle cx="435.7" cy="214.8" r="1.5"/><circle cx="442.4" cy="217.7" r="1.5"/><circle cx="433" cy="230.2" r="1.5"/><circle cx="436.2" cy="216.3" r="1.5"/><circle cx="416" cy="229.6" r="1.5"/><circle cx="409.2" cy="224.4" r="1.5"/><circle cx="421.9" cy="216.7" r="1.5"/><circle cx="431.9" cy="214.7" r="1.5"/><circle cx="407.2" cy="220.4" r="1.5"/><circle cx="405.5" cy="215" r="1.5"/><circle cx="429.6" cy="226.6" r="1.5"/><circle cx="444.2" cy="216.3" r="1.5"/><circle cx="422.7" cy="219.3" r="1.5"/><circle cx="430.8" cy="222.3" r="1.5"/><circle cx="447" cy="220.4" r="1.5"/><circle cx="404.7" cy="225.9" r="1.5"/><circle cx="409.3" cy="224.7" r="1.5"/><circle cx="426.3" cy="229.5" r="1.5"/><circle cx="428.6" cy="224.6" r="1.5"/><circle cx="414.6" cy="223.4" r="1.5"/><circle cx="414.2" cy="226.8" r="1.5"/><circle cx="426.8" cy="216.3" r="1.5"/></g>
<g fill="#1e9e4a" stroke="#1e1e1e" stroke-width="0.55"><circle cx="408.1" cy="195.9" r="1.5"/><circle cx="421.2" cy="189.2" r="1.5"/><circle cx="420.5" cy="205.2" r="1.5"/><circle cx="404.2" cy="205.6" r="1.5"/><circle cx="404.4" cy="187.2" r="1.5"/><circle cx="417.4" cy="191.4" r="1.5"/><circle cx="424.8" cy="199.6" r="1.5"/><circle cx="410.4" cy="209.7" r="1.5"/><circle cx="402.8" cy="207.5" r="1.5"/><circle cx="403.4" cy="188.2" r="1.5"/><circle cx="426.8" cy="206.1" r="1.5"/><circle cx="407.8" cy="186.9" r="1.5"/><circle cx="427.3" cy="205.6" r="1.5"/><circle cx="423.3" cy="187.8" r="1.5"/><circle cx="418.2" cy="195.4" r="1.5"/><circle cx="408.1" cy="194.6" r="1.5"/><circle cx="418" cy="195.2" r="1.5"/><circle cx="412" cy="187.7" r="1.5"/><circle cx="423.6" cy="205" r="1.5"/><circle cx="422.9" cy="198" r="1.5"/><circle cx="424.1" cy="200.8" r="1.5"/><circle cx="417.4" cy="202.6" r="1.5"/><circle cx="421.2" cy="196.8" r="1.5"/><circle cx="404.5" cy="183.6" r="1.5"/><circle cx="407.3" cy="183.9" r="1.5"/><circle cx="425.1" cy="199.6" r="1.5"/><circle cx="421.8" cy="182" r="1.5"/><circle cx="414.2" cy="212.6" r="1.5"/><circle cx="418.1" cy="197.9" r="1.5"/><circle cx="414.1" cy="186.3" r="1.5"/><circle cx="406" cy="188.5" r="1.5"/><circle cx="411.7" cy="196.4" r="1.5"/><circle cx="424.9" cy="188.2" r="1.5"/><circle cx="408.6" cy="192.7" r="1.5"/><circle cx="406.2" cy="193.1" r="1.5"/><circle cx="408.1" cy="199.6" r="1.5"/><circle cx="402.8" cy="213.7" r="1.5"/><circle cx="411.6" cy="214.1" r="1.5"/><circle cx="419.9" cy="205.8" r="1.5"/><circle cx="414.3" cy="214.3" r="1.5"/><circle cx="405.1" cy="205.7" r="1.5"/><circle cx="409.6" cy="205.9" r="1.5"/><circle cx="421" cy="188.7" r="1.5"/><circle cx="407.2" cy="183.2" r="1.5"/><circle cx="408" cy="185.4" r="1.5"/><circle cx="412.4" cy="215.2" r="1.5"/><circle cx="411.5" cy="193.9" r="1.5"/><circle cx="414.2" cy="192.9" r="1.5"/><circle cx="421" cy="207.2" r="1.5"/><circle cx="406.2" cy="191.4" r="1.5"/><circle cx="419.5" cy="214.2" r="1.5"/><circle cx="418.8" cy="197.9" r="1.5"/><circle cx="427.4" cy="182.4" r="1.5"/><circle cx="403.6" cy="209.2" r="1.5"/><circle cx="412.7" cy="184.1" r="1.5"/><circle cx="416.3" cy="215.7" r="1.5"/><circle cx="415.5" cy="195.2" r="1.5"/><circle cx="404.4" cy="185.2" r="1.5"/><circle cx="425.4" cy="199.9" r="1.5"/><circle cx="426.3" cy="184.4" r="1.5"/><circle cx="406.2" cy="150" r="1.5"/><circle cx="404.5" cy="170" r="1.5"/><circle cx="404.5" cy="175.5" r="1.5"/><circle cx="416" cy="183" r="1.5"/><circle cx="412" cy="184.5" r="1.5"/><circle cx="434.9" cy="222.5" r="1.5"/><circle cx="437.9" cy="222.6" r="1.5"/><circle cx="435.1" cy="226.1" r="1.5"/><circle cx="436.1" cy="222.5" r="1.5"/><circle cx="430.8" cy="231.7" r="1.5"/><circle cx="433.6" cy="227.1" r="1.5"/><circle cx="438" cy="227.3" r="1.5"/><circle cx="431.7" cy="225.1" r="1.5"/><circle cx="432.2" cy="227.4" r="1.5"/><circle cx="448.4" cy="228" r="1.5"/><circle cx="447.1" cy="224.1" r="1.5"/><circle cx="430.3" cy="227.4" r="1.5"/><circle cx="439.7" cy="227.7" r="1.5"/><circle cx="437.5" cy="228.3" r="1.5"/><circle cx="444.5" cy="231.1" r="1.5"/><circle cx="436.2" cy="226.5" r="1.5"/><circle cx="446.5" cy="224.2" r="1.5"/><circle cx="432.3" cy="225.1" r="1.5"/><circle cx="431.8" cy="229.7" r="1.5"/><circle cx="446.4" cy="225.1" r="1.5"/><circle cx="432.6" cy="222.8" r="1.5"/><circle cx="434.9" cy="222.8" r="1.5"/><circle cx="438.6" cy="227.8" r="1.5"/><circle cx="434.9" cy="222.6" r="1.5"/><circle cx="444" cy="222.5" r="1.5"/><circle cx="434" cy="224.9" r="1.5"/><circle cx="437.5" cy="223" r="1.5"/><circle cx="438.4" cy="225.1" r="1.5"/><circle cx="445" cy="227.6" r="1.5"/><circle cx="447.9" cy="228.5" r="1.5"/><circle cx="445.2" cy="227.7" r="1.5"/><circle cx="438.8" cy="230.2" r="1.5"/><circle cx="443.1" cy="231.5" r="1.5"/><circle cx="444.6" cy="229" r="1.5"/><circle cx="435.4" cy="230.1" r="1.5"/><circle cx="465.3" cy="228.5" r="1.5"/><circle cx="452.6" cy="228.7" r="1.5"/><circle cx="460.5" cy="230.7" r="1.5"/><circle cx="461.4" cy="228.3" r="1.5"/><circle cx="480.6" cy="230.2" r="1.5"/><circle cx="451.1" cy="228.2" r="1.5"/><circle cx="455.2" cy="229.4" r="1.5"/><circle cx="484.4" cy="231.8" r="1.5"/><circle cx="474.5" cy="228.9" r="1.5"/><circle cx="467.2" cy="229.4" r="1.5"/><circle cx="463.2" cy="228" r="1.5"/><circle cx="473.4" cy="231.3" r="1.5"/><circle cx="479.1" cy="228.4" r="1.5"/><circle cx="471.2" cy="228.7" r="1.5"/><circle cx="478.4" cy="229.8" r="1.5"/><circle cx="487.5" cy="231.2" r="1.5"/><circle cx="454.7" cy="229.3" r="1.5"/><circle cx="486.6" cy="229.8" r="1.5"/><circle cx="467.4" cy="229.8" r="1.5"/><circle cx="480.7" cy="231.7" r="1.5"/><circle cx="471.3" cy="231.9" r="1.5"/><circle cx="473.8" cy="228.4" r="1.5"/><circle cx="482.6" cy="229.7" r="1.5"/><circle cx="452.1" cy="231.9" r="1.5"/><circle cx="451.3" cy="230.3" r="1.5"/><circle cx="469.3" cy="231.5" r="1.5"/><circle cx="465.7" cy="228.9" r="1.5"/><circle cx="461.1" cy="228.8" r="1.5"/><circle cx="472.5" cy="229.4" r="1.5"/><circle cx="480" cy="229" r="1.5"/><circle cx="464.1" cy="229" r="1.5"/><circle cx="489.3" cy="231.4" r="1.5"/><circle cx="484" cy="230.5" r="1.5"/><circle cx="466" cy="228.6" r="1.5"/><circle cx="483.3" cy="230" r="1.5"/><circle cx="451.5" cy="228.7" r="1.5"/><circle cx="453.9" cy="230.9" r="1.5"/><circle cx="486" cy="228.8" r="1.5"/><circle cx="481.9" cy="229.3" r="1.5"/><circle cx="477.3" cy="231.5" r="1.5"/></g>
<g fill="#e1222b" stroke="#1e1e1e" stroke-width="0.55"><circle cx="604.1" cy="231" r="1.5"/><circle cx="581.9" cy="227.1" r="1.5"/><circle cx="594.1" cy="229.9" r="1.5"/><circle cx="564.6" cy="228.9" r="1.5"/><circle cx="576.6" cy="227.1" r="1.5"/><circle cx="576.1" cy="228.9" r="1.5"/><circle cx="590.8" cy="230.5" r="1.5"/><circle cx="583.9" cy="231.9" r="1.5"/><circle cx="621.4" cy="231.6" r="1.5"/><circle cx="610.4" cy="230.4" r="1.5"/><circle cx="596.3" cy="231" r="1.5"/><circle cx="580.7" cy="230" r="1.5"/><circle cx="609.2" cy="229.6" r="1.5"/><circle cx="573.6" cy="227.4" r="1.5"/><circle cx="555.9" cy="228.8" r="1.5"/><circle cx="600.2" cy="230.8" r="1.5"/><circle cx="612.3" cy="228.5" r="1.5"/><circle cx="631.6" cy="228.4" r="1.5"/><circle cx="612.4" cy="227.4" r="1.5"/><circle cx="615.8" cy="230.3" r="1.5"/><circle cx="634.1" cy="231.5" r="1.5"/><circle cx="609.9" cy="231.2" r="1.5"/><circle cx="614.5" cy="230.1" r="1.5"/><circle cx="566.8" cy="229.6" r="1.5"/><circle cx="628.7" cy="228.2" r="1.5"/><circle cx="635.7" cy="229.7" r="1.5"/><circle cx="583.4" cy="227" r="1.5"/><circle cx="583.1" cy="227.9" r="1.5"/><circle cx="606.8" cy="231.5" r="1.5"/><circle cx="629.9" cy="230.1" r="1.5"/><circle cx="582.8" cy="227.5" r="1.5"/><circle cx="610" cy="229.8" r="1.5"/><circle cx="612.4" cy="228.9" r="1.5"/><circle cx="627.8" cy="228.1" r="1.5"/><circle cx="575.5" cy="228.3" r="1.5"/><circle cx="604" cy="231.5" r="1.5"/><circle cx="563.1" cy="230.2" r="1.5"/><circle cx="617" cy="228.1" r="1.5"/><circle cx="553.6" cy="229.8" r="1.5"/><circle cx="622.7" cy="231.4" r="1.5"/></g>
<path d="M620,230.5C622.2,229.7 629.7,227.2 633.2,225.4C636.7,223.6 638.9,222.3 641.2,219.4C643.5,216.5 645,211.6 647,208C649,204.4 651.2,199.2 653,198C654.8,196.8 656.2,199.4 657.5,201C658.8,202.6 659.6,204.4 661,207.5C662.4,210.6 665.2,217.4 666,219.4" fill="none" stroke="#701a1a" stroke-width="3.4" stroke-linejoin="round"/>
<g fill="#e1222b" stroke="#1e1e1e" stroke-width="0.75"><circle cx="619.9" cy="231.3" r="1.75"/><circle cx="620.2" cy="229.7" r="1.75"/><circle cx="623.2" cy="230" r="1.75"/><circle cx="622.6" cy="229" r="1.75"/><circle cx="625.3" cy="228.8" r="1.75"/><circle cx="624.7" cy="229.3" r="1.75"/><circle cx="626" cy="228.4" r="1.75"/><circle cx="628.1" cy="227.6" r="1.75"/><circle cx="629.9" cy="226.6" r="1.75"/><circle cx="630.3" cy="226" r="1.75"/><circle cx="632.2" cy="225.6" r="1.75"/><circle cx="632.4" cy="226.5" r="1.75"/><circle cx="634.2" cy="224.5" r="1.75"/><circle cx="635.2" cy="225.4" r="1.75"/><circle cx="635.2" cy="224.7" r="1.75"/><circle cx="636" cy="222.8" r="1.75"/><circle cx="636.9" cy="222.5" r="1.75"/><circle cx="639.2" cy="222.1" r="1.75"/><circle cx="640.4" cy="222.1" r="1.75"/><circle cx="639.7" cy="220.4" r="1.75"/><circle cx="640.2" cy="219.8" r="1.75"/><circle cx="642" cy="218.8" r="1.75"/><circle cx="641.6" cy="217.8" r="1.75"/><circle cx="642.2" cy="217.2" r="1.75"/><circle cx="643.4" cy="214.7" r="1.75"/><circle cx="645" cy="215.3" r="1.75"/><circle cx="644.2" cy="214.2" r="1.75"/><circle cx="644.6" cy="212.3" r="1.75"/><circle cx="645.6" cy="211.7" r="1.75"/><circle cx="645.1" cy="209.1" r="1.75"/><circle cx="645.8" cy="208.7" r="1.75"/><circle cx="647.7" cy="208.3" r="1.75"/><circle cx="646.8" cy="207.3" r="1.75"/><circle cx="647.6" cy="204.8" r="1.75"/><circle cx="648.7" cy="205.5" r="1.75"/><circle cx="650.1" cy="203.5" r="1.75"/><circle cx="650.4" cy="201.9" r="1.75"/><circle cx="649.7" cy="202.4" r="1.75"/><circle cx="651.4" cy="199.8" r="1.75"/><circle cx="651.3" cy="200" r="1.75"/><circle cx="651.5" cy="197.9" r="1.75"/><circle cx="654" cy="197.3" r="1.75"/><circle cx="654.4" cy="197.7" r="1.75"/><circle cx="655.4" cy="198.2" r="1.75"/><circle cx="655.8" cy="200.1" r="1.75"/><circle cx="657.5" cy="201.3" r="1.75"/><circle cx="656.9" cy="200.7" r="1.75"/><circle cx="659.2" cy="201.9" r="1.75"/><circle cx="659.6" cy="203" r="1.75"/><circle cx="659.4" cy="204.8" r="1.75"/><circle cx="659.9" cy="205.6" r="1.75"/><circle cx="659.7" cy="207.3" r="1.75"/><circle cx="661.3" cy="207.2" r="1.75"/><circle cx="661.5" cy="209.1" r="1.75"/><circle cx="662.9" cy="208.9" r="1.75"/><circle cx="663.4" cy="211.2" r="1.75"/><circle cx="662.1" cy="211.8" r="1.75"/><circle cx="663.9" cy="212.4" r="1.75"/><circle cx="664.1" cy="214.5" r="1.75"/><circle cx="664.5" cy="214.5" r="1.75"/><circle cx="663.9" cy="217.5" r="1.75"/><circle cx="664.6" cy="217" r="1.75"/><circle cx="665.9" cy="217.8" r="1.75"/></g>
<g fill="#ef6a2a" stroke="#1e1e1e" stroke-width="0.75"><circle cx="574.8" cy="230" r="1.75"/><circle cx="576.6" cy="230.1" r="1.75"/><circle cx="579.7" cy="228.4" r="1.75"/><circle cx="581.9" cy="226.5" r="1.75"/><circle cx="584.4" cy="225.4" r="1.75"/><circle cx="586.3" cy="223.7" r="1.75"/><circle cx="587.7" cy="221" r="1.75"/><circle cx="587.2" cy="217.9" r="1.75"/><circle cx="589" cy="215.5" r="1.75"/><circle cx="589.5" cy="213.8" r="1.75"/><circle cx="588.9" cy="211.7" r="1.75"/><circle cx="589.4" cy="209.3" r="1.75"/><circle cx="591.5" cy="205.4" r="1.75"/><circle cx="591.8" cy="203.9" r="1.75"/><circle cx="591.1" cy="201.2" r="1.75"/><circle cx="591.6" cy="199.2" r="1.75"/><circle cx="593.4" cy="196.8" r="1.75"/><circle cx="592.7" cy="192.9" r="1.75"/><circle cx="594.5" cy="191" r="1.75"/><circle cx="594.2" cy="189" r="1.75"/><circle cx="596" cy="185.3" r="1.75"/><circle cx="595" cy="183.4" r="1.75"/><circle cx="596" cy="180.9" r="1.75"/><circle cx="596.5" cy="177.8" r="1.75"/><circle cx="596" cy="174.7" r="1.75"/><circle cx="597.4" cy="173.3" r="1.75"/><circle cx="598" cy="170.8" r="1.75"/><circle cx="598.9" cy="168.6" r="1.75"/><circle cx="600.6" cy="165.8" r="1.75"/><circle cx="600.7" cy="167.6" r="1.75"/><circle cx="601.3" cy="171.6" r="1.75"/><circle cx="603.7" cy="173.9" r="1.75"/><circle cx="602.7" cy="176.3" r="1.75"/><circle cx="603.3" cy="179.3" r="1.75"/><circle cx="604.9" cy="181.5" r="1.75"/><circle cx="605.3" cy="183.4" r="1.75"/><circle cx="606.3" cy="187.1" r="1.75"/><circle cx="605.7" cy="188.5" r="1.75"/><circle cx="607.3" cy="191.5" r="1.75"/><circle cx="607.4" cy="193.6" r="1.75"/><circle cx="609.2" cy="195.8" r="1.75"/><circle cx="608.3" cy="199.1" r="1.75"/><circle cx="609.1" cy="202" r="1.75"/><circle cx="609.8" cy="204.6" r="1.75"/><circle cx="610.4" cy="207.1" r="1.75"/><circle cx="611.7" cy="209.3" r="1.75"/><circle cx="611.2" cy="210.7" r="1.75"/><circle cx="611.7" cy="213.2" r="1.75"/><circle cx="613.8" cy="215.4" r="1.75"/><circle cx="613.9" cy="218.9" r="1.75"/><circle cx="614.9" cy="220.7" r="1.75"/><circle cx="616.5" cy="223.5" r="1.75"/><circle cx="618.2" cy="226" r="1.75"/><circle cx="621.3" cy="226.8" r="1.75"/><circle cx="623.6" cy="227.5" r="1.75"/><circle cx="626.9" cy="229.1" r="1.75"/><circle cx="629.1" cy="228.2" r="1.75"/><circle cx="631.1" cy="230.5" r="1.75"/><circle cx="633.8" cy="230" r="1.75"/><circle cx="636.4" cy="229.5" r="1.75"/><circle cx="639.2" cy="231" r="1.75"/></g>
<g fill="#f9ae45" stroke="#1e1e1e" stroke-width="0.75"><circle cx="535.3" cy="229.1" r="1.75"/><circle cx="536.6" cy="227.8" r="1.75"/><circle cx="539.4" cy="227" r="1.75"/><circle cx="541.5" cy="223.9" r="1.75"/><circle cx="541.9" cy="221.6" r="1.75"/><circle cx="542.5" cy="220.1" r="1.75"/><circle cx="543" cy="217.1" r="1.75"/><circle cx="545" cy="215.3" r="1.75"/><circle cx="544.9" cy="212.9" r="1.75"/><circle cx="546.7" cy="209.2" r="1.75"/><circle cx="547.3" cy="208" r="1.75"/><circle cx="547" cy="204.4" r="1.75"/><circle cx="548.8" cy="202.3" r="1.75"/><circle cx="547.7" cy="199.2" r="1.75"/><circle cx="549.8" cy="197.7" r="1.75"/><circle cx="550.5" cy="195.5" r="1.75"/><circle cx="550.6" cy="193.5" r="1.75"/><circle cx="550.9" cy="190.1" r="1.75"/><circle cx="552.4" cy="187.7" r="1.75"/><circle cx="552.9" cy="185.1" r="1.75"/><circle cx="553" cy="181.4" r="1.75"/><circle cx="552.5" cy="179.3" r="1.75"/><circle cx="552.5" cy="176.7" r="1.75"/><circle cx="552.9" cy="174.2" r="1.75"/><circle cx="554.4" cy="171.8" r="1.75"/><circle cx="554.4" cy="168.9" r="1.75"/><circle cx="554.6" cy="167.8" r="1.75"/><circle cx="555.9" cy="164.6" r="1.75"/><circle cx="555.3" cy="162.3" r="1.75"/><circle cx="555.7" cy="159" r="1.75"/><circle cx="557.7" cy="157" r="1.75"/><circle cx="557.2" cy="154.5" r="1.75"/><circle cx="558.2" cy="152.1" r="1.75"/><circle cx="557.3" cy="148" r="1.75"/><circle cx="557.9" cy="145.9" r="1.75"/><circle cx="558.1" cy="144.7" r="1.75"/><circle cx="559.9" cy="140.9" r="1.75"/><circle cx="559.9" cy="138.5" r="1.75"/><circle cx="560.9" cy="136.1" r="1.75"/><circle cx="560.3" cy="133.1" r="1.75"/><circle cx="562.3" cy="133.9" r="1.75"/><circle cx="563" cy="137.7" r="1.75"/><circle cx="563.2" cy="138.9" r="1.75"/><circle cx="565" cy="142" r="1.75"/><circle cx="563.9" cy="143.6" r="1.75"/><circle cx="564.5" cy="147.3" r="1.75"/><circle cx="566.5" cy="149.4" r="1.75"/><circle cx="565.6" cy="151.8" r="1.75"/><circle cx="568" cy="154.7" r="1.75"/><circle cx="568.5" cy="157.9" r="1.75"/><circle cx="567.1" cy="160.2" r="1.75"/><circle cx="569" cy="162.3" r="1.75"/><circle cx="568.6" cy="165.1" r="1.75"/><circle cx="568.8" cy="167.2" r="1.75"/><circle cx="570" cy="170.8" r="1.75"/><circle cx="571.3" cy="172" r="1.75"/><circle cx="571" cy="174.4" r="1.75"/><circle cx="572.3" cy="178.3" r="1.75"/><circle cx="571.4" cy="180.4" r="1.75"/><circle cx="572.5" cy="182" r="1.75"/><circle cx="573.2" cy="185.4" r="1.75"/><circle cx="573.7" cy="187.9" r="1.75"/><circle cx="572.6" cy="190.1" r="1.75"/><circle cx="573.2" cy="193.8" r="1.75"/><circle cx="575.5" cy="196.2" r="1.75"/><circle cx="574.9" cy="197.1" r="1.75"/><circle cx="576.7" cy="201.5" r="1.75"/><circle cx="575.6" cy="203.1" r="1.75"/><circle cx="576" cy="206.2" r="1.75"/><circle cx="577.8" cy="207.5" r="1.75"/><circle cx="577.8" cy="210.9" r="1.75"/><circle cx="578.2" cy="214" r="1.75"/><circle cx="579.5" cy="215.1" r="1.75"/><circle cx="580.8" cy="218.5" r="1.75"/><circle cx="581.4" cy="219.9" r="1.75"/><circle cx="584.6" cy="222.6" r="1.75"/><circle cx="585.4" cy="224.1" r="1.75"/><circle cx="587" cy="224.8" r="1.75"/><circle cx="589.9" cy="226.5" r="1.75"/><circle cx="592.1" cy="226.6" r="1.75"/><circle cx="594.3" cy="228.1" r="1.75"/><circle cx="597.1" cy="229.4" r="1.75"/><circle cx="600.9" cy="228.4" r="1.75"/><circle cx="602.2" cy="230.2" r="1.75"/></g>
<path d="M470,230C471,229.8 474.3,229 476,228.5C477.7,228 478.8,229.4 480,227.2C481.2,225 482.3,220 483.3,215.4C484.3,210.8 485.1,205.4 485.9,199.5C486.7,193.6 487.3,186.3 487.9,179.7C488.5,173.1 488.9,166.4 489.3,159.8C489.8,153.2 490.3,144.9 490.6,140C490.9,135.1 490.8,134.9 491.1,130.1C491.4,125.3 492,117.5 492.5,111.3C493,105 493.4,98.2 494,92.6C494.6,87 495.4,77.5 496.2,77.5C497,77.5 498,87 498.7,92.6C499.4,98.2 499.7,105 500.2,111.3C500.7,117.5 501.4,125.3 501.8,130.1C502.2,134.9 502.4,135.1 502.8,140C503.2,144.9 503.8,153.2 504.3,159.8C504.8,166.4 505.1,173.1 505.7,179.7C506.3,186.3 506.9,194.2 507.7,199.5C508.5,204.8 509.2,207.8 510.7,211.4C512.2,215 514.3,218.8 516.6,221.3C518.9,223.8 521.6,225.3 524.6,226.3C527.6,227.3 530.3,226.8 534.5,227.2C538.7,227.6 547.4,228.7 550,229" fill="none" stroke="#174a2a" stroke-width="3.4" stroke-linejoin="round"/>
<g fill="#1e9e4a" stroke="#1e1e1e" stroke-width="0.75"><circle cx="469.1" cy="230.4" r="1.75"/><circle cx="470.5" cy="229.6" r="1.75"/><circle cx="472.7" cy="230" r="1.75"/><circle cx="473.4" cy="229.1" r="1.75"/><circle cx="473.7" cy="228.7" r="1.75"/><circle cx="475.6" cy="229.3" r="1.75"/><circle cx="477.1" cy="228.9" r="1.75"/><circle cx="478.1" cy="227.8" r="1.75"/><circle cx="480" cy="228.7" r="1.75"/><circle cx="479.8" cy="226.3" r="1.75"/><circle cx="480.6" cy="226.1" r="1.75"/><circle cx="481.5" cy="225.1" r="1.75"/><circle cx="481.3" cy="223.9" r="1.75"/><circle cx="481.4" cy="221.7" r="1.75"/><circle cx="481" cy="222.4" r="1.75"/><circle cx="482.9" cy="219.9" r="1.75"/><circle cx="483.3" cy="219.2" r="1.75"/><circle cx="482" cy="218.7" r="1.75"/><circle cx="483.2" cy="217.7" r="1.75"/><circle cx="483.6" cy="214.8" r="1.75"/><circle cx="483.7" cy="215" r="1.75"/><circle cx="484.5" cy="212.9" r="1.75"/><circle cx="484" cy="212.5" r="1.75"/><circle cx="483.5" cy="211.6" r="1.75"/><circle cx="484.9" cy="208.8" r="1.75"/><circle cx="484.8" cy="208.3" r="1.75"/><circle cx="484.1" cy="207.6" r="1.75"/><circle cx="485.9" cy="206.3" r="1.75"/><circle cx="484.4" cy="205" r="1.75"/><circle cx="485.9" cy="204.7" r="1.75"/><circle cx="485.9" cy="201.7" r="1.75"/><circle cx="486.6" cy="201.6" r="1.75"/><circle cx="485" cy="199.5" r="1.75"/><circle cx="485.1" cy="199.4" r="1.75"/><circle cx="485.4" cy="198.5" r="1.75"/><circle cx="485.5" cy="196.7" r="1.75"/><circle cx="486.3" cy="194.5" r="1.75"/><circle cx="485.5" cy="195.1" r="1.75"/><circle cx="487.6" cy="192.3" r="1.75"/><circle cx="487.2" cy="192.9" r="1.75"/><circle cx="487.7" cy="191.5" r="1.75"/><circle cx="486.7" cy="189.9" r="1.75"/><circle cx="487.1" cy="189.2" r="1.75"/><circle cx="487.6" cy="187.8" r="1.75"/><circle cx="488.1" cy="185.7" r="1.75"/><circle cx="487.9" cy="183.9" r="1.75"/><circle cx="487" cy="184.4" r="1.75"/><circle cx="487.5" cy="182.7" r="1.75"/><circle cx="487.9" cy="180.7" r="1.75"/><circle cx="488.1" cy="180.8" r="1.75"/><circle cx="487.6" cy="178.4" r="1.75"/><circle cx="487.4" cy="176.9" r="1.75"/><circle cx="488.8" cy="176.8" r="1.75"/><circle cx="489.2" cy="175.5" r="1.75"/><circle cx="489.3" cy="173.4" r="1.75"/><circle cx="487.8" cy="172.2" r="1.75"/><circle cx="488.3" cy="172.5" r="1.75"/><circle cx="488.1" cy="170.3" r="1.75"/><circle cx="487.8" cy="168.2" r="1.75"/><circle cx="488.9" cy="168.2" r="1.75"/><circle cx="488.9" cy="167.6" r="1.75"/><circle cx="489.6" cy="166.5" r="1.75"/><circle cx="489.2" cy="163.9" r="1.75"/><circle cx="488.3" cy="163.7" r="1.75"/><circle cx="488.5" cy="161" r="1.75"/><circle cx="489.6" cy="160" r="1.75"/><circle cx="489.6" cy="159" r="1.75"/><circle cx="489.2" cy="157.4" r="1.75"/><circle cx="489.2" cy="156.9" r="1.75"/><circle cx="489.1" cy="155.3" r="1.75"/><circle cx="489.8" cy="155.2" r="1.75"/><circle cx="489.1" cy="152.7" r="1.75"/><circle cx="489.3" cy="152.8" r="1.75"/><circle cx="489.4" cy="151.5" r="1.75"/><circle cx="489.1" cy="150.4" r="1.75"/><circle cx="489.3" cy="148.3" r="1.75"/><circle cx="490.6" cy="147.6" r="1.75"/><circle cx="490.5" cy="146" r="1.75"/><circle cx="490.6" cy="144.8" r="1.75"/><circle cx="490.3" cy="143.9" r="1.75"/><circle cx="491.2" cy="143.3" r="1.75"/><circle cx="490.6" cy="142.3" r="1.75"/><circle cx="490.8" cy="140.9" r="1.75"/><circle cx="490.7" cy="139.4" r="1.75"/><circle cx="490.1" cy="138.9" r="1.75"/><circle cx="491" cy="137.5" r="1.75"/><circle cx="491" cy="134.7" r="1.75"/><circle cx="490.1" cy="135.2" r="1.75"/><circle cx="491.3" cy="134.1" r="1.75"/><circle cx="491.8" cy="131.5" r="1.75"/><circle cx="492" cy="131.1" r="1.75"/><circle cx="491.6" cy="129.7" r="1.75"/><circle cx="490.7" cy="128.4" r="1.75"/><circle cx="491.2" cy="126.9" r="1.75"/><circle cx="491.1" cy="125.9" r="1.75"/><circle cx="491" cy="124.1" r="1.75"/><circle cx="492.2" cy="123.4" r="1.75"/><circle cx="491.4" cy="123" r="1.75"/><circle cx="492.1" cy="121.2" r="1.75"/><circle cx="491.4" cy="120.7" r="1.75"/><circle cx="491.4" cy="118.8" r="1.75"/><circle cx="491.8" cy="118.7" r="1.75"/><circle cx="491.6" cy="116.7" r="1.75"/><circle cx="492.2" cy="114.4" r="1.75"/><circle cx="491.6" cy="114.9" r="1.75"/><circle cx="493" cy="112.3" r="1.75"/><circle cx="491.8" cy="112.6" r="1.75"/><circle cx="492.7" cy="110.9" r="1.75"/><circle cx="493.5" cy="108.8" r="1.75"/><circle cx="492.7" cy="108.9" r="1.75"/><circle cx="492.2" cy="106.4" r="1.75"/><circle cx="493.7" cy="106.4" r="1.75"/><circle cx="493" cy="103.8" r="1.75"/><circle cx="493.7" cy="102.9" r="1.75"/><circle cx="493.7" cy="101.6" r="1.75"/><circle cx="492.6" cy="101.3" r="1.75"/><circle cx="493.1" cy="99.5" r="1.75"/><circle cx="493.3" cy="98.5" r="1.75"/><circle cx="493.5" cy="97.6" r="1.75"/><circle cx="492.9" cy="96.5" r="1.75"/><circle cx="493.7" cy="95.6" r="1.75"/><circle cx="493.5" cy="94.1" r="1.75"/><circle cx="493.4" cy="93" r="1.75"/><circle cx="494.5" cy="91.5" r="1.75"/><circle cx="494.2" cy="91.1" r="1.75"/><circle cx="494.1" cy="88.1" r="1.75"/><circle cx="494.2" cy="86.9" r="1.75"/><circle cx="495.4" cy="87.3" r="1.75"/><circle cx="494.1" cy="85.7" r="1.75"/><circle cx="494.3" cy="84.9" r="1.75"/><circle cx="494.9" cy="82.1" r="1.75"/><circle cx="495.4" cy="81" r="1.75"/><circle cx="496.1" cy="81.5" r="1.75"/><circle cx="495.8" cy="78.9" r="1.75"/><circle cx="496.3" cy="77.4" r="1.75"/><circle cx="495.6" cy="77.3" r="1.75"/><circle cx="495.9" cy="79.6" r="1.75"/><circle cx="497.4" cy="80.6" r="1.75"/><circle cx="497.5" cy="80.6" r="1.75"/><circle cx="497" cy="82.6" r="1.75"/><circle cx="498.2" cy="83.8" r="1.75"/><circle cx="497.4" cy="85.4" r="1.75"/><circle cx="497.7" cy="86.2" r="1.75"/><circle cx="498.7" cy="87.5" r="1.75"/><circle cx="498.1" cy="88.5" r="1.75"/><circle cx="497.7" cy="89.4" r="1.75"/><circle cx="499.1" cy="90.7" r="1.75"/><circle cx="497.7" cy="92.5" r="1.75"/><circle cx="498.1" cy="92.2" r="1.75"/><circle cx="499" cy="94.8" r="1.75"/><circle cx="498.2" cy="95.4" r="1.75"/><circle cx="499" cy="95.9" r="1.75"/><circle cx="499.5" cy="97.4" r="1.75"/><circle cx="499.7" cy="99.1" r="1.75"/><circle cx="499.4" cy="99.7" r="1.75"/><circle cx="500" cy="100.5" r="1.75"/><circle cx="499.2" cy="101.9" r="1.75"/><circle cx="498.8" cy="102.9" r="1.75"/><circle cx="499.8" cy="104.2" r="1.75"/><circle cx="499" cy="106.1" r="1.75"/><circle cx="500.3" cy="106.8" r="1.75"/><circle cx="500.3" cy="108.8" r="1.75"/><circle cx="500.9" cy="110.5" r="1.75"/><circle cx="501.2" cy="110.7" r="1.75"/><circle cx="501" cy="111.9" r="1.75"/><circle cx="499.9" cy="113.3" r="1.75"/><circle cx="499.5" cy="115.1" r="1.75"/><circle cx="499.8" cy="116" r="1.75"/><circle cx="499.8" cy="116.9" r="1.75"/><circle cx="500.3" cy="119.1" r="1.75"/><circle cx="500.5" cy="119.1" r="1.75"/><circle cx="500.6" cy="119.8" r="1.75"/><circle cx="501.4" cy="121.4" r="1.75"/><circle cx="500.7" cy="122.6" r="1.75"/><circle cx="501" cy="124.8" r="1.75"/><circle cx="500.8" cy="124.6" r="1.75"/><circle cx="501.1" cy="126.7" r="1.75"/><circle cx="501.2" cy="127" r="1.75"/><circle cx="501.4" cy="129.9" r="1.75"/><circle cx="502.6" cy="130.1" r="1.75"/><circle cx="501.8" cy="130.7" r="1.75"/><circle cx="502.4" cy="133" r="1.75"/><circle cx="501.7" cy="134" r="1.75"/><circle cx="501.5" cy="134.6" r="1.75"/><circle cx="502" cy="136.7" r="1.75"/><circle cx="502.8" cy="137.3" r="1.75"/><circle cx="502.5" cy="138.6" r="1.75"/><circle cx="502.7" cy="139.2" r="1.75"/><circle cx="503.5" cy="141.5" r="1.75"/><circle cx="502.7" cy="141.9" r="1.75"/><circle cx="503.9" cy="142.3" r="1.75"/><circle cx="503.7" cy="143.8" r="1.75"/><circle cx="502.6" cy="145.4" r="1.75"/><circle cx="503.6" cy="146.5" r="1.75"/><circle cx="503.5" cy="148.1" r="1.75"/><circle cx="504.4" cy="149.4" r="1.75"/><circle cx="503.2" cy="150.7" r="1.75"/><circle cx="503.8" cy="151.3" r="1.75"/><circle cx="504.2" cy="151.9" r="1.75"/><circle cx="504.9" cy="154.8" r="1.75"/><circle cx="503.1" cy="155.7" r="1.75"/><circle cx="503.3" cy="157.4" r="1.75"/><circle cx="504" cy="158.2" r="1.75"/><circle cx="503.7" cy="159.2" r="1.75"/><circle cx="503.4" cy="160.7" r="1.75"/><circle cx="503.9" cy="160.6" r="1.75"/><circle cx="504.4" cy="162.5" r="1.75"/><circle cx="503.7" cy="163" r="1.75"/><circle cx="504.4" cy="164.9" r="1.75"/><circle cx="505.1" cy="165.3" r="1.75"/><circle cx="505.4" cy="167" r="1.75"/><circle cx="505.9" cy="168.2" r="1.75"/><circle cx="504.9" cy="169.4" r="1.75"/><circle cx="504.2" cy="171.7" r="1.75"/><circle cx="505.3" cy="172.5" r="1.75"/><circle cx="504.5" cy="173.2" r="1.75"/><circle cx="504.9" cy="174" r="1.75"/><circle cx="505.2" cy="175.9" r="1.75"/><circle cx="505.4" cy="177.2" r="1.75"/><circle cx="506.5" cy="178.2" r="1.75"/><circle cx="506.3" cy="180.1" r="1.75"/><circle cx="506.7" cy="180.1" r="1.75"/><circle cx="506.5" cy="182" r="1.75"/><circle cx="505" cy="183.4" r="1.75"/><circle cx="506.9" cy="184.8" r="1.75"/><circle cx="505.8" cy="185.6" r="1.75"/><circle cx="506.9" cy="186.3" r="1.75"/><circle cx="506.6" cy="187.3" r="1.75"/><circle cx="507.3" cy="188.8" r="1.75"/><circle cx="506.1" cy="189.8" r="1.75"/><circle cx="506.9" cy="190.9" r="1.75"/><circle cx="506.5" cy="192.6" r="1.75"/><circle cx="506.6" cy="193.5" r="1.75"/><circle cx="506.2" cy="194.4" r="1.75"/><circle cx="506.4" cy="195.9" r="1.75"/><circle cx="507" cy="196.9" r="1.75"/><circle cx="506.6" cy="199.3" r="1.75"/><circle cx="507.1" cy="198.5" r="1.75"/><circle cx="508.1" cy="199.8" r="1.75"/><circle cx="508.2" cy="202.7" r="1.75"/><circle cx="507.4" cy="203" r="1.75"/><circle cx="509.2" cy="203.7" r="1.75"/><circle cx="508.1" cy="204.5" r="1.75"/><circle cx="509.5" cy="207.1" r="1.75"/><circle cx="509.3" cy="207.4" r="1.75"/><circle cx="510.7" cy="208.4" r="1.75"/><circle cx="510.8" cy="210.6" r="1.75"/><circle cx="510.5" cy="211.7" r="1.75"/><circle cx="510.7" cy="213" r="1.75"/><circle cx="512" cy="213.6" r="1.75"/><circle cx="512.7" cy="214.8" r="1.75"/><circle cx="513.3" cy="215.2" r="1.75"/><circle cx="512.9" cy="217.4" r="1.75"/><circle cx="513.7" cy="217.2" r="1.75"/><circle cx="515.1" cy="218.3" r="1.75"/><circle cx="515" cy="219.7" r="1.75"/><circle cx="515.1" cy="221.2" r="1.75"/><circle cx="516.9" cy="220.5" r="1.75"/><circle cx="516.7" cy="221.8" r="1.75"/><circle cx="518.3" cy="223.6" r="1.75"/><circle cx="520" cy="224.2" r="1.75"/><circle cx="520.9" cy="224.4" r="1.75"/><circle cx="520.6" cy="224.7" r="1.75"/><circle cx="523" cy="224.6" r="1.75"/><circle cx="523.1" cy="225" r="1.75"/><circle cx="524.4" cy="226" r="1.75"/><circle cx="525.9" cy="226" r="1.75"/><circle cx="527.2" cy="226.1" r="1.75"/><circle cx="528.9" cy="227.6" r="1.75"/><circle cx="529.3" cy="227.7" r="1.75"/><circle cx="531" cy="227.1" r="1.75"/><circle cx="532.2" cy="226.9" r="1.75"/><circle cx="532.4" cy="227.9" r="1.75"/><circle cx="533.8" cy="227.9" r="1.75"/><circle cx="535.3" cy="227.4" r="1.75"/><circle cx="536.9" cy="227.2" r="1.75"/><circle cx="538.9" cy="228.3" r="1.75"/><circle cx="538.8" cy="227.4" r="1.75"/><circle cx="541" cy="228.7" r="1.75"/><circle cx="541.2" cy="227.3" r="1.75"/><circle cx="542.7" cy="228.1" r="1.75"/><circle cx="543.7" cy="228.5" r="1.75"/><circle cx="544.1" cy="228.5" r="1.75"/><circle cx="546.6" cy="228.7" r="1.75"/><circle cx="546.4" cy="228.8" r="1.75"/><circle cx="549.4" cy="229.2" r="1.75"/><circle cx="549.8" cy="228.7" r="1.75"/></g>
<path d="M424,230C426.7,229.8 436.2,229.3 440,229C443.8,228.7 444.7,229.2 446.8,228.4C448.9,227.6 451,227 452.5,223.9C454,220.8 454.9,215.8 455.8,210C456.7,204.2 457.4,197.8 458.1,189.4C458.8,181 459.4,169.4 459.8,159.5C460.2,149.6 460.5,136.9 460.8,130C461.1,123 461.2,122.3 461.6,117.8C462,113.3 462.4,107.2 462.9,103.2C463.4,99.2 464,93.5 464.6,93.5C465.2,93.5 466.1,99.2 466.7,103.2C467.3,107.2 468,113.3 468.5,117.8C469,122.3 469.2,123 469.8,130C470.4,136.9 471,149.6 471.8,159.5C472.6,169.4 473.6,181 474.6,189.4C475.6,197.8 476.5,204.6 477.6,210C478.7,215.4 479.5,218.9 481.3,221.6C483.1,224.3 485.1,225.1 488.2,226.1C491.3,227.1 491.4,227.1 500,227.5C508.6,227.9 533.3,228.3 540,228.5" fill="none" stroke="#1e2762" stroke-width="3.4" stroke-linejoin="round"/>
<g fill="#2c48a3" stroke="#1e1e1e" stroke-width="0.75"><circle cx="423.8" cy="230.1" r="1.75"/><circle cx="425.9" cy="229.3" r="1.75"/><circle cx="425.8" cy="228.9" r="1.75"/><circle cx="426.8" cy="228.8" r="1.75"/><circle cx="428.1" cy="229.7" r="1.75"/><circle cx="431" cy="230" r="1.75"/><circle cx="430.9" cy="229.4" r="1.75"/><circle cx="432.8" cy="229.1" r="1.75"/><circle cx="432.7" cy="230.1" r="1.75"/><circle cx="435" cy="228.6" r="1.75"/><circle cx="435.1" cy="228.5" r="1.75"/><circle cx="438.1" cy="228.4" r="1.75"/><circle cx="438.6" cy="230" r="1.75"/><circle cx="438.6" cy="228.8" r="1.75"/><circle cx="440.7" cy="229.8" r="1.75"/><circle cx="441.3" cy="228.4" r="1.75"/><circle cx="442.7" cy="228" r="1.75"/><circle cx="444.7" cy="229.5" r="1.75"/><circle cx="445.4" cy="227.9" r="1.75"/><circle cx="447.1" cy="228.9" r="1.75"/><circle cx="448.1" cy="227.7" r="1.75"/><circle cx="449.6" cy="227.8" r="1.75"/><circle cx="450.1" cy="227" r="1.75"/><circle cx="450.4" cy="226.1" r="1.75"/><circle cx="452.3" cy="225.6" r="1.75"/><circle cx="452" cy="224.9" r="1.75"/><circle cx="453.5" cy="222.3" r="1.75"/><circle cx="452.6" cy="221.5" r="1.75"/><circle cx="452.6" cy="221.4" r="1.75"/><circle cx="454.2" cy="219.8" r="1.75"/><circle cx="455.2" cy="218.3" r="1.75"/><circle cx="453.9" cy="216.6" r="1.75"/><circle cx="454.4" cy="216.9" r="1.75"/><circle cx="455.2" cy="214.2" r="1.75"/><circle cx="455" cy="213" r="1.75"/><circle cx="455.6" cy="211.9" r="1.75"/><circle cx="454.9" cy="211.8" r="1.75"/><circle cx="456.4" cy="210.6" r="1.75"/><circle cx="455.5" cy="209.4" r="1.75"/><circle cx="455.7" cy="207" r="1.75"/><circle cx="455.8" cy="207.1" r="1.75"/><circle cx="456.7" cy="205" r="1.75"/><circle cx="457.3" cy="205" r="1.75"/><circle cx="456.3" cy="204.1" r="1.75"/><circle cx="456.4" cy="201.1" r="1.75"/><circle cx="457.1" cy="201.5" r="1.75"/><circle cx="457.4" cy="199.7" r="1.75"/><circle cx="457.3" cy="198" r="1.75"/><circle cx="457" cy="197" r="1.75"/><circle cx="457.6" cy="196.9" r="1.75"/><circle cx="456.8" cy="194.3" r="1.75"/><circle cx="458.6" cy="194" r="1.75"/><circle cx="457" cy="192.3" r="1.75"/><circle cx="458.3" cy="192.1" r="1.75"/><circle cx="457.2" cy="190.9" r="1.75"/><circle cx="458.7" cy="188.4" r="1.75"/><circle cx="458.3" cy="188.3" r="1.75"/><circle cx="457.8" cy="186.9" r="1.75"/><circle cx="458.5" cy="184.4" r="1.75"/><circle cx="458" cy="183.9" r="1.75"/><circle cx="457.8" cy="183.8" r="1.75"/><circle cx="458.1" cy="181.1" r="1.75"/><circle cx="458.9" cy="180.5" r="1.75"/><circle cx="458.4" cy="178.9" r="1.75"/><circle cx="458.9" cy="178.9" r="1.75"/><circle cx="458.1" cy="177.7" r="1.75"/><circle cx="459.9" cy="176.1" r="1.75"/><circle cx="459.7" cy="174.2" r="1.75"/><circle cx="460" cy="173.8" r="1.75"/><circle cx="459.6" cy="172" r="1.75"/><circle cx="458.7" cy="171.3" r="1.75"/><circle cx="459.8" cy="168.7" r="1.75"/><circle cx="459" cy="168.6" r="1.75"/><circle cx="458.9" cy="166.6" r="1.75"/><circle cx="458.9" cy="165.1" r="1.75"/><circle cx="458.8" cy="164.7" r="1.75"/><circle cx="459.6" cy="164" r="1.75"/><circle cx="459.3" cy="161.8" r="1.75"/><circle cx="460.6" cy="161.6" r="1.75"/><circle cx="460.1" cy="160.5" r="1.75"/><circle cx="459.5" cy="159.1" r="1.75"/><circle cx="459.5" cy="158" r="1.75"/><circle cx="460.6" cy="155.5" r="1.75"/><circle cx="460.6" cy="154.5" r="1.75"/><circle cx="459.1" cy="153.3" r="1.75"/><circle cx="460.2" cy="153.6" r="1.75"/><circle cx="461" cy="151" r="1.75"/><circle cx="460" cy="151.4" r="1.75"/><circle cx="461" cy="150" r="1.75"/><circle cx="459.7" cy="147.7" r="1.75"/><circle cx="459.6" cy="146.4" r="1.75"/><circle cx="460.1" cy="146.3" r="1.75"/><circle cx="460.7" cy="143.9" r="1.75"/><circle cx="459.7" cy="143.2" r="1.75"/><circle cx="461.2" cy="142.1" r="1.75"/><circle cx="461" cy="141.3" r="1.75"/><circle cx="461.2" cy="139.7" r="1.75"/><circle cx="460.3" cy="138.4" r="1.75"/><circle cx="461.1" cy="136.9" r="1.75"/><circle cx="460" cy="136.8" r="1.75"/><circle cx="460.6" cy="135.2" r="1.75"/><circle cx="460" cy="132.8" r="1.75"/><circle cx="460.2" cy="132.4" r="1.75"/><circle cx="459.8" cy="130.9" r="1.75"/><circle cx="461.7" cy="130" r="1.75"/><circle cx="459.9" cy="129.5" r="1.75"/><circle cx="460.5" cy="127.1" r="1.75"/><circle cx="461.2" cy="126.9" r="1.75"/><circle cx="460.7" cy="125.7" r="1.75"/><circle cx="461.9" cy="123.8" r="1.75"/><circle cx="461.2" cy="121.9" r="1.75"/><circle cx="461.5" cy="121.3" r="1.75"/><circle cx="461.7" cy="121.1" r="1.75"/><circle cx="461.2" cy="119.7" r="1.75"/><circle cx="462.5" cy="117.5" r="1.75"/><circle cx="462.3" cy="116.9" r="1.75"/><circle cx="462.6" cy="114.9" r="1.75"/><circle cx="461.6" cy="113.9" r="1.75"/><circle cx="461.5" cy="114.1" r="1.75"/><circle cx="462.1" cy="111.9" r="1.75"/><circle cx="463.1" cy="110.1" r="1.75"/><circle cx="461.3" cy="110.3" r="1.75"/><circle cx="462.5" cy="109.2" r="1.75"/><circle cx="462.4" cy="108.3" r="1.75"/><circle cx="462.2" cy="105.6" r="1.75"/><circle cx="463.5" cy="105.1" r="1.75"/><circle cx="461.9" cy="102.8" r="1.75"/><circle cx="462" cy="103.1" r="1.75"/><circle cx="463.4" cy="100.6" r="1.75"/><circle cx="463.9" cy="100.8" r="1.75"/><circle cx="463.7" cy="99.2" r="1.75"/><circle cx="463.4" cy="98.2" r="1.75"/><circle cx="463.5" cy="97.5" r="1.75"/><circle cx="464.1" cy="95.8" r="1.75"/><circle cx="465" cy="95.3" r="1.75"/><circle cx="464.9" cy="92.9" r="1.75"/><circle cx="465.2" cy="95.6" r="1.75"/><circle cx="464.9" cy="95.5" r="1.75"/><circle cx="465.2" cy="96.6" r="1.75"/><circle cx="466.5" cy="98.4" r="1.75"/><circle cx="465.3" cy="99.5" r="1.75"/><circle cx="466.7" cy="99.7" r="1.75"/><circle cx="465.9" cy="100.9" r="1.75"/><circle cx="467.1" cy="102.9" r="1.75"/><circle cx="465.9" cy="103.7" r="1.75"/><circle cx="466.4" cy="105.6" r="1.75"/><circle cx="467" cy="106.5" r="1.75"/><circle cx="467" cy="106.9" r="1.75"/><circle cx="467.1" cy="109.3" r="1.75"/><circle cx="467.7" cy="110.4" r="1.75"/><circle cx="467.1" cy="110.5" r="1.75"/><circle cx="468.4" cy="113" r="1.75"/><circle cx="468.4" cy="114.7" r="1.75"/><circle cx="467.8" cy="115.4" r="1.75"/><circle cx="467.9" cy="116.3" r="1.75"/><circle cx="469.3" cy="117.3" r="1.75"/><circle cx="468.8" cy="119.5" r="1.75"/><circle cx="468.7" cy="119.2" r="1.75"/><circle cx="469.8" cy="121.3" r="1.75"/><circle cx="468.7" cy="121.7" r="1.75"/><circle cx="468.2" cy="122.5" r="1.75"/><circle cx="470.3" cy="124.6" r="1.75"/><circle cx="470" cy="125.2" r="1.75"/><circle cx="470.2" cy="127.3" r="1.75"/><circle cx="470.4" cy="128" r="1.75"/><circle cx="470.6" cy="129.4" r="1.75"/><circle cx="469.1" cy="131.3" r="1.75"/><circle cx="469.5" cy="132.5" r="1.75"/><circle cx="470.1" cy="132.7" r="1.75"/><circle cx="470.1" cy="133.8" r="1.75"/><circle cx="469.3" cy="134.3" r="1.75"/><circle cx="469.4" cy="137.3" r="1.75"/><circle cx="470" cy="136.7" r="1.75"/><circle cx="470.2" cy="139.1" r="1.75"/><circle cx="470.7" cy="140.9" r="1.75"/><circle cx="470.3" cy="142.1" r="1.75"/><circle cx="469.7" cy="141.8" r="1.75"/><circle cx="470.7" cy="143.9" r="1.75"/><circle cx="470.6" cy="145.4" r="1.75"/><circle cx="470.9" cy="145" r="1.75"/><circle cx="470.7" cy="147.5" r="1.75"/><circle cx="470.5" cy="147.8" r="1.75"/><circle cx="471.4" cy="149.5" r="1.75"/><circle cx="472.1" cy="151.7" r="1.75"/><circle cx="470.9" cy="151.1" r="1.75"/><circle cx="470.7" cy="153.1" r="1.75"/><circle cx="471.3" cy="154.3" r="1.75"/><circle cx="470.7" cy="155.2" r="1.75"/><circle cx="471.4" cy="157.3" r="1.75"/><circle cx="470.9" cy="158.3" r="1.75"/><circle cx="471.5" cy="159.7" r="1.75"/><circle cx="472.2" cy="159.8" r="1.75"/><circle cx="472.4" cy="161.3" r="1.75"/><circle cx="472.7" cy="161.8" r="1.75"/><circle cx="471.8" cy="164" r="1.75"/><circle cx="471.9" cy="165" r="1.75"/><circle cx="472.5" cy="165.9" r="1.75"/><circle cx="473.2" cy="167.1" r="1.75"/><circle cx="473" cy="169.7" r="1.75"/><circle cx="471.9" cy="170.7" r="1.75"/><circle cx="472.1" cy="171.1" r="1.75"/><circle cx="472.1" cy="173.2" r="1.75"/><circle cx="472.6" cy="173.6" r="1.75"/><circle cx="474.1" cy="174" r="1.75"/><circle cx="472.4" cy="176.3" r="1.75"/><circle cx="472.4" cy="176.4" r="1.75"/><circle cx="473" cy="177.3" r="1.75"/><circle cx="473.3" cy="178.6" r="1.75"/><circle cx="474.5" cy="180.7" r="1.75"/><circle cx="472.9" cy="182.4" r="1.75"/><circle cx="473.4" cy="183.9" r="1.75"/><circle cx="473.1" cy="183.5" r="1.75"/><circle cx="473.9" cy="186.1" r="1.75"/><circle cx="475.2" cy="187.6" r="1.75"/><circle cx="473.8" cy="187.6" r="1.75"/><circle cx="475.3" cy="189.7" r="1.75"/><circle cx="475.6" cy="189.4" r="1.75"/><circle cx="473.9" cy="191.3" r="1.75"/><circle cx="475.7" cy="193" r="1.75"/><circle cx="475" cy="194.2" r="1.75"/><circle cx="475.2" cy="195.7" r="1.75"/><circle cx="475" cy="196.7" r="1.75"/><circle cx="474.9" cy="197.6" r="1.75"/><circle cx="475.4" cy="198.3" r="1.75"/><circle cx="475.4" cy="198.8" r="1.75"/><circle cx="475.3" cy="201.3" r="1.75"/><circle cx="476.6" cy="202.5" r="1.75"/><circle cx="476.3" cy="203.5" r="1.75"/><circle cx="477.2" cy="205.5" r="1.75"/><circle cx="476.6" cy="206.2" r="1.75"/><circle cx="477.6" cy="207.6" r="1.75"/><circle cx="477.6" cy="207.5" r="1.75"/><circle cx="478.1" cy="209.4" r="1.75"/><circle cx="478.2" cy="210.9" r="1.75"/><circle cx="477.4" cy="210.8" r="1.75"/><circle cx="478.8" cy="213.1" r="1.75"/><circle cx="477.5" cy="213" r="1.75"/><circle cx="478.6" cy="215.4" r="1.75"/><circle cx="478.3" cy="216.7" r="1.75"/><circle cx="479.1" cy="217.7" r="1.75"/><circle cx="479.3" cy="218" r="1.75"/><circle cx="479.5" cy="220" r="1.75"/><circle cx="481" cy="219.9" r="1.75"/><circle cx="480.6" cy="222.4" r="1.75"/><circle cx="481.7" cy="223.6" r="1.75"/><circle cx="483.9" cy="224.2" r="1.75"/><circle cx="483.2" cy="223.5" r="1.75"/><circle cx="485.6" cy="224.7" r="1.75"/><circle cx="485.1" cy="224.6" r="1.75"/><circle cx="486.8" cy="225.3" r="1.75"/><circle cx="487.4" cy="226.6" r="1.75"/><circle cx="488.6" cy="226.1" r="1.75"/><circle cx="491.1" cy="227.3" r="1.75"/><circle cx="492.4" cy="226.5" r="1.75"/><circle cx="492.4" cy="227.4" r="1.75"/><circle cx="494.8" cy="227.7" r="1.75"/><circle cx="495.9" cy="227.1" r="1.75"/><circle cx="497.1" cy="228.2" r="1.75"/><circle cx="498.1" cy="226.7" r="1.75"/><circle cx="499.7" cy="226.5" r="1.75"/><circle cx="499.2" cy="227.1" r="1.75"/><circle cx="501.2" cy="228.5" r="1.75"/><circle cx="503.1" cy="227.5" r="1.75"/><circle cx="504" cy="227.5" r="1.75"/><circle cx="505.8" cy="227.9" r="1.75"/><circle cx="505.9" cy="228.6" r="1.75"/><circle cx="508" cy="227.6" r="1.75"/><circle cx="509.5" cy="226.9" r="1.75"/><circle cx="510.6" cy="227.7" r="1.75"/><circle cx="511" cy="228.6" r="1.75"/><circle cx="512.1" cy="227.8" r="1.75"/><circle cx="512.9" cy="228.3" r="1.75"/><circle cx="515.1" cy="228.3" r="1.75"/><circle cx="515.1" cy="228.7" r="1.75"/><circle cx="517" cy="227.2" r="1.75"/><circle cx="517.6" cy="227.3" r="1.75"/><circle cx="518.7" cy="228.1" r="1.75"/><circle cx="521.1" cy="228.5" r="1.75"/><circle cx="522.8" cy="229.1" r="1.75"/><circle cx="523.3" cy="228.9" r="1.75"/><circle cx="525" cy="228.2" r="1.75"/><circle cx="526.1" cy="228.3" r="1.75"/><circle cx="527.1" cy="228.8" r="1.75"/><circle cx="528.6" cy="228.3" r="1.75"/><circle cx="528.2" cy="227.4" r="1.75"/><circle cx="530.6" cy="228.5" r="1.75"/><circle cx="532.1" cy="227.7" r="1.75"/><circle cx="533.2" cy="229.3" r="1.75"/><circle cx="533.8" cy="227.5" r="1.75"/><circle cx="535.4" cy="227.5" r="1.75"/><circle cx="536.8" cy="229" r="1.75"/><circle cx="537.2" cy="229.2" r="1.75"/><circle cx="538.4" cy="229.1" r="1.75"/><circle cx="539.4" cy="228.9" r="1.75"/></g>
<path d="M402,222C404.1,221.2 411.4,218.6 414.6,217C417.9,215.4 419.4,214.7 421.5,212.4C423.6,210.1 425.8,206.6 427.2,203.2C428.6,199.8 429.2,197.1 430.2,191.7C431.2,186.3 432.2,178.3 433,171C433.8,163.7 434.4,155.3 435,148C435.6,140.7 436.1,132.7 436.5,127C436.9,121.3 437.2,119.3 437.6,113.6C438,107.9 438.5,99.7 439,92.7C439.5,85.7 440,78.8 440.5,71.8C441,64.8 441.4,56 442,50.9C442.6,45.8 443.3,41 444,41C444.7,41 445.3,45.8 446.1,50.9C446.9,56 448.1,64.8 448.9,71.8C449.7,78.8 450.3,85.7 450.9,92.7C451.5,99.7 451.9,107.9 452.4,113.6C452.9,119.3 453.3,121.3 453.8,127C454.3,132.7 454.8,140.7 455.5,148C456.2,155.3 457.3,164.1 458.3,171C459.3,177.9 460.2,183.7 461.7,189.4C463.2,195.2 465,201.1 467.5,205.5C470,209.9 473.6,213.5 476.7,215.8C479.8,218.1 482,218.6 485.9,219.3C489.8,220 495,219.9 500,220C505,220.1 509.7,219.8 516,220C522.3,220.2 534,221.2 537.6,221.5" fill="none" stroke="#44205e" stroke-width="3.4" stroke-linejoin="round"/>
<g fill="#7e3fa0" stroke="#1e1e1e" stroke-width="0.75"><circle cx="401.5" cy="222" r="1.75"/><circle cx="402.3" cy="221.2" r="1.75"/><circle cx="403.4" cy="220.2" r="1.75"/><circle cx="404.9" cy="220" r="1.75"/><circle cx="406.1" cy="220.8" r="1.75"/><circle cx="406.7" cy="220.1" r="1.75"/><circle cx="408" cy="220" r="1.75"/><circle cx="410.3" cy="218.4" r="1.75"/><circle cx="411.7" cy="219" r="1.75"/><circle cx="411.2" cy="217.9" r="1.75"/><circle cx="413.6" cy="218.5" r="1.75"/><circle cx="413.6" cy="216.7" r="1.75"/><circle cx="415.9" cy="217.6" r="1.75"/><circle cx="415.6" cy="215.3" r="1.75"/><circle cx="418" cy="215.2" r="1.75"/><circle cx="418.3" cy="215.7" r="1.75"/><circle cx="420" cy="214.6" r="1.75"/><circle cx="421.2" cy="213.9" r="1.75"/><circle cx="421.9" cy="212.9" r="1.75"/><circle cx="422.3" cy="210.9" r="1.75"/><circle cx="423.6" cy="211.6" r="1.75"/><circle cx="423.2" cy="210.1" r="1.75"/><circle cx="423.2" cy="208.8" r="1.75"/><circle cx="425.1" cy="207.4" r="1.75"/><circle cx="425.3" cy="207.5" r="1.75"/><circle cx="425.3" cy="205.6" r="1.75"/><circle cx="425.7" cy="204.4" r="1.75"/><circle cx="427.8" cy="203.8" r="1.75"/><circle cx="426.6" cy="203.2" r="1.75"/><circle cx="428.2" cy="201.4" r="1.75"/><circle cx="427.9" cy="199.8" r="1.75"/><circle cx="428" cy="199.3" r="1.75"/><circle cx="428.1" cy="198.8" r="1.75"/><circle cx="428.4" cy="197" r="1.75"/><circle cx="429.6" cy="195.3" r="1.75"/><circle cx="429.3" cy="194.2" r="1.75"/><circle cx="429.6" cy="194.1" r="1.75"/><circle cx="430.4" cy="192" r="1.75"/><circle cx="430.7" cy="190.8" r="1.75"/><circle cx="429.9" cy="188.7" r="1.75"/><circle cx="431.7" cy="189.1" r="1.75"/><circle cx="430.1" cy="187.5" r="1.75"/><circle cx="431.7" cy="186.9" r="1.75"/><circle cx="430.4" cy="184.2" r="1.75"/><circle cx="431.2" cy="183.9" r="1.75"/><circle cx="430.8" cy="182.9" r="1.75"/><circle cx="432.3" cy="181.2" r="1.75"/><circle cx="432.6" cy="179.9" r="1.75"/><circle cx="432.7" cy="178.7" r="1.75"/><circle cx="432" cy="177.5" r="1.75"/><circle cx="432.8" cy="177.3" r="1.75"/><circle cx="431.6" cy="175.5" r="1.75"/><circle cx="433.3" cy="174.6" r="1.75"/><circle cx="432.2" cy="172.7" r="1.75"/><circle cx="433.7" cy="171.2" r="1.75"/><circle cx="434" cy="170.4" r="1.75"/><circle cx="433.2" cy="169.8" r="1.75"/><circle cx="433.7" cy="168.4" r="1.75"/><circle cx="434.1" cy="167.3" r="1.75"/><circle cx="434.4" cy="166.1" r="1.75"/><circle cx="433.8" cy="163.7" r="1.75"/><circle cx="434.6" cy="162.9" r="1.75"/><circle cx="433.3" cy="161.3" r="1.75"/><circle cx="434.2" cy="160.8" r="1.75"/><circle cx="434.4" cy="160.5" r="1.75"/><circle cx="435" cy="159.3" r="1.75"/><circle cx="434.9" cy="157.2" r="1.75"/><circle cx="433.5" cy="156.8" r="1.75"/><circle cx="435.4" cy="155" r="1.75"/><circle cx="435.3" cy="154" r="1.75"/><circle cx="434.4" cy="153.3" r="1.75"/><circle cx="433.9" cy="151.2" r="1.75"/><circle cx="435.2" cy="149.4" r="1.75"/><circle cx="435" cy="148.9" r="1.75"/><circle cx="434.4" cy="147.7" r="1.75"/><circle cx="435.6" cy="147" r="1.75"/><circle cx="435.4" cy="146" r="1.75"/><circle cx="435.1" cy="144.5" r="1.75"/><circle cx="434.6" cy="143.4" r="1.75"/><circle cx="435.8" cy="142.2" r="1.75"/><circle cx="436.1" cy="141.7" r="1.75"/><circle cx="436.1" cy="140.5" r="1.75"/><circle cx="436" cy="137.9" r="1.75"/><circle cx="436.5" cy="137.4" r="1.75"/><circle cx="436.1" cy="135.2" r="1.75"/><circle cx="436.1" cy="134.4" r="1.75"/><circle cx="436.2" cy="134.4" r="1.75"/><circle cx="435.9" cy="131.4" r="1.75"/><circle cx="435.4" cy="131.2" r="1.75"/><circle cx="437" cy="129" r="1.75"/><circle cx="436.2" cy="128.4" r="1.75"/><circle cx="436.3" cy="127.8" r="1.75"/><circle cx="436.6" cy="125.9" r="1.75"/><circle cx="437.4" cy="125.8" r="1.75"/><circle cx="437.5" cy="123.2" r="1.75"/><circle cx="436.9" cy="122.2" r="1.75"/><circle cx="436.1" cy="122.4" r="1.75"/><circle cx="437.4" cy="120.3" r="1.75"/><circle cx="437.7" cy="119.9" r="1.75"/><circle cx="437.2" cy="117.2" r="1.75"/><circle cx="438.2" cy="116.8" r="1.75"/><circle cx="437.3" cy="115" r="1.75"/><circle cx="437.6" cy="115.1" r="1.75"/><circle cx="438.5" cy="112.5" r="1.75"/><circle cx="437" cy="113" r="1.75"/><circle cx="437.8" cy="111.1" r="1.75"/><circle cx="438.3" cy="109.4" r="1.75"/><circle cx="437.7" cy="109.1" r="1.75"/><circle cx="438.3" cy="106.2" r="1.75"/><circle cx="437.2" cy="106.7" r="1.75"/><circle cx="438.4" cy="105.3" r="1.75"/><circle cx="438.3" cy="104" r="1.75"/><circle cx="438" cy="102.1" r="1.75"/><circle cx="438.1" cy="100.8" r="1.75"/><circle cx="439.4" cy="100.8" r="1.75"/><circle cx="438.7" cy="97.9" r="1.75"/><circle cx="439.5" cy="98.2" r="1.75"/><circle cx="439" cy="97.3" r="1.75"/><circle cx="439.3" cy="95.4" r="1.75"/><circle cx="438.6" cy="94.3" r="1.75"/><circle cx="438.8" cy="92.2" r="1.75"/><circle cx="438.4" cy="90.8" r="1.75"/><circle cx="439.5" cy="90.2" r="1.75"/><circle cx="440.2" cy="90.1" r="1.75"/><circle cx="438.9" cy="87.2" r="1.75"/><circle cx="440.1" cy="87.5" r="1.75"/><circle cx="439.2" cy="86.2" r="1.75"/><circle cx="440.5" cy="84.3" r="1.75"/><circle cx="439.6" cy="83.5" r="1.75"/><circle cx="440.4" cy="82.5" r="1.75"/><circle cx="440.8" cy="80.1" r="1.75"/><circle cx="439.1" cy="78.9" r="1.75"/><circle cx="440.9" cy="78.1" r="1.75"/><circle cx="439.3" cy="76.6" r="1.75"/><circle cx="439.2" cy="76.1" r="1.75"/><circle cx="440.5" cy="74.4" r="1.75"/><circle cx="439.4" cy="72.8" r="1.75"/><circle cx="440.8" cy="71.5" r="1.75"/><circle cx="440" cy="71.2" r="1.75"/><circle cx="440.4" cy="70.9" r="1.75"/><circle cx="441.6" cy="68.9" r="1.75"/><circle cx="441" cy="67.4" r="1.75"/><circle cx="441.1" cy="65.6" r="1.75"/><circle cx="440.3" cy="65.9" r="1.75"/><circle cx="440.9" cy="64.1" r="1.75"/><circle cx="441.7" cy="63.2" r="1.75"/><circle cx="440.5" cy="61.6" r="1.75"/><circle cx="441.9" cy="60.2" r="1.75"/><circle cx="442.2" cy="58.7" r="1.75"/><circle cx="441.2" cy="57.5" r="1.75"/><circle cx="441" cy="56.4" r="1.75"/><circle cx="441.9" cy="56.2" r="1.75"/><circle cx="442.4" cy="53.8" r="1.75"/><circle cx="442.8" cy="53.7" r="1.75"/><circle cx="441.4" cy="52.5" r="1.75"/><circle cx="442.2" cy="50.6" r="1.75"/><circle cx="441.7" cy="48.9" r="1.75"/><circle cx="441.7" cy="49.3" r="1.75"/><circle cx="442.2" cy="47.7" r="1.75"/><circle cx="442.5" cy="45.6" r="1.75"/><circle cx="442.7" cy="44.4" r="1.75"/><circle cx="442.9" cy="43.2" r="1.75"/><circle cx="442.5" cy="43.2" r="1.75"/><circle cx="443.2" cy="41.9" r="1.75"/><circle cx="445.2" cy="42.2" r="1.75"/><circle cx="445.4" cy="42.5" r="1.75"/><circle cx="445" cy="42.8" r="1.75"/><circle cx="445.5" cy="44.9" r="1.75"/><circle cx="445" cy="46.8" r="1.75"/><circle cx="446" cy="47.8" r="1.75"/><circle cx="445.4" cy="48.5" r="1.75"/><circle cx="446.5" cy="50.5" r="1.75"/><circle cx="446.1" cy="51.3" r="1.75"/><circle cx="446.4" cy="51.5" r="1.75"/><circle cx="447.2" cy="53.3" r="1.75"/><circle cx="446" cy="54.5" r="1.75"/><circle cx="447.5" cy="54.9" r="1.75"/><circle cx="446.3" cy="57" r="1.75"/><circle cx="446.4" cy="58.5" r="1.75"/><circle cx="447.5" cy="59.1" r="1.75"/><circle cx="447.4" cy="61.3" r="1.75"/><circle cx="447.2" cy="61.6" r="1.75"/><circle cx="447.6" cy="63.6" r="1.75"/><circle cx="447.7" cy="62.9" r="1.75"/><circle cx="448" cy="65.2" r="1.75"/><circle cx="448.7" cy="66.5" r="1.75"/><circle cx="449.2" cy="67" r="1.75"/><circle cx="448.8" cy="69.3" r="1.75"/><circle cx="449.4" cy="70.5" r="1.75"/><circle cx="449.1" cy="70.9" r="1.75"/><circle cx="449.8" cy="72.7" r="1.75"/><circle cx="448.9" cy="74.3" r="1.75"/><circle cx="450" cy="75.6" r="1.75"/><circle cx="450.2" cy="76.7" r="1.75"/><circle cx="449.3" cy="76.8" r="1.75"/><circle cx="450.5" cy="77.3" r="1.75"/><circle cx="450.6" cy="80" r="1.75"/><circle cx="449.2" cy="80.8" r="1.75"/><circle cx="449.7" cy="82.3" r="1.75"/><circle cx="450.9" cy="83.5" r="1.75"/><circle cx="450.8" cy="83.7" r="1.75"/><circle cx="450.3" cy="85.3" r="1.75"/><circle cx="451.3" cy="86" r="1.75"/><circle cx="450.9" cy="88.1" r="1.75"/><circle cx="450.3" cy="89.8" r="1.75"/><circle cx="451.5" cy="89.7" r="1.75"/><circle cx="450.4" cy="91.6" r="1.75"/><circle cx="450.1" cy="92.1" r="1.75"/><circle cx="450.2" cy="94.2" r="1.75"/><circle cx="451.1" cy="94.1" r="1.75"/><circle cx="451.8" cy="96.2" r="1.75"/><circle cx="451.6" cy="96.8" r="1.75"/><circle cx="451.7" cy="98.2" r="1.75"/><circle cx="452.4" cy="98.9" r="1.75"/><circle cx="450.6" cy="100.7" r="1.75"/><circle cx="450.9" cy="101.4" r="1.75"/><circle cx="452.2" cy="103.4" r="1.75"/><circle cx="452.1" cy="103.9" r="1.75"/><circle cx="452.1" cy="106.2" r="1.75"/><circle cx="451.1" cy="106.3" r="1.75"/><circle cx="451.9" cy="107.8" r="1.75"/><circle cx="452.8" cy="109.4" r="1.75"/><circle cx="452.1" cy="110.3" r="1.75"/><circle cx="451.6" cy="111.1" r="1.75"/><circle cx="451.9" cy="111.9" r="1.75"/><circle cx="451.8" cy="114.3" r="1.75"/><circle cx="452.6" cy="115.3" r="1.75"/><circle cx="452.8" cy="116.6" r="1.75"/><circle cx="453.8" cy="117.7" r="1.75"/><circle cx="453.5" cy="118.5" r="1.75"/><circle cx="453.7" cy="120.1" r="1.75"/><circle cx="453.9" cy="122.2" r="1.75"/><circle cx="452.7" cy="123.2" r="1.75"/><circle cx="453.7" cy="124.4" r="1.75"/><circle cx="452.7" cy="125.5" r="1.75"/><circle cx="454.2" cy="126.7" r="1.75"/><circle cx="453.4" cy="126.9" r="1.75"/><circle cx="454.2" cy="128.1" r="1.75"/><circle cx="454.1" cy="130.3" r="1.75"/><circle cx="453.9" cy="131.8" r="1.75"/><circle cx="455" cy="132.5" r="1.75"/><circle cx="455" cy="132.2" r="1.75"/><circle cx="454.6" cy="135.2" r="1.75"/><circle cx="454.1" cy="135.8" r="1.75"/><circle cx="453.7" cy="137.3" r="1.75"/><circle cx="454.1" cy="138.9" r="1.75"/><circle cx="455" cy="138.3" r="1.75"/><circle cx="454.9" cy="139.6" r="1.75"/><circle cx="454.6" cy="141.9" r="1.75"/><circle cx="454.2" cy="143.4" r="1.75"/><circle cx="455.5" cy="144.3" r="1.75"/><circle cx="454.9" cy="144.4" r="1.75"/><circle cx="455.4" cy="146.7" r="1.75"/><circle cx="456.3" cy="147.9" r="1.75"/><circle cx="456.1" cy="148.7" r="1.75"/><circle cx="455.2" cy="150" r="1.75"/><circle cx="456.7" cy="151.2" r="1.75"/><circle cx="455.1" cy="152.6" r="1.75"/><circle cx="456.8" cy="153.5" r="1.75"/><circle cx="456.6" cy="154" r="1.75"/><circle cx="456.7" cy="156" r="1.75"/><circle cx="457.1" cy="157.1" r="1.75"/><circle cx="456.5" cy="158.2" r="1.75"/><circle cx="457.5" cy="160.5" r="1.75"/><circle cx="457" cy="160.2" r="1.75"/><circle cx="457.5" cy="161.4" r="1.75"/><circle cx="458" cy="162.2" r="1.75"/><circle cx="457.2" cy="165.1" r="1.75"/><circle cx="456.6" cy="166.1" r="1.75"/><circle cx="457.9" cy="167" r="1.75"/><circle cx="457" cy="168.3" r="1.75"/><circle cx="458.9" cy="168" r="1.75"/><circle cx="457.6" cy="170.8" r="1.75"/><circle cx="458.9" cy="171.5" r="1.75"/><circle cx="459.4" cy="172.7" r="1.75"/><circle cx="458.2" cy="174.3" r="1.75"/><circle cx="458.5" cy="174.4" r="1.75"/><circle cx="458.6" cy="175.4" r="1.75"/><circle cx="458.7" cy="177.9" r="1.75"/><circle cx="459.3" cy="177.5" r="1.75"/><circle cx="460.5" cy="179" r="1.75"/><circle cx="459.4" cy="180.9" r="1.75"/><circle cx="459.8" cy="182.9" r="1.75"/><circle cx="460.9" cy="184" r="1.75"/><circle cx="460.5" cy="183.5" r="1.75"/><circle cx="460.3" cy="184.9" r="1.75"/><circle cx="460.1" cy="186.6" r="1.75"/><circle cx="460.8" cy="187.3" r="1.75"/><circle cx="460.7" cy="188.5" r="1.75"/><circle cx="462.9" cy="189.9" r="1.75"/><circle cx="462.6" cy="191.2" r="1.75"/><circle cx="462.2" cy="192.4" r="1.75"/><circle cx="462.8" cy="193.5" r="1.75"/><circle cx="464.1" cy="194" r="1.75"/><circle cx="464.3" cy="196.4" r="1.75"/><circle cx="464.6" cy="197.7" r="1.75"/><circle cx="465.1" cy="197.4" r="1.75"/><circle cx="464.4" cy="199.6" r="1.75"/><circle cx="465.9" cy="199.5" r="1.75"/><circle cx="465.3" cy="201" r="1.75"/><circle cx="465.6" cy="203.3" r="1.75"/><circle cx="466.8" cy="204.8" r="1.75"/><circle cx="467.3" cy="204" r="1.75"/><circle cx="467.3" cy="205.6" r="1.75"/><circle cx="467.6" cy="207.5" r="1.75"/><circle cx="470" cy="208.7" r="1.75"/><circle cx="468.8" cy="209.5" r="1.75"/><circle cx="471.4" cy="209.3" r="1.75"/><circle cx="470.8" cy="210.2" r="1.75"/><circle cx="471.9" cy="212.4" r="1.75"/><circle cx="473.6" cy="211.8" r="1.75"/><circle cx="473" cy="213.9" r="1.75"/><circle cx="475.4" cy="214.7" r="1.75"/><circle cx="475.2" cy="215" r="1.75"/><circle cx="477.2" cy="216.6" r="1.75"/><circle cx="477.3" cy="216.6" r="1.75"/><circle cx="479.1" cy="217.9" r="1.75"/><circle cx="478.8" cy="216.8" r="1.75"/><circle cx="480.4" cy="217.4" r="1.75"/><circle cx="482.7" cy="217.8" r="1.75"/><circle cx="482.7" cy="218.3" r="1.75"/><circle cx="484.7" cy="219.3" r="1.75"/><circle cx="485.1" cy="218.7" r="1.75"/><circle cx="487.1" cy="218.6" r="1.75"/><circle cx="488.5" cy="218.8" r="1.75"/><circle cx="489.8" cy="218.7" r="1.75"/><circle cx="490.9" cy="219.5" r="1.75"/><circle cx="490.4" cy="220.7" r="1.75"/><circle cx="492.6" cy="219.6" r="1.75"/><circle cx="493" cy="220.5" r="1.75"/><circle cx="494.9" cy="219.2" r="1.75"/><circle cx="495.5" cy="220.2" r="1.75"/><circle cx="497.4" cy="219.9" r="1.75"/><circle cx="499.2" cy="219.9" r="1.75"/><circle cx="498.9" cy="219.9" r="1.75"/><circle cx="501.7" cy="219.1" r="1.75"/><circle cx="501.6" cy="219.9" r="1.75"/><circle cx="502.5" cy="220.4" r="1.75"/><circle cx="504.9" cy="220.2" r="1.75"/><circle cx="505.1" cy="220.9" r="1.75"/><circle cx="507.5" cy="219.4" r="1.75"/><circle cx="508.1" cy="219.8" r="1.75"/><circle cx="508.6" cy="219" r="1.75"/><circle cx="509.7" cy="219.3" r="1.75"/><circle cx="512.6" cy="220.5" r="1.75"/><circle cx="512.1" cy="219" r="1.75"/><circle cx="513.5" cy="220" r="1.75"/><circle cx="514.8" cy="220.9" r="1.75"/><circle cx="517.3" cy="220.5" r="1.75"/><circle cx="517" cy="220" r="1.75"/><circle cx="518.5" cy="219.5" r="1.75"/><circle cx="519.8" cy="220" r="1.75"/><circle cx="520.6" cy="219.9" r="1.75"/><circle cx="522" cy="220.6" r="1.75"/><circle cx="523.8" cy="219.7" r="1.75"/><circle cx="524.4" cy="220.3" r="1.75"/><circle cx="525.1" cy="220.1" r="1.75"/><circle cx="526.6" cy="220.5" r="1.75"/><circle cx="529.4" cy="219.9" r="1.75"/><circle cx="529.1" cy="220.4" r="1.75"/><circle cx="530.4" cy="221.5" r="1.75"/><circle cx="531.9" cy="220.2" r="1.75"/><circle cx="534.1" cy="221" r="1.75"/><circle cx="534.8" cy="221.8" r="1.75"/><circle cx="534.9" cy="222" r="1.75"/><circle cx="537.5" cy="221.4" r="1.75"/></g>
</g>
<g clip-path="url(#cab)" fill="none" stroke-linejoin="round">
<path d="M260,437.3C260.9,437.2 263,438.5 265.4,436.8C267.8,435.1 271,429.8 274.4,427C277.8,424.2 281.5,422.1 285.6,420.2C289.7,418.3 295.4,416.6 299.1,415.7C302.9,414.8 305.1,414.6 308.1,414.8C311.1,415 314.5,415.4 317.1,417C319.7,418.6 321.6,421.9 323.8,424.7C326,427.5 328.9,431.7 330.5,433.7C332.1,435.7 333,436 333.5,436.5" stroke="#8c5a35" stroke-width="2.0"/>
<path d="M236,437.3C236.8,437.2 238.9,438.5 240.8,436.8C242.7,435.1 245.3,430.9 247.5,427C249.7,423.1 251.6,417.2 254.2,413.5C256.8,409.8 260.2,406.8 263.2,404.5C266.2,402.2 269.2,401.1 272.2,400C275.2,398.9 278.2,397.8 281.2,398.2C284.2,398.6 287.9,400 290.1,402.2C292.3,404.4 293.2,407.1 294.6,411.2C296,415.3 297.1,422.7 298.2,427C299.3,431.3 300.2,435.1 301.3,436.8C302.4,438.5 304.4,437.2 305,437.3" stroke="#e1222b" stroke-width="2.0"/>
<path d="M195,437.3C195.9,437.2 198.8,440.8 200.4,436.8C202.1,432.8 203.4,421.9 204.9,413.5C206.4,405.1 207.5,394 209.4,386.5C211.3,379 213.9,373.5 216.1,368.6C218.3,363.8 220.7,360.2 222.8,357.4C225,354.6 226.8,353.3 229,352C231.2,350.7 233.6,349.2 236.3,349.7C239,350.2 242.7,352 245.3,355.1C247.9,358.2 250.1,362.6 252,368.6C253.9,374.6 255.2,382.8 256.5,391C257.8,399.2 258.3,410.4 259.6,418C260.9,425.6 262.7,433.6 264.1,436.8C265.5,440 267.4,437.2 268,437.3" stroke="#ef6a2a" stroke-width="2.0"/>
<path d="M160,437.3C161.1,437.1 164.8,447.4 166.7,436C168.6,424.6 169.3,384.3 171.2,368.6C173.1,352.9 175.4,350.7 178,341.7C180.6,332.7 183.9,322.2 186.9,314.7C189.9,307.2 193.3,300.9 195.9,296.8C198.5,292.7 200.7,291.5 202.6,290C204.5,288.5 205.2,287.4 207.1,287.8C209,288.2 211.9,289.3 213.8,292.3C215.7,295.3 216.8,297.6 218.3,305.8C219.8,314 221.5,326.8 222.8,341.7C224.2,356.6 225.3,380.6 226.4,395.5C227.5,410.4 228.7,424.5 229.6,431.4C230.5,438.3 230.7,435.8 231.8,436.8C232.9,437.8 235.3,437.2 236,437.3" stroke="#f9ae45" stroke-width="2.0"/>
<path d="M134,437.3C134.9,437.1 138,440.6 139.4,436C140.8,431.4 141.4,422.7 142.5,410C143.6,397.3 144.4,379.3 146.1,359.7C147.8,340.1 150.2,310.2 152.8,292.3C155.4,274.4 159.2,261 161.8,252C164.4,243 166.4,241.3 168.5,238.5C170.6,235.7 172.2,234.2 174.4,234.9C176.7,235.7 179.6,237.2 182,243C184.4,248.8 186.5,257.9 188.7,269.9C190.9,281.9 193.5,297.6 195.4,314.8C197.3,332 198.4,355.2 199.9,373.1C201.4,391.1 203.1,412 204.4,422.5C205.7,433 206.3,433.5 207.6,436C208.9,438.5 211.3,437.1 212,437.3" stroke="#1e9e4a" stroke-width="2.0"/>
<path d="M115,437.3C116.1,437.1 119.7,440.6 121.4,436C123.1,431.4 123.9,420.5 125,410C126.1,399.5 126.4,384.4 128.1,373C129.8,361.6 132.3,351.4 134.9,341.7C137.5,332 140.8,322.3 143.8,314.8C146.8,307.3 150.6,300.6 152.8,296.8C155.1,293.1 155.4,291.2 157.3,292.3C159.2,293.4 161.8,298.3 164,303.5C166.2,308.7 168.6,312.1 170.8,323.7C173.1,335.3 175.6,356.6 177.5,373.1C179.4,389.6 180.5,412 182,422.5C183.5,433 184.8,433.5 186.5,436C188.2,438.5 191.1,437.1 192,437.3" stroke="#2c48a3" stroke-width="2.0"/>
<path d="M61,437.3C66.7,437.3 87.9,437.5 95,437.3C102.1,437.1 101.5,439.7 103.5,436C105.5,432.3 105.9,427.7 107,415C108.1,402.3 108.9,380.1 110.2,359.7C111.5,339.2 113.2,309.5 114.7,292.3C116.2,275.1 117.3,264.6 119.2,256.4C121.1,248.2 123.7,246.1 125.9,243C128.1,239.9 130.3,237.2 132.6,237.6C134.8,238 137.2,242.1 139.4,245.2C141.7,248.3 143.9,251.5 146.1,256.4C148.3,261.3 150.9,264.7 152.8,274.4C154.7,284.1 155.8,298.4 157.3,314.8C158.8,331.2 160.3,355.9 161.8,373.1C163.3,390.3 164.8,407.5 166.3,418C167.8,428.5 169.4,432.8 170.8,436C172.2,439.2 174.3,437.1 175,437.3" stroke="#7e3fa0" stroke-width="2.0"/>
</g>
<g clip-path="url(#cbb)" fill="none" stroke-linejoin="round">
<path d="M636,437.5C636.8,437.4 639.5,437.9 640.7,437C641.9,436.1 642.1,434.7 643.2,432.2C644.3,429.7 645.6,424.8 647.1,422C648.6,419.2 650.3,417.1 652.2,415.6C654.1,414.1 656.8,413.2 658.5,413C660.2,412.8 661.2,413.7 662.4,414.3C663.5,414.9 664.9,416.5 665.4,416.9" stroke="#e1222b" stroke-width="2.0"/>
<path d="M581,437.5C581.8,437.4 584.6,438.7 585.9,437C587.2,435.3 587.8,431.7 588.9,427.1C590,422.5 591.1,413.9 592.3,409.2C593.5,404.5 594.6,401.6 596.1,399C597.6,396.4 599.6,395 601.2,393.9C602.8,392.8 604.3,392.2 605.8,392.6C607.3,393 608.8,394.1 610.1,396.5C611.5,398.9 612.8,402.4 613.9,406.7C615,410.9 615.6,417.1 616.5,422C617.4,426.9 618.1,433.5 619,436C619.9,438.5 620.4,436.8 621.6,437C622.8,437.2 625.3,437.4 626,437.5" stroke="#ef6a2a" stroke-width="2.0"/>
<path d="M541,437.5C541.9,437.4 545.1,439.6 546.4,437C547.7,434.4 548,429.6 548.9,422C549.8,414.4 550.4,400.3 551.5,391.4C552.6,382.5 554,373.7 555.3,368.4C556.6,363.1 557.6,361.6 559.1,359.5C560.6,357.4 562.6,355.5 564.2,355.7C565.8,355.9 567.2,357.4 568.5,360.8C569.8,364.2 570.8,368.9 571.9,376.1C573,383.3 574.2,395.2 575.2,404.1C576.2,413 576.9,424.1 577.7,429.6C578.6,435.1 579.1,435.7 580.3,437C581.5,438.3 584.2,437.4 585,437.5" stroke="#f9ae45" stroke-width="2.0"/>
<path d="M483,437.5C483.8,437.4 486.6,440.4 487.9,437C489.2,433.6 489.8,428.6 490.8,416.8C491.9,405 492.9,379.6 494.2,366.3C495.5,353 497,344 498.4,336.8C499.8,329.6 501.2,326.2 502.6,323.4C504,320.6 505.2,319.5 506.8,320C508.4,320.5 510.3,321.4 511.9,326.3C513.4,331.2 514.8,339.3 516.1,349.5C517.4,359.7 518.5,374.8 519.5,387.4C520.5,400 521,417 522,425.3C523,433.6 524.5,435 525.8,437C527.1,439 529.3,437.4 530,437.5" stroke="#1e9e4a" stroke-width="2.0"/>
<path d="M446,437.5C446.9,437.4 449.9,439.8 451.3,437C452.7,434.2 453.4,430 454.2,421C455,412 455.4,394.4 456.3,383.2C457.2,372 458.2,360.7 459.3,353.7C460.4,346.7 461.3,343.8 462.6,341.1C463.9,338.4 465.7,337 467.3,337.7C468.9,338.4 470.8,340.5 472.3,345.3C473.8,350.1 475.3,357.2 476.5,366.3C477.7,375.4 478.5,389.5 479.5,400C480.5,410.5 481.3,423.3 482.4,429.5C483.4,435.7 484.5,435.7 485.8,437C487.1,438.3 489.3,437.4 490,437.5" stroke="#2c48a3" stroke-width="2.0"/>
<path d="M402,437.5C404.8,437.5 415.5,437.6 419,437.5C422.5,437.4 421.7,439 422.8,437C423.9,435 424.9,437.1 425.7,425.3C426.5,413.5 427.1,385.2 427.8,366.3C428.5,347.4 429,326.3 429.9,311.6C430.8,296.9 431.8,286.3 432.9,277.9C434,269.5 435.2,264.5 436.3,261C437.4,257.5 438.4,256.4 439.6,256.8C440.9,257.2 442.4,258.3 443.8,263.2C445.2,268.1 446.9,276.1 448.1,286.3C449.3,296.5 450.2,309.5 451,324.2C451.8,338.9 452.4,358.6 453.1,374.7C453.8,390.8 454.4,410.6 455.2,421C456,431.4 456.9,434.2 458.2,437C459.5,439.8 462.2,437.4 463,437.5" stroke="#7e3fa0" stroke-width="2.0"/>
</g>
<g stroke-width="1.6" stroke-dasharray="5 4.4" fill="none">
<line x1="136.4" y1="36.7" x2="136.4" y2="437.3" stroke="#7e3fa0"/>
<line x1="154.8" y1="36.7" x2="154.8" y2="437.3" stroke="#2c48a3"/>
<line x1="176" y1="36.7" x2="176" y2="437.3" stroke="#1e9e4a"/>
<line x1="201.2" y1="36.7" x2="201.2" y2="437.3" stroke="#f9ae45"/>
<line x1="233.5" y1="36.7" x2="233.5" y2="437.3" stroke="#ef6a2a"/>
<line x1="274.8" y1="36.7" x2="274.8" y2="437.3" stroke="#e1222b"/>
<line x1="300.2" y1="36.7" x2="300.2" y2="437.3" stroke="#8c5a35"/>
<line x1="439.8" y1="29.2" x2="439.8" y2="437.8" stroke="#7e3fa0"/>
<line x1="468.3" y1="29.2" x2="468.3" y2="437.8" stroke="#2c48a3"/>
<line x1="506.6" y1="29.2" x2="506.6" y2="437.8" stroke="#1e9e4a"/>
<line x1="563" y1="29.2" x2="563" y2="437.8" stroke="#f9ae45"/>
<line x1="603.6" y1="29.2" x2="603.6" y2="437.8" stroke="#ef6a2a"/>
<line x1="658.3" y1="29.2" x2="658.3" y2="437.8" stroke="#e1222b"/>
</g>
<g stroke="#231f20" fill="none" stroke-width="1.3">
<rect x="60.5" y="36.0" width="273.0" height="402.3"/>
<line x1="60.5" y1="225.0" x2="333.5" y2="225.0"/>
<line x1="60.5" y1="187.3" x2="63.5" y2="187.3"/>
<line x1="330.5" y1="187.3" x2="333.5" y2="187.3"/>
<line x1="60.5" y1="149.6" x2="63.5" y2="149.6"/>
<line x1="330.5" y1="149.6" x2="333.5" y2="149.6"/>
<line x1="60.5" y1="111.9" x2="63.5" y2="111.9"/>
<line x1="330.5" y1="111.9" x2="333.5" y2="111.9"/>
<line x1="60.5" y1="74.2" x2="63.5" y2="74.2"/>
<line x1="330.5" y1="74.2" x2="333.5" y2="74.2"/>
<line x1="60.5" y1="408" x2="63.5" y2="408"/>
<line x1="330.5" y1="408" x2="333.5" y2="408"/>
<line x1="60.5" y1="377.7" x2="63.5" y2="377.7"/>
<line x1="330.5" y1="377.7" x2="333.5" y2="377.7"/>
<line x1="60.5" y1="347.4" x2="63.5" y2="347.4"/>
<line x1="330.5" y1="347.4" x2="333.5" y2="347.4"/>
<line x1="60.5" y1="317.1" x2="63.5" y2="317.1"/>
<line x1="330.5" y1="317.1" x2="333.5" y2="317.1"/>
<line x1="60.5" y1="286.8" x2="63.5" y2="286.8"/>
<line x1="330.5" y1="286.8" x2="333.5" y2="286.8"/>
<line x1="60.5" y1="256.5" x2="63.5" y2="256.5"/>
<line x1="330.5" y1="256.5" x2="333.5" y2="256.5"/>
<line x1="128.8" y1="438.3" x2="128.8" y2="435.3"/>
<line x1="128.8" y1="225.0" x2="128.8" y2="222.0"/>
<line x1="197" y1="438.3" x2="197" y2="435.3"/>
<line x1="197" y1="225.0" x2="197" y2="222.0"/>
<line x1="265.2" y1="438.3" x2="265.2" y2="435.3"/>
<line x1="265.2" y1="225.0" x2="265.2" y2="222.0"/>
<line x1="94.6" y1="36.0" x2="94.6" y2="38.5" stroke-width="0.9"/>
<line x1="128.8" y1="36.0" x2="128.8" y2="38.5" stroke-width="0.9"/>
<line x1="162.9" y1="36.0" x2="162.9" y2="38.5" stroke-width="0.9"/>
<line x1="197" y1="36.0" x2="197" y2="38.5" stroke-width="0.9"/>
<line x1="231.1" y1="36.0" x2="231.1" y2="38.5" stroke-width="0.9"/>
<line x1="265.2" y1="36.0" x2="265.2" y2="38.5" stroke-width="0.9"/>
<line x1="299.4" y1="36.0" x2="299.4" y2="38.5" stroke-width="0.9"/>
</g>
<g stroke="#231f20" fill="none" stroke-width="1.3">
<rect x="402.0" y="28.5" width="263.5" height="410.3"/>
<line x1="402.0" y1="232.6" x2="665.5" y2="232.6"/>
<line x1="402.0" y1="205.4" x2="405.0" y2="205.4"/>
<line x1="662.5" y1="205.4" x2="665.5" y2="205.4"/>
<line x1="402.0" y1="178.2" x2="405.0" y2="178.2"/>
<line x1="662.5" y1="178.2" x2="665.5" y2="178.2"/>
<line x1="402.0" y1="151" x2="405.0" y2="151"/>
<line x1="662.5" y1="151" x2="665.5" y2="151"/>
<line x1="402.0" y1="123.8" x2="405.0" y2="123.8"/>
<line x1="662.5" y1="123.8" x2="665.5" y2="123.8"/>
<line x1="402.0" y1="96.6" x2="405.0" y2="96.6"/>
<line x1="662.5" y1="96.6" x2="665.5" y2="96.6"/>
<line x1="402.0" y1="69.4" x2="405.0" y2="69.4"/>
<line x1="662.5" y1="69.4" x2="665.5" y2="69.4"/>
<line x1="402.0" y1="42.2" x2="405.0" y2="42.2"/>
<line x1="662.5" y1="42.2" x2="665.5" y2="42.2"/>
<line x1="402.0" y1="409.3" x2="405.0" y2="409.3"/>
<line x1="662.5" y1="409.3" x2="665.5" y2="409.3"/>
<line x1="402.0" y1="379.8" x2="405.0" y2="379.8"/>
<line x1="662.5" y1="379.8" x2="665.5" y2="379.8"/>
<line x1="402.0" y1="350.3" x2="405.0" y2="350.3"/>
<line x1="662.5" y1="350.3" x2="665.5" y2="350.3"/>
<line x1="402.0" y1="320.8" x2="405.0" y2="320.8"/>
<line x1="662.5" y1="320.8" x2="665.5" y2="320.8"/>
<line x1="402.0" y1="291.3" x2="405.0" y2="291.3"/>
<line x1="662.5" y1="291.3" x2="665.5" y2="291.3"/>
<line x1="402.0" y1="261.8" x2="405.0" y2="261.8"/>
<line x1="662.5" y1="261.8" x2="665.5" y2="261.8"/>
<line x1="467.9" y1="438.8" x2="467.9" y2="435.8"/>
<line x1="467.9" y1="232.6" x2="467.9" y2="229.6"/>
<line x1="533.8" y1="438.8" x2="533.8" y2="435.8"/>
<line x1="533.8" y1="232.6" x2="533.8" y2="229.6"/>
<line x1="599.6" y1="438.8" x2="599.6" y2="435.8"/>
<line x1="599.6" y1="232.6" x2="599.6" y2="229.6"/>
<line x1="434.9" y1="28.5" x2="434.9" y2="31.0" stroke-width="0.9"/>
<line x1="467.9" y1="28.5" x2="467.9" y2="31.0" stroke-width="0.9"/>
<line x1="500.8" y1="28.5" x2="500.8" y2="31.0" stroke-width="0.9"/>
<line x1="533.8" y1="28.5" x2="533.8" y2="31.0" stroke-width="0.9"/>
<line x1="566.7" y1="28.5" x2="566.7" y2="31.0" stroke-width="0.9"/>
<line x1="599.6" y1="28.5" x2="599.6" y2="31.0" stroke-width="0.9"/>
<line x1="632.6" y1="28.5" x2="632.6" y2="31.0" stroke-width="0.9"/>
</g>
<g font-family="Liberation Sans, sans-serif">
<rect x="65.3" y="75.6" width="49.3" height="28.9" rx="6.5" fill="#dccbe8" stroke="#3a3a3a" stroke-width="1.1"/>
<text x="88.8" y="88.3" fill="#9a3cb8" font-size="10" text-anchor="middle">7.42 nW</text>
<text x="88.8" y="100.5" fill="#9a3cb8" font-size="10" text-anchor="middle">1685 nA</text>
<rect x="143.4" y="54.5" width="48.6" height="28.7" rx="6.5" fill="#c7cbea" stroke="#3a3a3a" stroke-width="1.1"/>
<text x="166.6" y="67.2" fill="#2c48a3" font-size="10" text-anchor="middle">4.52 nW</text>
<text x="166.6" y="79.4" fill="#2c48a3" font-size="10" text-anchor="middle">1495 nA</text>
<rect x="194.7" y="61.9" width="48.7" height="28.5" rx="6.5" fill="#d0e8d2" stroke="#3a3a3a" stroke-width="1.1"/>
<text x="218" y="74.6" fill="#1e9e4a" font-size="10" text-anchor="middle">6.61 nW</text>
<text x="218" y="86.8" fill="#1e9e4a" font-size="10" text-anchor="middle">1424 nA</text>
<rect x="210.2" y="96.3" width="48.4" height="28.5" rx="6.5" fill="#fdebd2" stroke="#3a3a3a" stroke-width="1.1"/>
<text x="233.3" y="109" fill="#f5a02a" font-size="10" text-anchor="middle">5.11 nW</text>
<text x="233.3" y="121.2" fill="#f5a02a" font-size="10" text-anchor="middle">1236 nA</text>
<rect x="219.5" y="129" width="48.4" height="28.5" rx="6.5" fill="#fcd3ba" stroke="#3a3a3a" stroke-width="1.1"/>
<text x="242.6" y="141.7" fill="#ef6a2a" font-size="10" text-anchor="middle">2.84 nW</text>
<text x="242.6" y="153.9" fill="#ef6a2a" font-size="10" text-anchor="middle">1120 nA</text>
<rect x="278.9" y="116.1" width="49.2" height="29.2" rx="6.5" fill="#fbcabc" stroke="#3a3a3a" stroke-width="1.1"/>
<text x="302.4" y="128.8" fill="#e1222b" font-size="10" text-anchor="middle">1.78 nW</text>
<text x="302.4" y="141" fill="#e1222b" font-size="10" text-anchor="middle">1508 nA</text>
<rect x="281.2" y="161.5" width="48.6" height="28.5" rx="6.5" fill="#e4d7ca" stroke="#3a3a3a" stroke-width="1.1"/>
<text x="304.4" y="174.2" fill="#8c5a35" font-size="10" text-anchor="middle">0.79 nW</text>
<text x="304.4" y="186.4" fill="#8c5a35" font-size="10" text-anchor="middle">1086 nA</text>
<rect x="452.5" y="31.7" width="47.8" height="28.8" rx="6.5" fill="#dccbe8" stroke="#3a3a3a" stroke-width="1.1"/>
<text x="475.3" y="44.4" fill="#9a3cb8" font-size="10" text-anchor="middle">0.96 nW</text>
<text x="475.3" y="56.6" fill="#9a3cb8" font-size="10" text-anchor="middle">1130 nA</text>
<rect x="508.9" y="38.9" width="46.9" height="28.8" rx="6.5" fill="#c7cbea" stroke="#3a3a3a" stroke-width="1.1"/>
<text x="531.2" y="51.6" fill="#2c48a3" font-size="10" text-anchor="middle">0.40 nW</text>
<text x="531.2" y="63.8" fill="#2c48a3" font-size="10" text-anchor="middle">889 nA</text>
<rect x="502" y="73" width="49.6" height="28.8" rx="6.5" fill="#d0e8d2" stroke="#3a3a3a" stroke-width="1.1"/>
<text x="525.7" y="85.7" fill="#1e9e4a" font-size="10" text-anchor="middle">0.25 nW</text>
<text x="525.7" y="97.9" fill="#1e9e4a" font-size="10" text-anchor="middle">477 nA</text>
<rect x="508.4" y="107.8" width="48.8" height="28.8" rx="6.5" fill="#fdebd2" stroke="#3a3a3a" stroke-width="1.1"/>
<text x="531.7" y="120.5" fill="#f5a02a" font-size="10" text-anchor="middle">0.14 nW</text>
<text x="531.7" y="132.7" fill="#f5a02a" font-size="10" text-anchor="middle">347 nA</text>
<rect x="567.6" y="83.5" width="48.9" height="28.8" rx="6.5" fill="#fcd3ba" stroke="#3a3a3a" stroke-width="1.1"/>
<text x="590.9" y="96.2" fill="#ef6a2a" font-size="10" text-anchor="middle">57 pW</text>
<text x="590.9" y="108.4" fill="#ef6a2a" font-size="10" text-anchor="middle">243 nA</text>
<rect x="606.2" y="117.4" width="48.8" height="29.3" rx="6.5" fill="#fbcabc" stroke="#3a3a3a" stroke-width="1.1"/>
<text x="629.5" y="130.1" fill="#e1222b" font-size="10" text-anchor="middle">21 pW</text>
<text x="629.5" y="142.3" fill="#e1222b" font-size="10" text-anchor="middle">161 nA</text>
</g>
<path d="M283.8,145 C274,155 268.5,168 270,189" fill="none" stroke="#e1222b" stroke-width="1.6"/>
<path d="M266.8,185.3 L270,190 L273.2,185.6" fill="none" stroke="#e1222b" stroke-width="1.6"/>
<path d="M509.5,62.2 C494,65 479,82 474,98.5" fill="none" stroke="#2c48a3" stroke-width="1.7"/>
<path d="M472.2,93.3 L473.8,99.3 L479.2,96.9" fill="none" stroke="#2c48a3" stroke-width="1.7"/>
<g font-family="Liberation Sans, sans-serif">
<rect x="261.8" y="233.5" width="65.39999999999998" height="104.69999999999999" fill="#fff" stroke="#231f20" stroke-width="1.2"/>
<line x1="265.2" y1="243" x2="282" y2="243" stroke="#8c5a35" stroke-width="3.6"/>
<text x="285.6" y="247" font-size="11" fill="#231f20">9 keV</text>
<line x1="265.2" y1="257.6" x2="282" y2="257.6" stroke="#e1222b" stroke-width="3.6"/>
<text x="285.6" y="261.6" font-size="11" fill="#231f20">10 keV</text>
<line x1="265.2" y1="272.2" x2="282" y2="272.2" stroke="#ef6a2a" stroke-width="3.6"/>
<text x="285.6" y="276.2" font-size="11" fill="#231f20">12 keV</text>
<line x1="265.2" y1="286.8" x2="282" y2="286.8" stroke="#f9ae45" stroke-width="3.6"/>
<text x="285.6" y="290.8" font-size="11" fill="#231f20">14 keV</text>
<line x1="265.2" y1="301.4" x2="282" y2="301.4" stroke="#1e9e4a" stroke-width="3.6"/>
<text x="285.6" y="305.4" font-size="11" fill="#231f20">16 keV</text>
<line x1="265.2" y1="316" x2="282" y2="316" stroke="#2c48a3" stroke-width="3.6"/>
<text x="285.6" y="320" font-size="11" fill="#231f20">18 keV</text>
<line x1="265.2" y1="330.6" x2="282" y2="330.6" stroke="#7e3fa0" stroke-width="3.6"/>
<text x="285.6" y="334.6" font-size="11" fill="#231f20">20 keV</text>
<rect x="596.4" y="243.8" width="65.30000000000007" height="92.0" fill="#fff" stroke="#231f20" stroke-width="1.2"/>
<line x1="599.3" y1="254.5" x2="615.8" y2="254.5" stroke="#e1222b" stroke-width="3.6"/>
<text x="619.4" y="258.5" font-size="11" fill="#231f20">2 keV</text>
<line x1="599.3" y1="269.4" x2="615.8" y2="269.4" stroke="#ef6a2a" stroke-width="3.6"/>
<text x="619.4" y="273.4" font-size="11" fill="#231f20">2.5 keV</text>
<line x1="599.3" y1="284.2" x2="615.8" y2="284.2" stroke="#f9ae45" stroke-width="3.6"/>
<text x="619.4" y="288.2" font-size="11" fill="#231f20">3 keV</text>
<line x1="599.3" y1="299" x2="615.8" y2="299" stroke="#1e9e4a" stroke-width="3.6"/>
<text x="619.4" y="303" font-size="11" fill="#231f20">4 keV</text>
<line x1="599.3" y1="313.9" x2="615.8" y2="313.9" stroke="#2c48a3" stroke-width="3.6"/>
<text x="619.4" y="317.9" font-size="11" fill="#231f20">5 keV</text>
<line x1="599.3" y1="328.8" x2="615.8" y2="328.8" stroke="#7e3fa0" stroke-width="3.6"/>
<text x="619.4" y="332.8" font-size="11" fill="#231f20">6 keV</text>
</g>
<g>
<rect x="19.2" y="5.7" width="99" height="65.5" fill="#fff"/>
<rect x="19.2" y="43" width="99" height="28.2" fill="url(#si)"/>
<rect x="33" y="33.8" width="6.3" height="9.2" fill="url(#pil)"/>
<rect x="49.8" y="33.8" width="6.3" height="9.2" fill="url(#pil)"/>
<rect x="66.7" y="33.8" width="6.3" height="9.2" fill="url(#pil)"/>
<rect x="83.5" y="33.8" width="6.3" height="9.2" fill="url(#pil)"/>
<rect x="100.3" y="33.8" width="6.3" height="9.2" fill="url(#pil)"/>
<rect x="19.2" y="22.7" width="99" height="4.4" fill="#55bb7c"/>
<g stroke="#2a2a2a" stroke-width="1.1" stroke-dasharray="2.4 1.3"><line x1="53.3" y1="34.2" x2="53.3" y2="56.2"/><line x1="70.1" y1="34.2" x2="70.1" y2="56.2"/></g>
<g stroke="#1a1a1a" stroke-width="1.1" fill="none"><line x1="53.8" y1="52.8" x2="69.6" y2="52.8"/><path d="M56.3,50.8 L53.9,52.8 L56.3,54.8"/><path d="M67.1,50.8 L69.5,52.8 L67.1,54.8"/></g>
<text x="61.7" y="66.2" font-size="11" fill="#1a1a1a" text-anchor="middle" font-family="Liberation Sans, sans-serif">278 nm</text>
<text x="105.5" y="56.3" font-size="11.5" fill="#ffffff" font-family="Liberation Sans, sans-serif">Si</text>
<rect x="19.2" y="5.7" width="99" height="65.5" fill="none" stroke="#333" stroke-width="1.3"/>
</g>
<g>
<rect x="579.4" y="4.6" width="99" height="65.5" fill="#fff"/>
<rect x="579.4" y="41.9" width="99" height="28.2" fill="url(#si)"/>
<rect x="593.2" y="32.7" width="6.3" height="9.2" fill="url(#pil)"/>
<rect x="610" y="32.7" width="6.3" height="9.2" fill="url(#pil)"/>
<rect x="626.9" y="32.7" width="6.3" height="9.2" fill="url(#pil)"/>
<rect x="643.7" y="32.7" width="6.3" height="9.2" fill="url(#pil)"/>
<rect x="660.5" y="32.7" width="6.3" height="9.2" fill="url(#pil)"/>
<rect x="579.4" y="21.6" width="99" height="4.4" fill="#55bb7c"/>
<g stroke="#2a2a2a" stroke-width="1.1" stroke-dasharray="2.4 1.3"><line x1="613.5" y1="33.1" x2="613.5" y2="55.1"/><line x1="630.3" y1="33.1" x2="630.3" y2="55.1"/></g>
<g stroke="#1a1a1a" stroke-width="1.1" fill="none"><line x1="614" y1="51.7" x2="629.8" y2="51.7"/><path d="M616.5,49.7 L614.1,51.7 L616.5,53.7"/><path d="M627.3,49.7 L629.7,51.7 L627.3,53.7"/></g>
<text x="623.6" y="65.1" font-size="11" fill="#1a1a1a" text-anchor="middle" font-family="Liberation Sans, sans-serif">139 nm</text>
<text x="665.7" y="55.2" font-size="11.5" fill="#ffffff" font-family="Liberation Sans, sans-serif">Si</text>
<rect x="579.4" y="4.6" width="99" height="65.5" fill="none" stroke="#333" stroke-width="1.3"/>
</g>
<g font-family="Liberation Sans, sans-serif" font-size="12.8" fill="#231f20">
<text x="55" y="229.5" text-anchor="end">0</text>
<text x="55" y="191.8" text-anchor="end">0.01</text>
<text x="55" y="154.1" text-anchor="end">0.02</text>
<text x="55" y="116.4" text-anchor="end">0.03</text>
<text x="55" y="442.8" text-anchor="end">0</text>
<text x="55" y="382.2" text-anchor="end">0.01</text>
<text x="55" y="321.6" text-anchor="end">0.02</text>
<text x="55" y="261" text-anchor="end">0.03</text>
<text x="395" y="237.1" text-anchor="end">0</text>
<text x="395" y="209.9" text-anchor="end">0.002</text>
<text x="395" y="155.5" text-anchor="end">0.006</text>
<text x="395" y="101.1" text-anchor="end">0.01</text>
<text x="395" y="46.7" text-anchor="end">0.014</text>
<text x="395" y="443.3" text-anchor="end">0</text>
<text x="395" y="413.8" text-anchor="end">0.002</text>
<text x="395" y="354.8" text-anchor="end">0.006</text>
<text x="395" y="295.8" text-anchor="end">0.01</text>
<text x="60.5" y="455" text-anchor="middle">800</text>
<text x="402" y="455" text-anchor="middle">800</text>
<text x="128.8" y="455" text-anchor="middle">1000</text>
<text x="467.9" y="455" text-anchor="middle">1000</text>
<text x="197" y="455" text-anchor="middle">1200</text>
<text x="533.8" y="455" text-anchor="middle">1200</text>
<text x="265.2" y="455" text-anchor="middle">1400</text>
<text x="599.6" y="455" text-anchor="middle">1400</text>
<text x="333.5" y="455" text-anchor="middle">1600</text>
<text x="665.5" y="455" text-anchor="middle">1600</text>
<text x="198.4" y="475.3" text-anchor="middle" font-size="13">Wavelength (nm)</text>
<text x="536" y="475.3" text-anchor="middle" font-size="13">Wavelength (nm)</text>
<text transform="translate(15.4,223.3) rotate(-90)" text-anchor="middle" font-size="13">Spectral efficiency (pW/nm/nA)</text>
<text transform="translate(674.5,130) rotate(90)" text-anchor="middle">Experiment</text>
<text transform="translate(674.5,323) rotate(90)" text-anchor="middle">Simulation</text>
</g>
<text x="0" y="13.6" font-family="Liberation Sans, sans-serif" font-weight="bold" font-size="18" fill="#000">a</text>
<text x="362.3" y="13.2" font-family="Liberation Sans, sans-serif" font-weight="bold" font-size="18" fill="#000">b</text>
</svg>
</body></html>
